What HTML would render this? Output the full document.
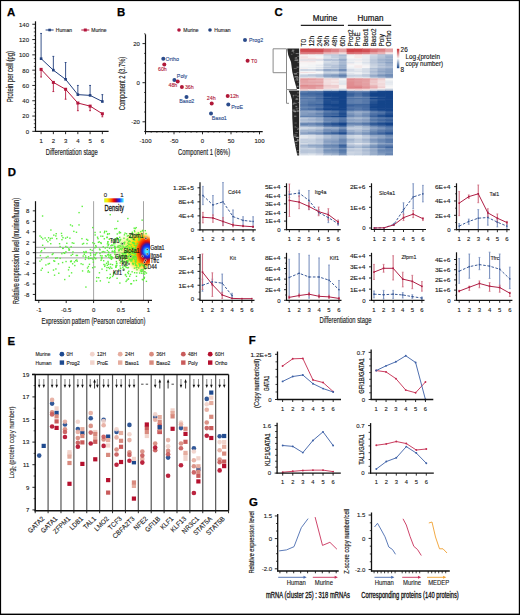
<!DOCTYPE html>
<html><head><meta charset="utf-8"><style>
html,body{margin:0;padding:0;background:#fff;}
svg{display:block;font-family:"Liberation Sans", sans-serif;}
</style></head><body>
<svg width="520" height="615" viewBox="0 0 520 615">
<rect width="520" height="615" fill="#fff"/>
<rect x="0.00" y="0.00" width="520.00" height="1.10" fill="#000"/>
<rect x="0.00" y="0.00" width="1.10" height="615.00" fill="#000"/>
<rect x="518.80" y="0.00" width="1.20" height="615.00" fill="#000"/>
<rect x="0.00" y="613.60" width="520.00" height="1.40" fill="#000"/>
<text transform="translate(7.00,15.50)" font-size="11.4" text-anchor="start" fill="#000" font-weight="bold" stroke="#000" stroke-width="0.25">A</text>
<text transform="translate(117.00,15.50)" font-size="11.4" text-anchor="start" fill="#000" font-weight="bold" stroke="#000" stroke-width="0.25">B</text>
<text transform="translate(274.50,15.50)" font-size="11.4" text-anchor="start" fill="#000" font-weight="bold" stroke="#000" stroke-width="0.25">C</text>
<text transform="translate(7.80,175.70)" font-size="11.4" text-anchor="start" fill="#000" font-weight="bold" stroke="#000" stroke-width="0.25">D</text>
<text transform="translate(7.50,345.00)" font-size="11.4" text-anchor="start" fill="#000" font-weight="bold" stroke="#000" stroke-width="0.25">E</text>
<text transform="translate(248.70,344.40)" font-size="11.4" text-anchor="start" fill="#000" font-weight="bold" stroke="#000" stroke-width="0.25">F</text>
<text transform="translate(249.00,505.50)" font-size="11.4" text-anchor="start" fill="#000" font-weight="bold" stroke="#000" stroke-width="0.25">G</text>
<line x1="35.50" y1="21.30" x2="35.50" y2="131.85" stroke="#111" stroke-width="1.2"/>
<line x1="34.90" y1="131.35" x2="108.60" y2="131.35" stroke="#111" stroke-width="1.2"/>
<line x1="32.30" y1="131.35" x2="35.50" y2="131.35" stroke="#111" stroke-width="0.9"/>
<text transform="translate(29.00,133.70)" font-size="6.0" text-anchor="end" fill="#222" font-weight="normal" stroke="#222" stroke-width="0.12">0</text>
<line x1="33.80" y1="127.52" x2="35.50" y2="127.52" stroke="#111" stroke-width="0.7"/>
<line x1="33.80" y1="123.70" x2="35.50" y2="123.70" stroke="#111" stroke-width="0.7"/>
<line x1="33.80" y1="119.88" x2="35.50" y2="119.88" stroke="#111" stroke-width="0.7"/>
<line x1="32.30" y1="116.05" x2="35.50" y2="116.05" stroke="#111" stroke-width="0.9"/>
<text transform="translate(29.00,118.40)" font-size="6.0" text-anchor="end" fill="#222" font-weight="normal" stroke="#222" stroke-width="0.12">20</text>
<line x1="33.80" y1="112.22" x2="35.50" y2="112.22" stroke="#111" stroke-width="0.7"/>
<line x1="33.80" y1="108.40" x2="35.50" y2="108.40" stroke="#111" stroke-width="0.7"/>
<line x1="33.80" y1="104.57" x2="35.50" y2="104.57" stroke="#111" stroke-width="0.7"/>
<line x1="32.30" y1="100.75" x2="35.50" y2="100.75" stroke="#111" stroke-width="0.9"/>
<text transform="translate(29.00,103.10)" font-size="6.0" text-anchor="end" fill="#222" font-weight="normal" stroke="#222" stroke-width="0.12">40</text>
<line x1="33.80" y1="96.92" x2="35.50" y2="96.92" stroke="#111" stroke-width="0.7"/>
<line x1="33.80" y1="93.10" x2="35.50" y2="93.10" stroke="#111" stroke-width="0.7"/>
<line x1="33.80" y1="89.27" x2="35.50" y2="89.27" stroke="#111" stroke-width="0.7"/>
<line x1="32.30" y1="85.45" x2="35.50" y2="85.45" stroke="#111" stroke-width="0.9"/>
<text transform="translate(29.00,87.80)" font-size="6.0" text-anchor="end" fill="#222" font-weight="normal" stroke="#222" stroke-width="0.12">60</text>
<line x1="33.80" y1="81.62" x2="35.50" y2="81.62" stroke="#111" stroke-width="0.7"/>
<line x1="33.80" y1="77.80" x2="35.50" y2="77.80" stroke="#111" stroke-width="0.7"/>
<line x1="33.80" y1="73.97" x2="35.50" y2="73.97" stroke="#111" stroke-width="0.7"/>
<line x1="32.30" y1="70.15" x2="35.50" y2="70.15" stroke="#111" stroke-width="0.9"/>
<text transform="translate(29.00,72.50)" font-size="6.0" text-anchor="end" fill="#222" font-weight="normal" stroke="#222" stroke-width="0.12">80</text>
<line x1="33.80" y1="66.32" x2="35.50" y2="66.32" stroke="#111" stroke-width="0.7"/>
<line x1="33.80" y1="62.50" x2="35.50" y2="62.50" stroke="#111" stroke-width="0.7"/>
<line x1="33.80" y1="58.67" x2="35.50" y2="58.67" stroke="#111" stroke-width="0.7"/>
<line x1="32.30" y1="54.85" x2="35.50" y2="54.85" stroke="#111" stroke-width="0.9"/>
<text transform="translate(29.00,57.20)" font-size="6.0" text-anchor="end" fill="#222" font-weight="normal" stroke="#222" stroke-width="0.12">100</text>
<line x1="33.80" y1="51.02" x2="35.50" y2="51.02" stroke="#111" stroke-width="0.7"/>
<line x1="33.80" y1="47.20" x2="35.50" y2="47.20" stroke="#111" stroke-width="0.7"/>
<line x1="33.80" y1="43.37" x2="35.50" y2="43.37" stroke="#111" stroke-width="0.7"/>
<line x1="32.30" y1="39.55" x2="35.50" y2="39.55" stroke="#111" stroke-width="0.9"/>
<text transform="translate(29.00,41.90)" font-size="6.0" text-anchor="end" fill="#222" font-weight="normal" stroke="#222" stroke-width="0.12">120</text>
<line x1="33.80" y1="35.72" x2="35.50" y2="35.72" stroke="#111" stroke-width="0.7"/>
<line x1="33.80" y1="31.90" x2="35.50" y2="31.90" stroke="#111" stroke-width="0.7"/>
<line x1="33.80" y1="28.07" x2="35.50" y2="28.07" stroke="#111" stroke-width="0.7"/>
<line x1="32.30" y1="24.25" x2="35.50" y2="24.25" stroke="#111" stroke-width="0.9"/>
<text transform="translate(29.00,26.60)" font-size="6.0" text-anchor="end" fill="#222" font-weight="normal" stroke="#222" stroke-width="0.12">140</text>
<line x1="41.10" y1="131.35" x2="41.10" y2="134.15" stroke="#111" stroke-width="0.9"/>
<text transform="translate(41.10,143.10)" font-size="6.0" text-anchor="middle" fill="#222" font-weight="normal" stroke="#222" stroke-width="0.12">1</text>
<line x1="53.35" y1="131.35" x2="53.35" y2="134.15" stroke="#111" stroke-width="0.9"/>
<text transform="translate(53.35,143.10)" font-size="6.0" text-anchor="middle" fill="#222" font-weight="normal" stroke="#222" stroke-width="0.12">2</text>
<line x1="65.60" y1="131.35" x2="65.60" y2="134.15" stroke="#111" stroke-width="0.9"/>
<text transform="translate(65.60,143.10)" font-size="6.0" text-anchor="middle" fill="#222" font-weight="normal" stroke="#222" stroke-width="0.12">3</text>
<line x1="77.85" y1="131.35" x2="77.85" y2="134.15" stroke="#111" stroke-width="0.9"/>
<text transform="translate(77.85,143.10)" font-size="6.0" text-anchor="middle" fill="#222" font-weight="normal" stroke="#222" stroke-width="0.12">4</text>
<line x1="90.10" y1="131.35" x2="90.10" y2="134.15" stroke="#111" stroke-width="0.9"/>
<text transform="translate(90.10,143.10)" font-size="6.0" text-anchor="middle" fill="#222" font-weight="normal" stroke="#222" stroke-width="0.12">5</text>
<line x1="102.35" y1="131.35" x2="102.35" y2="134.15" stroke="#111" stroke-width="0.9"/>
<text transform="translate(102.35,143.10)" font-size="6.0" text-anchor="middle" fill="#222" font-weight="normal" stroke="#222" stroke-width="0.12">6</text>
<text transform="translate(71.75,154.90)" font-size="8.6" text-anchor="middle" fill="#222" font-weight="normal" textLength="51.9" lengthAdjust="spacingAndGlyphs" stroke="#222" stroke-width="0.16">Differentiation stage</text>
<text transform="translate(12.80,76.70) rotate(-90)" font-size="8.6" text-anchor="middle" fill="#222" font-weight="normal" textLength="51.3" lengthAdjust="spacingAndGlyphs" stroke="#222" stroke-width="0.16">Protein per cell (pg)</text>
<line x1="41.10" y1="58.67" x2="41.10" y2="33.43" stroke="#22407e" stroke-width="0.9"/>
<line x1="40.20" y1="33.43" x2="42.00" y2="33.43" stroke="#22407e" stroke-width="0.9"/>
<line x1="41.10" y1="69.38" x2="41.10" y2="77.03" stroke="#b3163d" stroke-width="0.9"/>
<line x1="40.20" y1="77.03" x2="42.00" y2="77.03" stroke="#b3163d" stroke-width="0.9"/>
<line x1="53.35" y1="70.15" x2="53.35" y2="56.38" stroke="#22407e" stroke-width="0.9"/>
<line x1="52.45" y1="56.38" x2="54.25" y2="56.38" stroke="#22407e" stroke-width="0.9"/>
<line x1="53.35" y1="82.39" x2="53.35" y2="91.57" stroke="#b3163d" stroke-width="0.9"/>
<line x1="52.45" y1="91.57" x2="54.25" y2="91.57" stroke="#b3163d" stroke-width="0.9"/>
<line x1="65.60" y1="79.33" x2="65.60" y2="62.50" stroke="#22407e" stroke-width="0.9"/>
<line x1="64.70" y1="62.50" x2="66.50" y2="62.50" stroke="#22407e" stroke-width="0.9"/>
<line x1="65.60" y1="89.27" x2="65.60" y2="99.22" stroke="#b3163d" stroke-width="0.9"/>
<line x1="64.70" y1="99.22" x2="66.50" y2="99.22" stroke="#b3163d" stroke-width="0.9"/>
<line x1="77.85" y1="94.63" x2="77.85" y2="85.45" stroke="#22407e" stroke-width="0.9"/>
<line x1="76.95" y1="85.45" x2="78.75" y2="85.45" stroke="#22407e" stroke-width="0.9"/>
<line x1="77.85" y1="103.04" x2="77.85" y2="110.69" stroke="#b3163d" stroke-width="0.9"/>
<line x1="76.95" y1="110.69" x2="78.75" y2="110.69" stroke="#b3163d" stroke-width="0.9"/>
<line x1="90.10" y1="95.39" x2="90.10" y2="85.45" stroke="#22407e" stroke-width="0.9"/>
<line x1="89.20" y1="85.45" x2="91.00" y2="85.45" stroke="#22407e" stroke-width="0.9"/>
<line x1="90.10" y1="106.10" x2="90.10" y2="110.69" stroke="#b3163d" stroke-width="0.9"/>
<line x1="89.20" y1="110.69" x2="91.00" y2="110.69" stroke="#b3163d" stroke-width="0.9"/>
<line x1="102.35" y1="101.51" x2="102.35" y2="94.63" stroke="#22407e" stroke-width="0.9"/>
<line x1="101.45" y1="94.63" x2="103.25" y2="94.63" stroke="#22407e" stroke-width="0.9"/>
<line x1="102.35" y1="113.75" x2="102.35" y2="116.81" stroke="#b3163d" stroke-width="0.9"/>
<line x1="101.45" y1="116.81" x2="103.25" y2="116.81" stroke="#b3163d" stroke-width="0.9"/>
<polyline points="41.10,58.67 53.35,70.15 65.60,79.33 77.85,94.63 90.10,95.39 102.35,101.51" fill="none" stroke="#22407e" stroke-width="1.0" stroke-linejoin="round"/>
<polyline points="41.10,69.38 53.35,82.39 65.60,89.27 77.85,103.04 90.10,106.10 102.35,113.75" fill="none" stroke="#b3163d" stroke-width="1.0" stroke-linejoin="round"/>
<rect x="39.80" y="57.38" width="2.60" height="2.60" fill="#22407e"/>
<rect x="39.60" y="67.88" width="3.00" height="3.00" fill="#b3163d"/>
<rect x="52.05" y="68.85" width="2.60" height="2.60" fill="#22407e"/>
<rect x="51.85" y="80.89" width="3.00" height="3.00" fill="#b3163d"/>
<rect x="64.30" y="78.03" width="2.60" height="2.60" fill="#22407e"/>
<rect x="64.10" y="87.77" width="3.00" height="3.00" fill="#b3163d"/>
<rect x="76.55" y="93.33" width="2.60" height="2.60" fill="#22407e"/>
<rect x="76.35" y="101.54" width="3.00" height="3.00" fill="#b3163d"/>
<rect x="88.80" y="94.09" width="2.60" height="2.60" fill="#22407e"/>
<rect x="88.60" y="104.60" width="3.00" height="3.00" fill="#b3163d"/>
<rect x="101.05" y="100.21" width="2.60" height="2.60" fill="#22407e"/>
<rect x="100.85" y="112.25" width="3.00" height="3.00" fill="#b3163d"/>
<line x1="45.60" y1="30.00" x2="53.60" y2="30.00" stroke="#22407e" stroke-width="1"/>
<rect x="48.30" y="28.70" width="2.60" height="2.60" fill="#22407e"/>
<text transform="translate(55.80,32.00) scale(0.95,1)" font-size="5.3" text-anchor="start" fill="#222" font-weight="normal" stroke="#222" stroke-width="0.12">Human</text>
<line x1="81.30" y1="30.00" x2="89.30" y2="30.00" stroke="#b3163d" stroke-width="1"/>
<rect x="83.80" y="28.50" width="3.00" height="3.00" fill="#b3163d"/>
<text transform="translate(91.20,32.00) scale(0.95,1)" font-size="5.3" text-anchor="start" fill="#222" font-weight="normal" stroke="#222" stroke-width="0.12">Murine</text>
<line x1="145.50" y1="34.30" x2="145.50" y2="132.10" stroke="#111" stroke-width="1.2"/>
<line x1="144.90" y1="131.60" x2="262.70" y2="131.60" stroke="#111" stroke-width="1.2"/>
<line x1="144.00" y1="131.57" x2="145.50" y2="131.57" stroke="#111" stroke-width="0.7"/>
<line x1="142.50" y1="121.80" x2="145.50" y2="121.80" stroke="#111" stroke-width="0.9"/>
<text transform="translate(139.90,124.15)" font-size="6.0" text-anchor="end" fill="#222" font-weight="normal" stroke="#222" stroke-width="0.12">-20</text>
<line x1="144.00" y1="112.03" x2="145.50" y2="112.03" stroke="#111" stroke-width="0.7"/>
<line x1="144.00" y1="102.25" x2="145.50" y2="102.25" stroke="#111" stroke-width="0.7"/>
<line x1="144.00" y1="92.48" x2="145.50" y2="92.48" stroke="#111" stroke-width="0.7"/>
<line x1="142.50" y1="82.70" x2="145.50" y2="82.70" stroke="#111" stroke-width="0.9"/>
<text transform="translate(139.90,85.05)" font-size="6.0" text-anchor="end" fill="#222" font-weight="normal" stroke="#222" stroke-width="0.12">0</text>
<line x1="144.00" y1="72.92" x2="145.50" y2="72.92" stroke="#111" stroke-width="0.7"/>
<line x1="144.00" y1="63.15" x2="145.50" y2="63.15" stroke="#111" stroke-width="0.7"/>
<line x1="144.00" y1="53.38" x2="145.50" y2="53.38" stroke="#111" stroke-width="0.7"/>
<line x1="142.50" y1="43.60" x2="145.50" y2="43.60" stroke="#111" stroke-width="0.9"/>
<text transform="translate(139.90,45.95)" font-size="6.0" text-anchor="end" fill="#222" font-weight="normal" stroke="#222" stroke-width="0.12">20</text>
<line x1="144.00" y1="33.83" x2="145.50" y2="33.83" stroke="#111" stroke-width="0.7"/>
<line x1="145.50" y1="131.60" x2="145.50" y2="134.30" stroke="#111" stroke-width="0.9"/>
<text transform="translate(145.50,143.30)" font-size="6.0" text-anchor="middle" fill="#222" font-weight="normal" stroke="#222" stroke-width="0.12">-100</text>
<line x1="151.20" y1="131.60" x2="151.20" y2="132.80" stroke="#111" stroke-width="0.7"/>
<line x1="156.90" y1="131.60" x2="156.90" y2="132.80" stroke="#111" stroke-width="0.7"/>
<line x1="162.60" y1="131.60" x2="162.60" y2="132.80" stroke="#111" stroke-width="0.7"/>
<line x1="168.30" y1="131.60" x2="168.30" y2="132.80" stroke="#111" stroke-width="0.7"/>
<line x1="174.00" y1="131.60" x2="174.00" y2="134.30" stroke="#111" stroke-width="0.9"/>
<text transform="translate(174.00,143.30)" font-size="6.0" text-anchor="middle" fill="#222" font-weight="normal" stroke="#222" stroke-width="0.12">-50</text>
<line x1="179.70" y1="131.60" x2="179.70" y2="132.80" stroke="#111" stroke-width="0.7"/>
<line x1="185.40" y1="131.60" x2="185.40" y2="132.80" stroke="#111" stroke-width="0.7"/>
<line x1="191.10" y1="131.60" x2="191.10" y2="132.80" stroke="#111" stroke-width="0.7"/>
<line x1="196.80" y1="131.60" x2="196.80" y2="132.80" stroke="#111" stroke-width="0.7"/>
<line x1="202.50" y1="131.60" x2="202.50" y2="134.30" stroke="#111" stroke-width="0.9"/>
<text transform="translate(202.50,143.30)" font-size="6.0" text-anchor="middle" fill="#222" font-weight="normal" stroke="#222" stroke-width="0.12">0</text>
<line x1="208.20" y1="131.60" x2="208.20" y2="132.80" stroke="#111" stroke-width="0.7"/>
<line x1="213.90" y1="131.60" x2="213.90" y2="132.80" stroke="#111" stroke-width="0.7"/>
<line x1="219.60" y1="131.60" x2="219.60" y2="132.80" stroke="#111" stroke-width="0.7"/>
<line x1="225.30" y1="131.60" x2="225.30" y2="132.80" stroke="#111" stroke-width="0.7"/>
<line x1="231.00" y1="131.60" x2="231.00" y2="134.30" stroke="#111" stroke-width="0.9"/>
<text transform="translate(231.00,143.30)" font-size="6.0" text-anchor="middle" fill="#222" font-weight="normal" stroke="#222" stroke-width="0.12">50</text>
<line x1="236.70" y1="131.60" x2="236.70" y2="132.80" stroke="#111" stroke-width="0.7"/>
<line x1="242.40" y1="131.60" x2="242.40" y2="132.80" stroke="#111" stroke-width="0.7"/>
<line x1="248.10" y1="131.60" x2="248.10" y2="132.80" stroke="#111" stroke-width="0.7"/>
<line x1="253.80" y1="131.60" x2="253.80" y2="132.80" stroke="#111" stroke-width="0.7"/>
<line x1="259.50" y1="131.60" x2="259.50" y2="134.30" stroke="#111" stroke-width="0.9"/>
<text transform="translate(259.50,143.30)" font-size="6.0" text-anchor="middle" fill="#222" font-weight="normal" stroke="#222" stroke-width="0.12">100</text>
<text transform="translate(204.10,155.20)" font-size="8.6" text-anchor="middle" fill="#222" font-weight="normal" textLength="52" lengthAdjust="spacingAndGlyphs" stroke="#222" stroke-width="0.16">Component 1 (86%)</text>
<text transform="translate(125.30,83.50) rotate(-90)" font-size="8.6" text-anchor="middle" fill="#222" font-weight="normal" textLength="53.5" lengthAdjust="spacingAndGlyphs" stroke="#222" stroke-width="0.16">Component 2 (3.7%)</text>
<circle cx="179.00" cy="30.00" r="1.8" fill="#b3163d"/>
<text transform="translate(183.20,32.00) scale(0.95,1)" font-size="5.3" text-anchor="start" fill="#222" font-weight="normal" stroke="#222" stroke-width="0.12">Murine</text>
<circle cx="210.00" cy="30.00" r="1.8" fill="#22407e"/>
<text transform="translate(214.30,32.00) scale(0.95,1)" font-size="5.3" text-anchor="start" fill="#222" font-weight="normal" stroke="#222" stroke-width="0.12">Human</text>
<circle cx="245.00" cy="39.90" r="2.0" fill="#2b4c8c"/>
<text transform="translate(249.00,42.00)" font-size="5.3" text-anchor="start" fill="#2b4c8c" font-weight="normal" stroke="#2b4c8c" stroke-width="0.12">Prog2</text>
<circle cx="247.60" cy="60.80" r="2.0" fill="#b01838"/>
<text transform="translate(251.00,62.90)" font-size="5.3" text-anchor="start" fill="#b01838" font-weight="normal" stroke="#b01838" stroke-width="0.12">T0</text>
<circle cx="163.30" cy="58.80" r="2.0" fill="#2b4c8c"/>
<text transform="translate(165.60,60.90)" font-size="5.3" text-anchor="start" fill="#2b4c8c" font-weight="normal" stroke="#2b4c8c" stroke-width="0.12">Ortho</text>
<circle cx="164.30" cy="64.40" r="2.0" fill="#b01838"/>
<text transform="translate(162.40,71.10)" font-size="5.3" text-anchor="middle" fill="#b01838" font-weight="normal" stroke="#b01838" stroke-width="0.12">60h</text>
<circle cx="174.40" cy="80.10" r="2.0" fill="#2b4c8c"/>
<text transform="translate(182.00,77.90)" font-size="5.3" text-anchor="middle" fill="#2b4c8c" font-weight="normal" stroke="#2b4c8c" stroke-width="0.12">Poly</text>
<circle cx="177.70" cy="81.40" r="2.0" fill="#b01838"/>
<text transform="translate(172.90,87.10)" font-size="5.3" text-anchor="middle" fill="#b01838" font-weight="normal" stroke="#b01838" stroke-width="0.12">48h</text>
<circle cx="181.90" cy="87.00" r="2.0" fill="#b01838"/>
<text transform="translate(189.30,89.10)" font-size="5.3" text-anchor="middle" fill="#b01838" font-weight="normal" stroke="#b01838" stroke-width="0.12">36h</text>
<circle cx="186.50" cy="97.10" r="2.0" fill="#2b4c8c"/>
<text transform="translate(186.80,103.40)" font-size="5.3" text-anchor="middle" fill="#2b4c8c" font-weight="normal" stroke="#2b4c8c" stroke-width="0.12">Baso2</text>
<circle cx="211.70" cy="103.60" r="2.0" fill="#b01838"/>
<text transform="translate(211.20,99.80)" font-size="5.3" text-anchor="middle" fill="#b01838" font-weight="normal" stroke="#b01838" stroke-width="0.12">24h</text>
<circle cx="227.70" cy="96.10" r="2.0" fill="#b01838"/>
<text transform="translate(234.40,98.10)" font-size="5.3" text-anchor="middle" fill="#b01838" font-weight="normal" stroke="#b01838" stroke-width="0.12">12h</text>
<circle cx="228.30" cy="104.60" r="2.0" fill="#2b4c8c"/>
<text transform="translate(237.10,108.70)" font-size="5.3" text-anchor="middle" fill="#2b4c8c" font-weight="normal" stroke="#2b4c8c" stroke-width="0.12">ProE</text>
<circle cx="211.00" cy="113.40" r="2.0" fill="#2b4c8c"/>
<text transform="translate(219.30,119.50)" font-size="5.3" text-anchor="middle" fill="#2b4c8c" font-weight="normal" stroke="#2b4c8c" stroke-width="0.12">Baso1</text>
<rect x="300.20" y="48.50" width="8.33" height="2.60" fill="#d0464c"/>
<rect x="307.93" y="48.50" width="8.33" height="2.60" fill="#d1494f"/>
<rect x="315.67" y="48.50" width="8.33" height="2.60" fill="#d24f54"/>
<rect x="323.40" y="48.50" width="8.33" height="2.60" fill="#d96d72"/>
<rect x="331.13" y="48.50" width="8.33" height="2.60" fill="#dd7f83"/>
<rect x="338.87" y="48.50" width="8.33" height="2.60" fill="#e49fa2"/>
<rect x="346.60" y="48.50" width="8.33" height="2.60" fill="#cf4046"/>
<rect x="354.33" y="48.50" width="8.33" height="2.60" fill="#ce3f45"/>
<rect x="362.07" y="48.50" width="8.33" height="2.60" fill="#d35358"/>
<rect x="369.80" y="48.50" width="8.33" height="2.60" fill="#d97075"/>
<rect x="377.53" y="48.50" width="8.33" height="2.60" fill="#db797d"/>
<rect x="385.27" y="48.50" width="7.73" height="2.60" fill="#e4a0a3"/>
<rect x="300.20" y="50.50" width="8.33" height="2.40" fill="#d24f54"/>
<rect x="307.93" y="50.50" width="8.33" height="2.40" fill="#d24d53"/>
<rect x="315.67" y="50.50" width="8.33" height="2.40" fill="#d14c52"/>
<rect x="323.40" y="50.50" width="8.33" height="2.40" fill="#db767b"/>
<rect x="331.13" y="50.50" width="8.33" height="2.40" fill="#de8489"/>
<rect x="338.87" y="50.50" width="8.33" height="2.40" fill="#e5a1a4"/>
<rect x="346.60" y="50.50" width="8.33" height="2.40" fill="#cf4249"/>
<rect x="354.33" y="50.50" width="8.33" height="2.40" fill="#d1494f"/>
<rect x="362.07" y="50.50" width="8.33" height="2.40" fill="#d24f54"/>
<rect x="369.80" y="50.50" width="8.33" height="2.40" fill="#d96f74"/>
<rect x="377.53" y="50.50" width="8.33" height="2.40" fill="#df8b8f"/>
<rect x="385.27" y="50.50" width="7.73" height="2.40" fill="#e6a8ab"/>
<rect x="300.20" y="52.30" width="8.33" height="1.90" fill="#dd7e83"/>
<rect x="307.93" y="52.30" width="8.33" height="1.90" fill="#dc7d82"/>
<rect x="315.67" y="52.30" width="8.33" height="1.90" fill="#dd8286"/>
<rect x="323.40" y="52.30" width="8.33" height="1.90" fill="#e9b3b6"/>
<rect x="331.13" y="52.30" width="8.33" height="1.90" fill="#eababc"/>
<rect x="338.87" y="52.30" width="8.33" height="1.90" fill="#f1d7d8"/>
<rect x="346.60" y="52.30" width="8.33" height="1.90" fill="#da7176"/>
<rect x="354.33" y="52.30" width="8.33" height="1.90" fill="#db777c"/>
<rect x="362.07" y="52.30" width="8.33" height="1.90" fill="#de8287"/>
<rect x="369.80" y="52.30" width="8.33" height="1.90" fill="#e5a5a8"/>
<rect x="377.53" y="52.30" width="8.33" height="1.90" fill="#e9b4b6"/>
<rect x="385.27" y="52.30" width="7.73" height="1.90" fill="#f4e5e6"/>
<rect x="300.20" y="53.60" width="8.33" height="1.30" fill="#dc7b80"/>
<rect x="307.93" y="53.60" width="8.33" height="1.30" fill="#dd7f83"/>
<rect x="315.67" y="53.60" width="8.33" height="1.30" fill="#dd8286"/>
<rect x="323.40" y="53.60" width="8.33" height="1.30" fill="#eabbbd"/>
<rect x="331.13" y="53.60" width="8.33" height="1.30" fill="#ecc3c5"/>
<rect x="338.87" y="53.60" width="8.33" height="1.30" fill="#f2dedf"/>
<rect x="346.60" y="53.60" width="8.33" height="1.30" fill="#d97075"/>
<rect x="354.33" y="53.60" width="8.33" height="1.30" fill="#dc7c80"/>
<rect x="362.07" y="53.60" width="8.33" height="1.30" fill="#df888c"/>
<rect x="369.80" y="53.60" width="8.33" height="1.30" fill="#e5a5a8"/>
<rect x="377.53" y="53.60" width="8.33" height="1.30" fill="#e9b3b6"/>
<rect x="385.27" y="53.60" width="7.73" height="1.30" fill="#f4e6e7"/>
<rect x="300.20" y="54.30" width="8.33" height="1.50" fill="#f5e9e9"/>
<rect x="307.93" y="54.30" width="8.33" height="1.50" fill="#f6eff0"/>
<rect x="315.67" y="54.30" width="8.33" height="1.50" fill="#f3f4f6"/>
<rect x="323.40" y="54.30" width="8.33" height="1.50" fill="#c1cdde"/>
<rect x="331.13" y="54.30" width="8.33" height="1.50" fill="#becadc"/>
<rect x="338.87" y="54.30" width="8.33" height="1.50" fill="#afbed5"/>
<rect x="346.60" y="54.30" width="8.33" height="1.50" fill="#f5f6f6"/>
<rect x="354.33" y="54.30" width="8.33" height="1.50" fill="#f5e9ea"/>
<rect x="362.07" y="54.30" width="8.33" height="1.50" fill="#eef0f3"/>
<rect x="369.80" y="54.30" width="8.33" height="1.50" fill="#d2dae6"/>
<rect x="377.53" y="54.30" width="8.33" height="1.50" fill="#adbdd4"/>
<rect x="385.27" y="54.30" width="7.73" height="1.50" fill="#a7b8d1"/>
<rect x="300.20" y="55.20" width="8.33" height="1.60" fill="#f6edee"/>
<rect x="307.93" y="55.20" width="8.33" height="1.60" fill="#f2f3f5"/>
<rect x="315.67" y="55.20" width="8.33" height="1.60" fill="#edeff3"/>
<rect x="323.40" y="55.20" width="8.33" height="1.60" fill="#cdd6e3"/>
<rect x="331.13" y="55.20" width="8.33" height="1.60" fill="#bdc9db"/>
<rect x="338.87" y="55.20" width="8.33" height="1.60" fill="#a5b7d0"/>
<rect x="346.60" y="55.20" width="8.33" height="1.60" fill="#f0f2f4"/>
<rect x="354.33" y="55.20" width="8.33" height="1.60" fill="#f5e9e9"/>
<rect x="362.07" y="55.20" width="8.33" height="1.60" fill="#e7ebf0"/>
<rect x="369.80" y="55.20" width="8.33" height="1.60" fill="#ccd5e3"/>
<rect x="377.53" y="55.20" width="8.33" height="1.60" fill="#b7c5d9"/>
<rect x="385.27" y="55.20" width="7.73" height="1.60" fill="#a2b4cf"/>
<rect x="300.20" y="56.20" width="8.33" height="2.60" fill="#f3e0e1"/>
<rect x="307.93" y="56.20" width="8.33" height="2.60" fill="#f6f0f1"/>
<rect x="315.67" y="56.20" width="8.33" height="2.60" fill="#f5f6f7"/>
<rect x="323.40" y="56.20" width="8.33" height="2.60" fill="#d8dfe9"/>
<rect x="331.13" y="56.20" width="8.33" height="2.60" fill="#c2cede"/>
<rect x="338.87" y="56.20" width="8.33" height="2.60" fill="#b7c5d9"/>
<rect x="346.60" y="56.20" width="8.33" height="2.60" fill="#f7f6f6"/>
<rect x="354.33" y="56.20" width="8.33" height="2.60" fill="#f5e9e9"/>
<rect x="362.07" y="56.20" width="8.33" height="2.60" fill="#e9ecf1"/>
<rect x="369.80" y="56.20" width="8.33" height="2.60" fill="#c6d0e0"/>
<rect x="377.53" y="56.20" width="8.33" height="2.60" fill="#b2c1d6"/>
<rect x="385.27" y="56.20" width="7.73" height="2.60" fill="#9aaecb"/>
<rect x="300.20" y="58.20" width="8.33" height="1.90" fill="#f4e4e5"/>
<rect x="307.93" y="58.20" width="8.33" height="1.90" fill="#f2dfe0"/>
<rect x="315.67" y="58.20" width="8.33" height="1.90" fill="#f5e9ea"/>
<rect x="323.40" y="58.20" width="8.33" height="1.90" fill="#d1d9e5"/>
<rect x="331.13" y="58.20" width="8.33" height="1.90" fill="#d2dae6"/>
<rect x="338.87" y="58.20" width="8.33" height="1.90" fill="#adbdd4"/>
<rect x="346.60" y="58.20" width="8.33" height="1.90" fill="#f0f1f4"/>
<rect x="354.33" y="58.20" width="8.33" height="1.90" fill="#f0f2f4"/>
<rect x="362.07" y="58.20" width="8.33" height="1.90" fill="#e7eaf0"/>
<rect x="369.80" y="58.20" width="8.33" height="1.90" fill="#c3cede"/>
<rect x="377.53" y="58.20" width="8.33" height="1.90" fill="#aabad2"/>
<rect x="385.27" y="58.20" width="7.73" height="1.90" fill="#a3b5cf"/>
<rect x="300.20" y="59.50" width="8.33" height="1.60" fill="#d3dae6"/>
<rect x="307.93" y="59.50" width="8.33" height="1.60" fill="#d7dee8"/>
<rect x="315.67" y="59.50" width="8.33" height="1.60" fill="#c7d1e0"/>
<rect x="323.40" y="59.50" width="8.33" height="1.60" fill="#95a9c8"/>
<rect x="331.13" y="59.50" width="8.33" height="1.60" fill="#97abc9"/>
<rect x="338.87" y="59.50" width="8.33" height="1.60" fill="#8099be"/>
<rect x="346.60" y="59.50" width="8.33" height="1.60" fill="#e1e6ed"/>
<rect x="354.33" y="59.50" width="8.33" height="1.60" fill="#e2e6ed"/>
<rect x="362.07" y="59.50" width="8.33" height="1.60" fill="#dce2ea"/>
<rect x="369.80" y="59.50" width="8.33" height="1.60" fill="#b4c2d7"/>
<rect x="377.53" y="59.50" width="8.33" height="1.60" fill="#96abc9"/>
<rect x="385.27" y="59.50" width="7.73" height="1.60" fill="#879fc1"/>
<rect x="300.20" y="60.50" width="8.33" height="1.90" fill="#f4e5e6"/>
<rect x="307.93" y="60.50" width="8.33" height="1.90" fill="#f4e4e5"/>
<rect x="315.67" y="60.50" width="8.33" height="1.90" fill="#f7f4f4"/>
<rect x="323.40" y="60.50" width="8.33" height="1.90" fill="#d5dce7"/>
<rect x="331.13" y="60.50" width="8.33" height="1.90" fill="#d0d8e4"/>
<rect x="338.87" y="60.50" width="8.33" height="1.90" fill="#b1c0d6"/>
<rect x="346.60" y="60.50" width="8.33" height="1.90" fill="#f0f2f4"/>
<rect x="354.33" y="60.50" width="8.33" height="1.90" fill="#f7f2f2"/>
<rect x="362.07" y="60.50" width="8.33" height="1.90" fill="#eaedf1"/>
<rect x="369.80" y="60.50" width="8.33" height="1.90" fill="#becadc"/>
<rect x="377.53" y="60.50" width="8.33" height="1.90" fill="#aebdd4"/>
<rect x="385.27" y="60.50" width="7.73" height="1.90" fill="#a3b5cf"/>
<rect x="300.20" y="61.80" width="8.33" height="2.20" fill="#f7f2f2"/>
<rect x="307.93" y="61.80" width="8.33" height="2.20" fill="#f6f1f1"/>
<rect x="315.67" y="61.80" width="8.33" height="2.20" fill="#f7f6f6"/>
<rect x="323.40" y="61.80" width="8.33" height="2.20" fill="#d0d9e5"/>
<rect x="331.13" y="61.80" width="8.33" height="2.20" fill="#c5d0df"/>
<rect x="338.87" y="61.80" width="8.33" height="2.20" fill="#a7b8d1"/>
<rect x="346.60" y="61.80" width="8.33" height="2.20" fill="#dfe4ec"/>
<rect x="354.33" y="61.80" width="8.33" height="2.20" fill="#eef0f3"/>
<rect x="362.07" y="61.80" width="8.33" height="2.20" fill="#dae1ea"/>
<rect x="369.80" y="61.80" width="8.33" height="2.20" fill="#b9c6d9"/>
<rect x="377.53" y="61.80" width="8.33" height="2.20" fill="#a0b3ce"/>
<rect x="385.27" y="61.80" width="7.73" height="2.20" fill="#88a0c2"/>
<rect x="300.20" y="63.40" width="8.33" height="1.90" fill="#f7f5f5"/>
<rect x="307.93" y="63.40" width="8.33" height="1.90" fill="#f7f5f5"/>
<rect x="315.67" y="63.40" width="8.33" height="1.90" fill="#f5f5f6"/>
<rect x="323.40" y="63.40" width="8.33" height="1.90" fill="#c3cfdf"/>
<rect x="331.13" y="63.40" width="8.33" height="1.90" fill="#ccd5e3"/>
<rect x="338.87" y="63.40" width="8.33" height="1.90" fill="#adbdd4"/>
<rect x="346.60" y="63.40" width="8.33" height="1.90" fill="#f6f0f0"/>
<rect x="354.33" y="63.40" width="8.33" height="1.90" fill="#f8f8f8"/>
<rect x="362.07" y="63.40" width="8.33" height="1.90" fill="#e9ecf1"/>
<rect x="369.80" y="63.40" width="8.33" height="1.90" fill="#c6d0e0"/>
<rect x="377.53" y="63.40" width="8.33" height="1.90" fill="#bdc9dc"/>
<rect x="385.27" y="63.40" width="7.73" height="1.90" fill="#a2b4cf"/>
<rect x="300.20" y="64.70" width="8.33" height="1.60" fill="#f8f8f8"/>
<rect x="307.93" y="64.70" width="8.33" height="1.60" fill="#f0f2f4"/>
<rect x="315.67" y="64.70" width="8.33" height="1.60" fill="#e1e6ed"/>
<rect x="323.40" y="64.70" width="8.33" height="1.60" fill="#b5c3d7"/>
<rect x="331.13" y="64.70" width="8.33" height="1.60" fill="#b2c1d6"/>
<rect x="338.87" y="64.70" width="8.33" height="1.60" fill="#96abc9"/>
<rect x="346.60" y="64.70" width="8.33" height="1.60" fill="#f6f6f7"/>
<rect x="354.33" y="64.70" width="8.33" height="1.60" fill="#f6efef"/>
<rect x="362.07" y="64.70" width="8.33" height="1.60" fill="#f0f2f4"/>
<rect x="369.80" y="64.70" width="8.33" height="1.60" fill="#c5d0df"/>
<rect x="377.53" y="64.70" width="8.33" height="1.60" fill="#a7b8d1"/>
<rect x="385.27" y="64.70" width="7.73" height="1.60" fill="#9aaecb"/>
<rect x="300.20" y="65.70" width="8.33" height="1.60" fill="#f8f6f6"/>
<rect x="307.93" y="65.70" width="8.33" height="1.60" fill="#f7f7f7"/>
<rect x="315.67" y="65.70" width="8.33" height="1.60" fill="#f6f6f7"/>
<rect x="323.40" y="65.70" width="8.33" height="1.60" fill="#d2dae6"/>
<rect x="331.13" y="65.70" width="8.33" height="1.60" fill="#bbc8db"/>
<rect x="338.87" y="65.70" width="8.33" height="1.60" fill="#a4b6d0"/>
<rect x="346.60" y="65.70" width="8.33" height="1.60" fill="#f5f6f7"/>
<rect x="354.33" y="65.70" width="8.33" height="1.60" fill="#f5ebec"/>
<rect x="362.07" y="65.70" width="8.33" height="1.60" fill="#f7f4f5"/>
<rect x="369.80" y="65.70" width="8.33" height="1.60" fill="#cfd7e4"/>
<rect x="377.53" y="65.70" width="8.33" height="1.60" fill="#bdc9db"/>
<rect x="385.27" y="65.70" width="7.73" height="1.60" fill="#abbbd3"/>
<rect x="300.20" y="66.70" width="8.33" height="1.90" fill="#eff1f4"/>
<rect x="307.93" y="66.70" width="8.33" height="1.90" fill="#edf0f3"/>
<rect x="315.67" y="66.70" width="8.33" height="1.90" fill="#e1e6ed"/>
<rect x="323.40" y="66.70" width="8.33" height="1.90" fill="#b9c6d9"/>
<rect x="331.13" y="66.70" width="8.33" height="1.90" fill="#b2c0d6"/>
<rect x="338.87" y="66.70" width="8.33" height="1.90" fill="#9cafcc"/>
<rect x="346.60" y="66.70" width="8.33" height="1.90" fill="#eff1f4"/>
<rect x="354.33" y="66.70" width="8.33" height="1.90" fill="#f5ecec"/>
<rect x="362.07" y="66.70" width="8.33" height="1.90" fill="#f6f6f7"/>
<rect x="369.80" y="66.70" width="8.33" height="1.90" fill="#ced7e4"/>
<rect x="377.53" y="66.70" width="8.33" height="1.90" fill="#b7c4d9"/>
<rect x="385.27" y="66.70" width="7.73" height="1.90" fill="#abbbd3"/>
<rect x="300.20" y="68.00" width="8.33" height="1.60" fill="#f6efef"/>
<rect x="307.93" y="68.00" width="8.33" height="1.60" fill="#f4f5f6"/>
<rect x="315.67" y="68.00" width="8.33" height="1.60" fill="#eceef2"/>
<rect x="323.40" y="68.00" width="8.33" height="1.60" fill="#c8d2e1"/>
<rect x="331.13" y="68.00" width="8.33" height="1.60" fill="#c2cede"/>
<rect x="338.87" y="68.00" width="8.33" height="1.60" fill="#a1b4ce"/>
<rect x="346.60" y="68.00" width="8.33" height="1.60" fill="#e9ecf1"/>
<rect x="354.33" y="68.00" width="8.33" height="1.60" fill="#edeff3"/>
<rect x="362.07" y="68.00" width="8.33" height="1.60" fill="#d9e0e9"/>
<rect x="369.80" y="68.00" width="8.33" height="1.60" fill="#b0bfd5"/>
<rect x="377.53" y="68.00" width="8.33" height="1.60" fill="#a1b3ce"/>
<rect x="385.27" y="68.00" width="7.73" height="1.60" fill="#94a9c8"/>
<rect x="300.20" y="69.00" width="8.33" height="2.60" fill="#cdd6e3"/>
<rect x="307.93" y="69.00" width="8.33" height="2.60" fill="#d1d9e5"/>
<rect x="315.67" y="69.00" width="8.33" height="2.60" fill="#becadc"/>
<rect x="323.40" y="69.00" width="8.33" height="2.60" fill="#91a6c6"/>
<rect x="331.13" y="69.00" width="8.33" height="2.60" fill="#98acca"/>
<rect x="338.87" y="69.00" width="8.33" height="2.60" fill="#718db7"/>
<rect x="346.60" y="69.00" width="8.33" height="2.60" fill="#d6dde8"/>
<rect x="354.33" y="69.00" width="8.33" height="2.60" fill="#e4e8ee"/>
<rect x="362.07" y="69.00" width="8.33" height="2.60" fill="#d5dde7"/>
<rect x="369.80" y="69.00" width="8.33" height="2.60" fill="#b9c6d9"/>
<rect x="377.53" y="69.00" width="8.33" height="2.60" fill="#9baecb"/>
<rect x="385.27" y="69.00" width="7.73" height="2.60" fill="#8ba2c4"/>
<rect x="300.20" y="71.00" width="8.33" height="1.60" fill="#f1f3f5"/>
<rect x="307.93" y="71.00" width="8.33" height="1.60" fill="#f2f3f5"/>
<rect x="315.67" y="71.00" width="8.33" height="1.60" fill="#edeff3"/>
<rect x="323.40" y="71.00" width="8.33" height="1.60" fill="#b7c5d9"/>
<rect x="331.13" y="71.00" width="8.33" height="1.60" fill="#b9c6d9"/>
<rect x="338.87" y="71.00" width="8.33" height="1.60" fill="#9cafcc"/>
<rect x="346.60" y="71.00" width="8.33" height="1.60" fill="#dbe1ea"/>
<rect x="354.33" y="71.00" width="8.33" height="1.60" fill="#dce2ea"/>
<rect x="362.07" y="71.00" width="8.33" height="1.60" fill="#d2dae6"/>
<rect x="369.80" y="71.00" width="8.33" height="1.60" fill="#abbbd3"/>
<rect x="377.53" y="71.00" width="8.33" height="1.60" fill="#8fa5c5"/>
<rect x="385.27" y="71.00" width="7.73" height="1.60" fill="#88a0c2"/>
<rect x="300.20" y="72.00" width="8.33" height="1.60" fill="#f3e0e1"/>
<rect x="307.93" y="72.00" width="8.33" height="1.60" fill="#f4e7e8"/>
<rect x="315.67" y="72.00" width="8.33" height="1.60" fill="#f8f8f8"/>
<rect x="323.40" y="72.00" width="8.33" height="1.60" fill="#c7d2e1"/>
<rect x="331.13" y="72.00" width="8.33" height="1.60" fill="#ced7e4"/>
<rect x="338.87" y="72.00" width="8.33" height="1.60" fill="#b3c1d7"/>
<rect x="346.60" y="72.00" width="8.33" height="1.60" fill="#ebeef2"/>
<rect x="354.33" y="72.00" width="8.33" height="1.60" fill="#eceff2"/>
<rect x="362.07" y="72.00" width="8.33" height="1.60" fill="#d8dfe9"/>
<rect x="369.80" y="72.00" width="8.33" height="1.60" fill="#b1c0d6"/>
<rect x="377.53" y="72.00" width="8.33" height="1.60" fill="#9bafcb"/>
<rect x="385.27" y="72.00" width="7.73" height="1.60" fill="#88a0c2"/>
<rect x="300.20" y="73.00" width="8.33" height="1.60" fill="#f4f5f6"/>
<rect x="307.93" y="73.00" width="8.33" height="1.60" fill="#f4f5f6"/>
<rect x="315.67" y="73.00" width="8.33" height="1.60" fill="#ebedf2"/>
<rect x="323.40" y="73.00" width="8.33" height="1.60" fill="#b9c7da"/>
<rect x="331.13" y="73.00" width="8.33" height="1.60" fill="#bcc9db"/>
<rect x="338.87" y="73.00" width="8.33" height="1.60" fill="#98adca"/>
<rect x="346.60" y="73.00" width="8.33" height="1.60" fill="#e1e6ed"/>
<rect x="354.33" y="73.00" width="8.33" height="1.60" fill="#eff1f4"/>
<rect x="362.07" y="73.00" width="8.33" height="1.60" fill="#e1e6ed"/>
<rect x="369.80" y="73.00" width="8.33" height="1.60" fill="#bac7da"/>
<rect x="377.53" y="73.00" width="8.33" height="1.60" fill="#a1b3ce"/>
<rect x="385.27" y="73.00" width="7.73" height="1.60" fill="#91a7c6"/>
<rect x="300.20" y="74.00" width="8.33" height="1.90" fill="#d7dee8"/>
<rect x="307.93" y="74.00" width="8.33" height="1.90" fill="#c6d0e0"/>
<rect x="315.67" y="74.00" width="8.33" height="1.90" fill="#c0cbdd"/>
<rect x="323.40" y="74.00" width="8.33" height="1.90" fill="#98acca"/>
<rect x="331.13" y="74.00" width="8.33" height="1.90" fill="#90a6c6"/>
<rect x="338.87" y="74.00" width="8.33" height="1.90" fill="#7792ba"/>
<rect x="346.60" y="74.00" width="8.33" height="1.90" fill="#d8dfe9"/>
<rect x="354.33" y="74.00" width="8.33" height="1.90" fill="#dbe1ea"/>
<rect x="362.07" y="74.00" width="8.33" height="1.90" fill="#c3cede"/>
<rect x="369.80" y="74.00" width="8.33" height="1.90" fill="#a9bad2"/>
<rect x="377.53" y="74.00" width="8.33" height="1.90" fill="#8aa1c3"/>
<rect x="385.27" y="74.00" width="7.73" height="1.90" fill="#738fb8"/>
<rect x="300.20" y="75.30" width="8.33" height="1.60" fill="#bbc8da"/>
<rect x="307.93" y="75.30" width="8.33" height="1.60" fill="#b5c3d7"/>
<rect x="315.67" y="75.30" width="8.33" height="1.60" fill="#acbcd3"/>
<rect x="323.40" y="75.30" width="8.33" height="1.60" fill="#819abf"/>
<rect x="331.13" y="75.30" width="8.33" height="1.60" fill="#738fb8"/>
<rect x="338.87" y="75.30" width="8.33" height="1.60" fill="#5275a8"/>
<rect x="346.60" y="75.30" width="8.33" height="1.60" fill="#becadc"/>
<rect x="354.33" y="75.30" width="8.33" height="1.60" fill="#c2cdde"/>
<rect x="362.07" y="75.30" width="8.33" height="1.60" fill="#bac7da"/>
<rect x="369.80" y="75.30" width="8.33" height="1.60" fill="#8aa1c3"/>
<rect x="377.53" y="75.30" width="8.33" height="1.60" fill="#708db6"/>
<rect x="385.27" y="75.30" width="7.73" height="1.60" fill="#6987b3"/>
<rect x="300.20" y="76.30" width="8.33" height="1.80" fill="#c9d3e1"/>
<rect x="307.93" y="76.30" width="8.33" height="1.80" fill="#d0d9e5"/>
<rect x="315.67" y="76.30" width="8.33" height="1.80" fill="#b9c6da"/>
<rect x="323.40" y="76.30" width="8.33" height="1.80" fill="#91a7c6"/>
<rect x="331.13" y="76.30" width="8.33" height="1.80" fill="#8ea5c5"/>
<rect x="338.87" y="76.30" width="8.33" height="1.80" fill="#728eb7"/>
<rect x="346.60" y="76.30" width="8.33" height="1.80" fill="#d1d9e5"/>
<rect x="354.33" y="76.30" width="8.33" height="1.80" fill="#d5dde7"/>
<rect x="362.07" y="76.30" width="8.33" height="1.80" fill="#c6d1e0"/>
<rect x="369.80" y="76.30" width="8.33" height="1.80" fill="#a0b2cd"/>
<rect x="377.53" y="76.30" width="8.33" height="1.80" fill="#94a9c8"/>
<rect x="385.27" y="76.30" width="7.73" height="1.80" fill="#7893ba"/>
<rect x="300.20" y="77.50" width="8.33" height="1.40" fill="#f5e9e9"/>
<rect x="307.93" y="77.50" width="8.33" height="1.40" fill="#f3e1e2"/>
<rect x="315.67" y="77.50" width="8.33" height="1.40" fill="#f4e8e9"/>
<rect x="323.40" y="77.50" width="8.33" height="1.40" fill="#dce2ea"/>
<rect x="331.13" y="77.50" width="8.33" height="1.40" fill="#c6d0e0"/>
<rect x="338.87" y="77.50" width="8.33" height="1.40" fill="#b1c0d6"/>
<rect x="346.60" y="77.50" width="8.33" height="1.40" fill="#f4e6e7"/>
<rect x="354.33" y="77.50" width="8.33" height="1.40" fill="#f5eaea"/>
<rect x="362.07" y="77.50" width="8.33" height="1.40" fill="#f4f5f6"/>
<rect x="369.80" y="77.50" width="8.33" height="1.40" fill="#d3dbe6"/>
<rect x="377.53" y="77.50" width="8.33" height="1.40" fill="#b9c6d9"/>
<rect x="385.27" y="77.50" width="7.73" height="1.40" fill="#a5b6d0"/>
<rect x="300.20" y="78.30" width="8.33" height="2.60" fill="#e39a9d"/>
<rect x="307.93" y="78.30" width="8.33" height="2.60" fill="#e49ea1"/>
<rect x="315.67" y="78.30" width="8.33" height="2.60" fill="#e6a8ab"/>
<rect x="323.40" y="78.30" width="8.33" height="2.60" fill="#f1d8d9"/>
<rect x="331.13" y="78.30" width="8.33" height="2.60" fill="#f2dcdd"/>
<rect x="338.87" y="78.30" width="8.33" height="2.60" fill="#f2f3f5"/>
<rect x="346.60" y="78.30" width="8.33" height="2.60" fill="#e08e92"/>
<rect x="354.33" y="78.30" width="8.33" height="2.60" fill="#e2969a"/>
<rect x="362.07" y="78.30" width="8.33" height="2.60" fill="#e39c9f"/>
<rect x="369.80" y="78.30" width="8.33" height="2.60" fill="#eab9bb"/>
<rect x="377.53" y="78.30" width="8.33" height="2.60" fill="#efd1d2"/>
<rect x="385.27" y="78.30" width="7.73" height="2.60" fill="#f7f7f7"/>
<rect x="300.20" y="80.30" width="8.33" height="1.90" fill="#e5a3a6"/>
<rect x="307.93" y="80.30" width="8.33" height="1.90" fill="#e8b1b3"/>
<rect x="315.67" y="80.30" width="8.33" height="1.90" fill="#e8b3b5"/>
<rect x="323.40" y="80.30" width="8.33" height="1.90" fill="#f3e1e2"/>
<rect x="331.13" y="80.30" width="8.33" height="1.90" fill="#f5eaea"/>
<rect x="338.87" y="80.30" width="8.33" height="1.90" fill="#e6eaef"/>
<rect x="346.60" y="80.30" width="8.33" height="1.90" fill="#e29598"/>
<rect x="354.33" y="80.30" width="8.33" height="1.90" fill="#e39b9e"/>
<rect x="362.07" y="80.30" width="8.33" height="1.90" fill="#e49ea1"/>
<rect x="369.80" y="80.30" width="8.33" height="1.90" fill="#eecacc"/>
<rect x="377.53" y="80.30" width="8.33" height="1.90" fill="#f2dedf"/>
<rect x="385.27" y="80.30" width="7.73" height="1.90" fill="#eaedf1"/>
<rect x="300.20" y="81.60" width="8.33" height="1.90" fill="#e5a2a5"/>
<rect x="307.93" y="81.60" width="8.33" height="1.90" fill="#e5a4a7"/>
<rect x="315.67" y="81.60" width="8.33" height="1.90" fill="#e5a5a8"/>
<rect x="323.40" y="81.60" width="8.33" height="1.90" fill="#f2ddde"/>
<rect x="331.13" y="81.60" width="8.33" height="1.90" fill="#f2dcdd"/>
<rect x="338.87" y="81.60" width="8.33" height="1.90" fill="#e6e9ef"/>
<rect x="346.60" y="81.60" width="8.33" height="1.90" fill="#e08f92"/>
<rect x="354.33" y="81.60" width="8.33" height="1.90" fill="#e2989c"/>
<rect x="362.07" y="81.60" width="8.33" height="1.90" fill="#e5a5a8"/>
<rect x="369.80" y="81.60" width="8.33" height="1.90" fill="#ecc5c7"/>
<rect x="377.53" y="81.60" width="8.33" height="1.90" fill="#f3e2e3"/>
<rect x="385.27" y="81.60" width="7.73" height="1.90" fill="#e4e8ee"/>
<rect x="300.20" y="82.90" width="8.33" height="2.60" fill="#e6a9ac"/>
<rect x="307.93" y="82.90" width="8.33" height="2.60" fill="#e7abae"/>
<rect x="315.67" y="82.90" width="8.33" height="2.60" fill="#e8b2b5"/>
<rect x="323.40" y="82.90" width="8.33" height="2.60" fill="#f2ddde"/>
<rect x="331.13" y="82.90" width="8.33" height="2.60" fill="#f4e7e8"/>
<rect x="338.87" y="82.90" width="8.33" height="2.60" fill="#e1e6ed"/>
<rect x="346.60" y="82.90" width="8.33" height="2.60" fill="#e08e91"/>
<rect x="354.33" y="82.90" width="8.33" height="2.60" fill="#e39a9d"/>
<rect x="362.07" y="82.90" width="8.33" height="2.60" fill="#e4a0a3"/>
<rect x="369.80" y="82.90" width="8.33" height="2.60" fill="#eecdce"/>
<rect x="377.53" y="82.90" width="8.33" height="2.60" fill="#f1dadb"/>
<rect x="385.27" y="82.90" width="7.73" height="2.60" fill="#e7ebf0"/>
<rect x="300.20" y="84.90" width="8.33" height="2.20" fill="#df8a8d"/>
<rect x="307.93" y="84.90" width="8.33" height="2.20" fill="#e19194"/>
<rect x="315.67" y="84.90" width="8.33" height="2.20" fill="#e19296"/>
<rect x="323.40" y="84.90" width="8.33" height="2.20" fill="#edc9cb"/>
<rect x="331.13" y="84.90" width="8.33" height="2.20" fill="#eecdce"/>
<rect x="338.87" y="84.90" width="8.33" height="2.20" fill="#f6f0f0"/>
<rect x="346.60" y="84.90" width="8.33" height="2.20" fill="#e08c90"/>
<rect x="354.33" y="84.90" width="8.33" height="2.20" fill="#e19296"/>
<rect x="362.07" y="84.90" width="8.33" height="2.20" fill="#e4a0a3"/>
<rect x="369.80" y="84.90" width="8.33" height="2.20" fill="#eab9bb"/>
<rect x="377.53" y="84.90" width="8.33" height="2.20" fill="#f2dcdd"/>
<rect x="385.27" y="84.90" width="7.73" height="2.20" fill="#f1f2f5"/>
<rect x="300.20" y="86.50" width="8.33" height="2.20" fill="#e39a9d"/>
<rect x="307.93" y="86.50" width="8.33" height="2.20" fill="#e2969a"/>
<rect x="315.67" y="86.50" width="8.33" height="2.20" fill="#e6a7aa"/>
<rect x="323.40" y="86.50" width="8.33" height="2.20" fill="#f0d4d5"/>
<rect x="331.13" y="86.50" width="8.33" height="2.20" fill="#efd0d2"/>
<rect x="338.87" y="86.50" width="8.33" height="2.20" fill="#f7f4f4"/>
<rect x="346.60" y="86.50" width="8.33" height="2.20" fill="#de868a"/>
<rect x="354.33" y="86.50" width="8.33" height="2.20" fill="#dd8186"/>
<rect x="362.07" y="86.50" width="8.33" height="2.20" fill="#e29498"/>
<rect x="369.80" y="86.50" width="8.33" height="2.20" fill="#e7acaf"/>
<rect x="377.53" y="86.50" width="8.33" height="2.20" fill="#efd0d2"/>
<rect x="385.27" y="86.50" width="7.73" height="2.20" fill="#f8f6f6"/>
<rect x="300.20" y="88.10" width="8.33" height="1.80" fill="#e5a2a5"/>
<rect x="307.93" y="88.10" width="8.33" height="1.80" fill="#e39a9e"/>
<rect x="315.67" y="88.10" width="8.33" height="1.80" fill="#e6a8ab"/>
<rect x="323.40" y="88.10" width="8.33" height="1.80" fill="#f1d9db"/>
<rect x="331.13" y="88.10" width="8.33" height="1.80" fill="#f2dfe0"/>
<rect x="338.87" y="88.10" width="8.33" height="1.80" fill="#e8ecf1"/>
<rect x="346.60" y="88.10" width="8.33" height="1.80" fill="#e39ca0"/>
<rect x="354.33" y="88.10" width="8.33" height="1.80" fill="#e5a1a5"/>
<rect x="362.07" y="88.10" width="8.33" height="1.80" fill="#e6a9ac"/>
<rect x="369.80" y="88.10" width="8.33" height="1.80" fill="#edc9cb"/>
<rect x="377.53" y="88.10" width="8.33" height="1.80" fill="#f5e9ea"/>
<rect x="385.27" y="88.10" width="7.73" height="1.80" fill="#e3e7ee"/>
<rect x="300.20" y="89.30" width="8.33" height="1.60" fill="#f0d5d6"/>
<rect x="307.93" y="89.30" width="8.33" height="1.60" fill="#f4e8e8"/>
<rect x="315.67" y="89.30" width="8.33" height="1.60" fill="#f6efef"/>
<rect x="323.40" y="89.30" width="8.33" height="1.60" fill="#d5dce7"/>
<rect x="331.13" y="89.30" width="8.33" height="1.60" fill="#d4dce7"/>
<rect x="338.87" y="89.30" width="8.33" height="1.60" fill="#bcc9db"/>
<rect x="346.60" y="89.30" width="8.33" height="1.60" fill="#f5ecec"/>
<rect x="354.33" y="89.30" width="8.33" height="1.60" fill="#f2dfe0"/>
<rect x="362.07" y="89.30" width="8.33" height="1.60" fill="#f5e9e9"/>
<rect x="369.80" y="89.30" width="8.33" height="1.60" fill="#d7dee8"/>
<rect x="377.53" y="89.30" width="8.33" height="1.60" fill="#c7d1e0"/>
<rect x="385.27" y="89.30" width="7.73" height="1.60" fill="#b7c5d9"/>
<rect x="300.20" y="90.30" width="8.33" height="1.10" fill="#f1d7d8"/>
<rect x="307.93" y="90.30" width="8.33" height="1.10" fill="#f4e7e7"/>
<rect x="315.67" y="90.30" width="8.33" height="1.10" fill="#f6efef"/>
<rect x="323.40" y="90.30" width="8.33" height="1.10" fill="#d7dee8"/>
<rect x="331.13" y="90.30" width="8.33" height="1.10" fill="#dce2eb"/>
<rect x="338.87" y="90.30" width="8.33" height="1.10" fill="#bcc9db"/>
<rect x="346.60" y="90.30" width="8.33" height="1.10" fill="#f4e5e6"/>
<rect x="354.33" y="90.30" width="8.33" height="1.10" fill="#f4e4e5"/>
<rect x="362.07" y="90.30" width="8.33" height="1.10" fill="#f5ecec"/>
<rect x="369.80" y="90.30" width="8.33" height="1.10" fill="#dde3eb"/>
<rect x="377.53" y="90.30" width="8.33" height="1.10" fill="#bcc9db"/>
<rect x="385.27" y="90.30" width="7.73" height="1.10" fill="#afbed5"/>
<rect x="300.20" y="90.80" width="8.33" height="2.20" fill="#6483b1"/>
<rect x="307.93" y="90.80" width="8.33" height="2.20" fill="#5d7ead"/>
<rect x="315.67" y="90.80" width="8.33" height="2.20" fill="#5779aa"/>
<rect x="323.40" y="90.80" width="8.33" height="2.20" fill="#2b5695"/>
<rect x="331.13" y="90.80" width="8.33" height="2.20" fill="#2d5896"/>
<rect x="338.87" y="90.80" width="8.33" height="2.20" fill="#16458b"/>
<rect x="346.60" y="90.80" width="8.33" height="2.20" fill="#5d7dad"/>
<rect x="354.33" y="90.80" width="8.33" height="2.20" fill="#6786b2"/>
<rect x="362.07" y="90.80" width="8.33" height="2.20" fill="#6584b1"/>
<rect x="369.80" y="90.80" width="8.33" height="2.20" fill="#335d99"/>
<rect x="377.53" y="90.80" width="8.33" height="2.20" fill="#19488c"/>
<rect x="385.27" y="90.80" width="7.73" height="2.20" fill="#14448a"/>
<rect x="300.20" y="92.40" width="8.33" height="1.60" fill="#4e72a6"/>
<rect x="307.93" y="92.40" width="8.33" height="1.60" fill="#41679f"/>
<rect x="315.67" y="92.40" width="8.33" height="1.60" fill="#456ba2"/>
<rect x="323.40" y="92.40" width="8.33" height="1.60" fill="#17468b"/>
<rect x="331.13" y="92.40" width="8.33" height="1.60" fill="#14448a"/>
<rect x="338.87" y="92.40" width="8.33" height="1.60" fill="#14448a"/>
<rect x="346.60" y="92.40" width="8.33" height="1.60" fill="#446aa1"/>
<rect x="354.33" y="92.40" width="8.33" height="1.60" fill="#4c70a5"/>
<rect x="362.07" y="92.40" width="8.33" height="1.60" fill="#355e9a"/>
<rect x="369.80" y="92.40" width="8.33" height="1.60" fill="#14448a"/>
<rect x="377.53" y="92.40" width="8.33" height="1.60" fill="#14448a"/>
<rect x="385.27" y="92.40" width="7.73" height="1.60" fill="#14448a"/>
<rect x="300.20" y="93.40" width="8.33" height="1.90" fill="#3f669f"/>
<rect x="307.93" y="93.40" width="8.33" height="1.90" fill="#456ba2"/>
<rect x="315.67" y="93.40" width="8.33" height="1.90" fill="#37609b"/>
<rect x="323.40" y="93.40" width="8.33" height="1.90" fill="#14448a"/>
<rect x="331.13" y="93.40" width="8.33" height="1.90" fill="#14448a"/>
<rect x="338.87" y="93.40" width="8.33" height="1.90" fill="#14448a"/>
<rect x="346.60" y="93.40" width="8.33" height="1.90" fill="#375f9b"/>
<rect x="354.33" y="93.40" width="8.33" height="1.90" fill="#496ea4"/>
<rect x="362.07" y="93.40" width="8.33" height="1.90" fill="#37609b"/>
<rect x="369.80" y="93.40" width="8.33" height="1.90" fill="#14448a"/>
<rect x="377.53" y="93.40" width="8.33" height="1.90" fill="#14448a"/>
<rect x="385.27" y="93.40" width="7.73" height="1.90" fill="#14448a"/>
<rect x="300.20" y="94.70" width="8.33" height="2.60" fill="#4f73a7"/>
<rect x="307.93" y="94.70" width="8.33" height="2.60" fill="#4b6fa4"/>
<rect x="315.67" y="94.70" width="8.33" height="2.60" fill="#466ba2"/>
<rect x="323.40" y="94.70" width="8.33" height="2.60" fill="#14448a"/>
<rect x="331.13" y="94.70" width="8.33" height="2.60" fill="#14448a"/>
<rect x="338.87" y="94.70" width="8.33" height="2.60" fill="#14448a"/>
<rect x="346.60" y="94.70" width="8.33" height="2.60" fill="#3b639d"/>
<rect x="354.33" y="94.70" width="8.33" height="2.60" fill="#5073a7"/>
<rect x="362.07" y="94.70" width="8.33" height="2.60" fill="#3a629c"/>
<rect x="369.80" y="94.70" width="8.33" height="2.60" fill="#14448a"/>
<rect x="377.53" y="94.70" width="8.33" height="2.60" fill="#14448a"/>
<rect x="385.27" y="94.70" width="7.73" height="2.60" fill="#14448a"/>
<rect x="300.20" y="96.70" width="8.33" height="1.90" fill="#6685b2"/>
<rect x="307.93" y="96.70" width="8.33" height="1.90" fill="#6a88b3"/>
<rect x="315.67" y="96.70" width="8.33" height="1.90" fill="#5476a9"/>
<rect x="323.40" y="96.70" width="8.33" height="1.90" fill="#2f5a97"/>
<rect x="331.13" y="96.70" width="8.33" height="1.90" fill="#224f91"/>
<rect x="338.87" y="96.70" width="8.33" height="1.90" fill="#14448a"/>
<rect x="346.60" y="96.70" width="8.33" height="1.90" fill="#6483b1"/>
<rect x="354.33" y="96.70" width="8.33" height="1.90" fill="#708cb6"/>
<rect x="362.07" y="96.70" width="8.33" height="1.90" fill="#6282b0"/>
<rect x="369.80" y="96.70" width="8.33" height="1.90" fill="#40679f"/>
<rect x="377.53" y="96.70" width="8.33" height="1.90" fill="#245192"/>
<rect x="385.27" y="96.70" width="7.73" height="1.90" fill="#14448a"/>
<rect x="300.20" y="98.00" width="8.33" height="1.90" fill="#5174a8"/>
<rect x="307.93" y="98.00" width="8.33" height="1.90" fill="#5376a8"/>
<rect x="315.67" y="98.00" width="8.33" height="1.90" fill="#3f669f"/>
<rect x="323.40" y="98.00" width="8.33" height="1.90" fill="#14448a"/>
<rect x="331.13" y="98.00" width="8.33" height="1.90" fill="#15448a"/>
<rect x="338.87" y="98.00" width="8.33" height="1.90" fill="#14448a"/>
<rect x="346.60" y="98.00" width="8.33" height="1.90" fill="#4d71a6"/>
<rect x="354.33" y="98.00" width="8.33" height="1.90" fill="#4e72a6"/>
<rect x="362.07" y="98.00" width="8.33" height="1.90" fill="#4c70a5"/>
<rect x="369.80" y="98.00" width="8.33" height="1.90" fill="#14448a"/>
<rect x="377.53" y="98.00" width="8.33" height="1.90" fill="#14448a"/>
<rect x="385.27" y="98.00" width="7.73" height="1.90" fill="#14448a"/>
<rect x="300.20" y="99.30" width="8.33" height="1.90" fill="#6886b3"/>
<rect x="307.93" y="99.30" width="8.33" height="1.90" fill="#6080af"/>
<rect x="315.67" y="99.30" width="8.33" height="1.90" fill="#5073a7"/>
<rect x="323.40" y="99.30" width="8.33" height="1.90" fill="#235091"/>
<rect x="331.13" y="99.30" width="8.33" height="1.90" fill="#17478c"/>
<rect x="338.87" y="99.30" width="8.33" height="1.90" fill="#14448a"/>
<rect x="346.60" y="99.30" width="8.33" height="1.90" fill="#5b7cac"/>
<rect x="354.33" y="99.30" width="8.33" height="1.90" fill="#6382b0"/>
<rect x="362.07" y="99.30" width="8.33" height="1.90" fill="#597bab"/>
<rect x="369.80" y="99.30" width="8.33" height="1.90" fill="#39619c"/>
<rect x="377.53" y="99.30" width="8.33" height="1.90" fill="#204e90"/>
<rect x="385.27" y="99.30" width="7.73" height="1.90" fill="#14448a"/>
<rect x="300.20" y="100.60" width="8.33" height="1.90" fill="#5e7eae"/>
<rect x="307.93" y="100.60" width="8.33" height="1.90" fill="#597aab"/>
<rect x="315.67" y="100.60" width="8.33" height="1.90" fill="#5275a8"/>
<rect x="323.40" y="100.60" width="8.33" height="1.90" fill="#1f4d90"/>
<rect x="331.13" y="100.60" width="8.33" height="1.90" fill="#285494"/>
<rect x="338.87" y="100.60" width="8.33" height="1.90" fill="#14448a"/>
<rect x="346.60" y="100.60" width="8.33" height="1.90" fill="#5e7eae"/>
<rect x="354.33" y="100.60" width="8.33" height="1.90" fill="#6282b0"/>
<rect x="362.07" y="100.60" width="8.33" height="1.90" fill="#5678aa"/>
<rect x="369.80" y="100.60" width="8.33" height="1.90" fill="#2a5594"/>
<rect x="377.53" y="100.60" width="8.33" height="1.90" fill="#14448a"/>
<rect x="385.27" y="100.60" width="7.73" height="1.90" fill="#14448a"/>
<rect x="300.20" y="101.90" width="8.33" height="2.60" fill="#5f80ae"/>
<rect x="307.93" y="101.90" width="8.33" height="2.60" fill="#5376a8"/>
<rect x="315.67" y="101.90" width="8.33" height="2.60" fill="#5578aa"/>
<rect x="323.40" y="101.90" width="8.33" height="2.60" fill="#1e4c8f"/>
<rect x="331.13" y="101.90" width="8.33" height="2.60" fill="#245192"/>
<rect x="338.87" y="101.90" width="8.33" height="2.60" fill="#14448a"/>
<rect x="346.60" y="101.90" width="8.33" height="2.60" fill="#5c7dad"/>
<rect x="354.33" y="101.90" width="8.33" height="2.60" fill="#6181af"/>
<rect x="362.07" y="101.90" width="8.33" height="2.60" fill="#587aab"/>
<rect x="369.80" y="101.90" width="8.33" height="2.60" fill="#255292"/>
<rect x="377.53" y="101.90" width="8.33" height="2.60" fill="#14448a"/>
<rect x="385.27" y="101.90" width="7.73" height="2.60" fill="#14448a"/>
<rect x="300.20" y="103.90" width="8.33" height="1.60" fill="#5476a9"/>
<rect x="307.93" y="103.90" width="8.33" height="1.60" fill="#446aa1"/>
<rect x="315.67" y="103.90" width="8.33" height="1.60" fill="#365f9b"/>
<rect x="323.40" y="103.90" width="8.33" height="1.60" fill="#14448a"/>
<rect x="331.13" y="103.90" width="8.33" height="1.60" fill="#14448a"/>
<rect x="338.87" y="103.90" width="8.33" height="1.60" fill="#14448a"/>
<rect x="346.60" y="103.90" width="8.33" height="1.60" fill="#4168a0"/>
<rect x="354.33" y="103.90" width="8.33" height="1.60" fill="#40679f"/>
<rect x="362.07" y="103.90" width="8.33" height="1.60" fill="#3d649e"/>
<rect x="369.80" y="103.90" width="8.33" height="1.60" fill="#19488c"/>
<rect x="377.53" y="103.90" width="8.33" height="1.60" fill="#14448a"/>
<rect x="385.27" y="103.90" width="7.73" height="1.60" fill="#14448a"/>
<rect x="300.20" y="104.90" width="8.33" height="2.20" fill="#5678aa"/>
<rect x="307.93" y="104.90" width="8.33" height="2.20" fill="#4a6ea4"/>
<rect x="315.67" y="104.90" width="8.33" height="2.20" fill="#476ca3"/>
<rect x="323.40" y="104.90" width="8.33" height="2.20" fill="#1c4a8e"/>
<rect x="331.13" y="104.90" width="8.33" height="2.20" fill="#14448a"/>
<rect x="338.87" y="104.90" width="8.33" height="2.20" fill="#14448a"/>
<rect x="346.60" y="104.90" width="8.33" height="2.20" fill="#39619c"/>
<rect x="354.33" y="104.90" width="8.33" height="2.20" fill="#456aa1"/>
<rect x="362.07" y="104.90" width="8.33" height="2.20" fill="#4369a1"/>
<rect x="369.80" y="104.90" width="8.33" height="2.20" fill="#1b498d"/>
<rect x="377.53" y="104.90" width="8.33" height="2.20" fill="#14448a"/>
<rect x="385.27" y="104.90" width="7.73" height="2.20" fill="#14448a"/>
<rect x="300.20" y="106.50" width="8.33" height="2.20" fill="#6887b3"/>
<rect x="307.93" y="106.50" width="8.33" height="2.20" fill="#6282b0"/>
<rect x="315.67" y="106.50" width="8.33" height="2.20" fill="#5275a8"/>
<rect x="323.40" y="106.50" width="8.33" height="2.20" fill="#265293"/>
<rect x="331.13" y="106.50" width="8.33" height="2.20" fill="#224f91"/>
<rect x="338.87" y="106.50" width="8.33" height="2.20" fill="#14448a"/>
<rect x="346.60" y="106.50" width="8.33" height="2.20" fill="#5073a7"/>
<rect x="354.33" y="106.50" width="8.33" height="2.20" fill="#5174a8"/>
<rect x="362.07" y="106.50" width="8.33" height="2.20" fill="#466ba2"/>
<rect x="369.80" y="106.50" width="8.33" height="2.20" fill="#15458a"/>
<rect x="377.53" y="106.50" width="8.33" height="2.20" fill="#14448a"/>
<rect x="385.27" y="106.50" width="7.73" height="2.20" fill="#14448a"/>
<rect x="300.20" y="108.10" width="8.33" height="2.60" fill="#5678aa"/>
<rect x="307.93" y="108.10" width="8.33" height="2.60" fill="#4c70a5"/>
<rect x="315.67" y="108.10" width="8.33" height="2.60" fill="#355e9a"/>
<rect x="323.40" y="108.10" width="8.33" height="2.60" fill="#14448a"/>
<rect x="331.13" y="108.10" width="8.33" height="2.60" fill="#14448a"/>
<rect x="338.87" y="108.10" width="8.33" height="2.60" fill="#14448a"/>
<rect x="346.60" y="108.10" width="8.33" height="2.60" fill="#476ca3"/>
<rect x="354.33" y="108.10" width="8.33" height="2.60" fill="#5376a9"/>
<rect x="362.07" y="108.10" width="8.33" height="2.60" fill="#476ca3"/>
<rect x="369.80" y="108.10" width="8.33" height="2.60" fill="#1f4d8f"/>
<rect x="377.53" y="108.10" width="8.33" height="2.60" fill="#14448a"/>
<rect x="385.27" y="108.10" width="7.73" height="2.60" fill="#14448a"/>
<rect x="300.20" y="110.10" width="8.33" height="0.90" fill="#4d71a5"/>
<rect x="307.93" y="110.10" width="8.33" height="0.90" fill="#4e72a6"/>
<rect x="315.67" y="110.10" width="8.33" height="0.90" fill="#3b639d"/>
<rect x="323.40" y="110.10" width="8.33" height="0.90" fill="#18478c"/>
<rect x="331.13" y="110.10" width="8.33" height="0.90" fill="#14448a"/>
<rect x="338.87" y="110.10" width="8.33" height="0.90" fill="#14448a"/>
<rect x="346.60" y="110.10" width="8.33" height="0.90" fill="#496ea3"/>
<rect x="354.33" y="110.10" width="8.33" height="0.90" fill="#4b6fa4"/>
<rect x="362.07" y="110.10" width="8.33" height="0.90" fill="#40679f"/>
<rect x="369.80" y="110.10" width="8.33" height="0.90" fill="#14448a"/>
<rect x="377.53" y="110.10" width="8.33" height="0.90" fill="#14448a"/>
<rect x="385.27" y="110.10" width="7.73" height="0.90" fill="#14448a"/>
<rect x="300.20" y="110.40" width="8.33" height="1.60" fill="#91a6c6"/>
<rect x="307.93" y="110.40" width="8.33" height="1.60" fill="#8ca3c4"/>
<rect x="315.67" y="110.40" width="8.33" height="1.60" fill="#7691b9"/>
<rect x="323.40" y="110.40" width="8.33" height="1.60" fill="#587aab"/>
<rect x="331.13" y="110.40" width="8.33" height="1.60" fill="#486da3"/>
<rect x="338.87" y="110.40" width="8.33" height="1.60" fill="#2b5695"/>
<rect x="346.60" y="110.40" width="8.33" height="1.60" fill="#6383b0"/>
<rect x="354.33" y="110.40" width="8.33" height="1.60" fill="#7994bb"/>
<rect x="362.07" y="110.40" width="8.33" height="1.60" fill="#6c89b4"/>
<rect x="369.80" y="110.40" width="8.33" height="1.60" fill="#41679f"/>
<rect x="377.53" y="110.40" width="8.33" height="1.60" fill="#285494"/>
<rect x="385.27" y="110.40" width="7.73" height="1.60" fill="#16458b"/>
<rect x="300.20" y="111.40" width="8.33" height="1.90" fill="#89a0c2"/>
<rect x="307.93" y="111.40" width="8.33" height="1.90" fill="#92a7c7"/>
<rect x="315.67" y="111.40" width="8.33" height="1.90" fill="#889fc2"/>
<rect x="323.40" y="111.40" width="8.33" height="1.90" fill="#5b7cac"/>
<rect x="331.13" y="111.40" width="8.33" height="1.90" fill="#5577a9"/>
<rect x="338.87" y="111.40" width="8.33" height="1.90" fill="#325c98"/>
<rect x="346.60" y="111.40" width="8.33" height="1.90" fill="#94a9c8"/>
<rect x="354.33" y="111.40" width="8.33" height="1.90" fill="#a1b3ce"/>
<rect x="362.07" y="111.40" width="8.33" height="1.90" fill="#99adca"/>
<rect x="369.80" y="111.40" width="8.33" height="1.90" fill="#6987b3"/>
<rect x="377.53" y="111.40" width="8.33" height="1.90" fill="#587aab"/>
<rect x="385.27" y="111.40" width="7.73" height="1.90" fill="#3a629c"/>
<rect x="300.20" y="112.70" width="8.33" height="2.60" fill="#849dc0"/>
<rect x="307.93" y="112.70" width="8.33" height="2.60" fill="#7c96bc"/>
<rect x="315.67" y="112.70" width="8.33" height="2.60" fill="#6584b1"/>
<rect x="323.40" y="112.70" width="8.33" height="2.60" fill="#446aa1"/>
<rect x="331.13" y="112.70" width="8.33" height="2.60" fill="#3b639d"/>
<rect x="338.87" y="112.70" width="8.33" height="2.60" fill="#1f4c8f"/>
<rect x="346.60" y="112.70" width="8.33" height="2.60" fill="#7d97bd"/>
<rect x="354.33" y="112.70" width="8.33" height="2.60" fill="#90a6c6"/>
<rect x="362.07" y="112.70" width="8.33" height="2.60" fill="#7994bb"/>
<rect x="369.80" y="112.70" width="8.33" height="2.60" fill="#5174a8"/>
<rect x="377.53" y="112.70" width="8.33" height="2.60" fill="#476ca3"/>
<rect x="385.27" y="112.70" width="7.73" height="2.60" fill="#265292"/>
<rect x="300.20" y="114.70" width="8.33" height="1.90" fill="#7a95bb"/>
<rect x="307.93" y="114.70" width="8.33" height="1.90" fill="#7893ba"/>
<rect x="315.67" y="114.70" width="8.33" height="1.90" fill="#738fb8"/>
<rect x="323.40" y="114.70" width="8.33" height="1.90" fill="#456ba2"/>
<rect x="331.13" y="114.70" width="8.33" height="1.90" fill="#456aa1"/>
<rect x="338.87" y="114.70" width="8.33" height="1.90" fill="#275393"/>
<rect x="346.60" y="114.70" width="8.33" height="1.90" fill="#6a88b3"/>
<rect x="354.33" y="114.70" width="8.33" height="1.90" fill="#8099be"/>
<rect x="362.07" y="114.70" width="8.33" height="1.90" fill="#6c89b4"/>
<rect x="369.80" y="114.70" width="8.33" height="1.90" fill="#4369a1"/>
<rect x="377.53" y="114.70" width="8.33" height="1.90" fill="#224f91"/>
<rect x="385.27" y="114.70" width="7.73" height="1.90" fill="#14448a"/>
<rect x="300.20" y="116.00" width="8.33" height="1.90" fill="#6282b0"/>
<rect x="307.93" y="116.00" width="8.33" height="1.90" fill="#6584b1"/>
<rect x="315.67" y="116.00" width="8.33" height="1.90" fill="#5d7ead"/>
<rect x="323.40" y="116.00" width="8.33" height="1.90" fill="#2a5594"/>
<rect x="331.13" y="116.00" width="8.33" height="1.90" fill="#1b498d"/>
<rect x="338.87" y="116.00" width="8.33" height="1.90" fill="#14448a"/>
<rect x="346.60" y="116.00" width="8.33" height="1.90" fill="#6d8ab5"/>
<rect x="354.33" y="116.00" width="8.33" height="1.90" fill="#7f98bd"/>
<rect x="362.07" y="116.00" width="8.33" height="1.90" fill="#6f8cb6"/>
<rect x="369.80" y="116.00" width="8.33" height="1.90" fill="#3a629d"/>
<rect x="377.53" y="116.00" width="8.33" height="1.90" fill="#245192"/>
<rect x="385.27" y="116.00" width="7.73" height="1.90" fill="#14448a"/>
<rect x="300.20" y="117.30" width="8.33" height="2.60" fill="#bbc8db"/>
<rect x="307.93" y="117.30" width="8.33" height="2.60" fill="#afbed5"/>
<rect x="315.67" y="117.30" width="8.33" height="2.60" fill="#9aaecb"/>
<rect x="323.40" y="117.30" width="8.33" height="2.60" fill="#6f8bb6"/>
<rect x="331.13" y="117.30" width="8.33" height="2.60" fill="#6987b3"/>
<rect x="338.87" y="117.30" width="8.33" height="2.60" fill="#597aab"/>
<rect x="346.60" y="117.30" width="8.33" height="2.60" fill="#a0b2cd"/>
<rect x="354.33" y="117.30" width="8.33" height="2.60" fill="#aabbd2"/>
<rect x="362.07" y="117.30" width="8.33" height="2.60" fill="#9bafcb"/>
<rect x="369.80" y="117.30" width="8.33" height="2.60" fill="#6786b2"/>
<rect x="377.53" y="117.30" width="8.33" height="2.60" fill="#5678aa"/>
<rect x="385.27" y="117.30" width="7.73" height="2.60" fill="#4b6fa4"/>
<rect x="300.20" y="119.30" width="8.33" height="1.90" fill="#a6b7d0"/>
<rect x="307.93" y="119.30" width="8.33" height="1.90" fill="#9baecb"/>
<rect x="315.67" y="119.30" width="8.33" height="1.90" fill="#8ea4c5"/>
<rect x="323.40" y="119.30" width="8.33" height="1.90" fill="#5e7fae"/>
<rect x="331.13" y="119.30" width="8.33" height="1.90" fill="#6483b0"/>
<rect x="338.87" y="119.30" width="8.33" height="1.90" fill="#4b70a5"/>
<rect x="346.60" y="119.30" width="8.33" height="1.90" fill="#859dc0"/>
<rect x="354.33" y="119.30" width="8.33" height="1.90" fill="#8ca2c4"/>
<rect x="362.07" y="119.30" width="8.33" height="1.90" fill="#7f98bd"/>
<rect x="369.80" y="119.30" width="8.33" height="1.90" fill="#496ea3"/>
<rect x="377.53" y="119.30" width="8.33" height="1.90" fill="#3a629c"/>
<rect x="385.27" y="119.30" width="7.73" height="1.90" fill="#2d5896"/>
<rect x="300.20" y="120.60" width="8.33" height="2.60" fill="#b4c2d7"/>
<rect x="307.93" y="120.60" width="8.33" height="2.60" fill="#b1c0d6"/>
<rect x="315.67" y="120.60" width="8.33" height="2.60" fill="#a4b6cf"/>
<rect x="323.40" y="120.60" width="8.33" height="2.60" fill="#7490b9"/>
<rect x="331.13" y="120.60" width="8.33" height="2.60" fill="#6584b1"/>
<rect x="338.87" y="120.60" width="8.33" height="2.60" fill="#4d71a5"/>
<rect x="346.60" y="120.60" width="8.33" height="2.60" fill="#95aac8"/>
<rect x="354.33" y="120.60" width="8.33" height="2.60" fill="#99adca"/>
<rect x="362.07" y="120.60" width="8.33" height="2.60" fill="#8da3c4"/>
<rect x="369.80" y="120.60" width="8.33" height="2.60" fill="#6584b1"/>
<rect x="377.53" y="120.60" width="8.33" height="2.60" fill="#5174a7"/>
<rect x="385.27" y="120.60" width="7.73" height="2.60" fill="#4168a0"/>
<rect x="300.20" y="122.60" width="8.33" height="1.60" fill="#738fb8"/>
<rect x="307.93" y="122.60" width="8.33" height="1.60" fill="#6b88b4"/>
<rect x="315.67" y="122.60" width="8.33" height="1.60" fill="#5c7dad"/>
<rect x="323.40" y="122.60" width="8.33" height="1.60" fill="#39619c"/>
<rect x="331.13" y="122.60" width="8.33" height="1.60" fill="#285494"/>
<rect x="338.87" y="122.60" width="8.33" height="1.60" fill="#18478c"/>
<rect x="346.60" y="122.60" width="8.33" height="1.60" fill="#597aab"/>
<rect x="354.33" y="122.60" width="8.33" height="1.60" fill="#6282b0"/>
<rect x="362.07" y="122.60" width="8.33" height="1.60" fill="#4f72a6"/>
<rect x="369.80" y="122.60" width="8.33" height="1.60" fill="#2f5997"/>
<rect x="377.53" y="122.60" width="8.33" height="1.60" fill="#1b4a8e"/>
<rect x="385.27" y="122.60" width="7.73" height="1.60" fill="#14448a"/>
<rect x="300.20" y="123.60" width="8.33" height="2.60" fill="#6383b0"/>
<rect x="307.93" y="123.60" width="8.33" height="2.60" fill="#6e8bb6"/>
<rect x="315.67" y="123.60" width="8.33" height="2.60" fill="#5b7cac"/>
<rect x="323.40" y="123.60" width="8.33" height="2.60" fill="#345d99"/>
<rect x="331.13" y="123.60" width="8.33" height="2.60" fill="#255192"/>
<rect x="338.87" y="123.60" width="8.33" height="2.60" fill="#14448a"/>
<rect x="346.60" y="123.60" width="8.33" height="2.60" fill="#708db6"/>
<rect x="354.33" y="123.60" width="8.33" height="2.60" fill="#6b88b4"/>
<rect x="362.07" y="123.60" width="8.33" height="2.60" fill="#5b7cac"/>
<rect x="369.80" y="123.60" width="8.33" height="2.60" fill="#325c99"/>
<rect x="377.53" y="123.60" width="8.33" height="2.60" fill="#255192"/>
<rect x="385.27" y="123.60" width="7.73" height="2.60" fill="#14448a"/>
<rect x="300.20" y="125.60" width="8.33" height="1.90" fill="#a9b9d2"/>
<rect x="307.93" y="125.60" width="8.33" height="1.90" fill="#9cb0cc"/>
<rect x="315.67" y="125.60" width="8.33" height="1.90" fill="#95aac8"/>
<rect x="323.40" y="125.60" width="8.33" height="1.90" fill="#6785b2"/>
<rect x="331.13" y="125.60" width="8.33" height="1.90" fill="#5a7bac"/>
<rect x="338.87" y="125.60" width="8.33" height="1.90" fill="#496ea4"/>
<rect x="346.60" y="125.60" width="8.33" height="1.90" fill="#a4b6d0"/>
<rect x="354.33" y="125.60" width="8.33" height="1.90" fill="#bbc8da"/>
<rect x="362.07" y="125.60" width="8.33" height="1.90" fill="#a3b5cf"/>
<rect x="369.80" y="125.60" width="8.33" height="1.90" fill="#7692ba"/>
<rect x="377.53" y="125.60" width="8.33" height="1.90" fill="#5e7eae"/>
<rect x="385.27" y="125.60" width="7.73" height="1.90" fill="#4d71a6"/>
<rect x="300.20" y="126.90" width="8.33" height="1.00" fill="#a9bad2"/>
<rect x="307.93" y="126.90" width="8.33" height="1.00" fill="#a5b6d0"/>
<rect x="315.67" y="126.90" width="8.33" height="1.00" fill="#95aac8"/>
<rect x="323.40" y="126.90" width="8.33" height="1.00" fill="#6b89b4"/>
<rect x="331.13" y="126.90" width="8.33" height="1.00" fill="#6483b0"/>
<rect x="338.87" y="126.90" width="8.33" height="1.00" fill="#466ca2"/>
<rect x="346.60" y="126.90" width="8.33" height="1.00" fill="#8ca3c4"/>
<rect x="354.33" y="126.90" width="8.33" height="1.00" fill="#8da3c4"/>
<rect x="362.07" y="126.90" width="8.33" height="1.00" fill="#829bbf"/>
<rect x="369.80" y="126.90" width="8.33" height="1.00" fill="#5678aa"/>
<rect x="377.53" y="126.90" width="8.33" height="1.00" fill="#3d649e"/>
<rect x="385.27" y="126.90" width="7.73" height="1.00" fill="#315b98"/>
<rect x="300.20" y="127.30" width="8.33" height="1.90" fill="#dde3eb"/>
<rect x="307.93" y="127.30" width="8.33" height="1.90" fill="#d8dfe9"/>
<rect x="315.67" y="127.30" width="8.33" height="1.90" fill="#c9d3e1"/>
<rect x="323.40" y="127.30" width="8.33" height="1.90" fill="#abbbd3"/>
<rect x="331.13" y="127.30" width="8.33" height="1.90" fill="#a5b7d0"/>
<rect x="338.87" y="127.30" width="8.33" height="1.90" fill="#879fc1"/>
<rect x="346.60" y="127.30" width="8.33" height="1.90" fill="#ccd5e3"/>
<rect x="354.33" y="127.30" width="8.33" height="1.90" fill="#ced7e4"/>
<rect x="362.07" y="127.30" width="8.33" height="1.90" fill="#b5c3d8"/>
<rect x="369.80" y="127.30" width="8.33" height="1.90" fill="#9aaecb"/>
<rect x="377.53" y="127.30" width="8.33" height="1.90" fill="#859dc1"/>
<rect x="385.27" y="127.30" width="7.73" height="1.90" fill="#6685b2"/>
<rect x="300.20" y="128.60" width="8.33" height="2.20" fill="#bcc9db"/>
<rect x="307.93" y="128.60" width="8.33" height="2.20" fill="#b4c2d7"/>
<rect x="315.67" y="128.60" width="8.33" height="2.20" fill="#aabad2"/>
<rect x="323.40" y="128.60" width="8.33" height="2.20" fill="#7994bb"/>
<rect x="331.13" y="128.60" width="8.33" height="2.20" fill="#819abf"/>
<rect x="338.87" y="128.60" width="8.33" height="2.20" fill="#5c7dad"/>
<rect x="346.60" y="128.60" width="8.33" height="2.20" fill="#b7c4d8"/>
<rect x="354.33" y="128.60" width="8.33" height="2.20" fill="#b8c5d9"/>
<rect x="362.07" y="128.60" width="8.33" height="2.20" fill="#adbdd4"/>
<rect x="369.80" y="128.60" width="8.33" height="2.20" fill="#7d97bd"/>
<rect x="377.53" y="128.60" width="8.33" height="2.20" fill="#6c89b4"/>
<rect x="385.27" y="128.60" width="7.73" height="2.20" fill="#597aab"/>
<rect x="300.20" y="130.20" width="8.33" height="1.60" fill="#9aaecb"/>
<rect x="307.93" y="130.20" width="8.33" height="1.60" fill="#a3b5cf"/>
<rect x="315.67" y="130.20" width="8.33" height="1.60" fill="#8ca3c4"/>
<rect x="323.40" y="130.20" width="8.33" height="1.60" fill="#6b88b4"/>
<rect x="331.13" y="130.20" width="8.33" height="1.60" fill="#6685b2"/>
<rect x="338.87" y="130.20" width="8.33" height="1.60" fill="#4268a0"/>
<rect x="346.60" y="130.20" width="8.33" height="1.60" fill="#91a7c6"/>
<rect x="354.33" y="130.20" width="8.33" height="1.60" fill="#a9b9d2"/>
<rect x="362.07" y="130.20" width="8.33" height="1.60" fill="#879fc2"/>
<rect x="369.80" y="130.20" width="8.33" height="1.60" fill="#6d8ab5"/>
<rect x="377.53" y="130.20" width="8.33" height="1.60" fill="#4f73a6"/>
<rect x="385.27" y="130.20" width="7.73" height="1.60" fill="#446aa1"/>
<rect x="300.20" y="131.20" width="8.33" height="1.60" fill="#a3b5cf"/>
<rect x="307.93" y="131.20" width="8.33" height="1.60" fill="#98adca"/>
<rect x="315.67" y="131.20" width="8.33" height="1.60" fill="#97acc9"/>
<rect x="323.40" y="131.20" width="8.33" height="1.60" fill="#6f8cb6"/>
<rect x="331.13" y="131.20" width="8.33" height="1.60" fill="#6181af"/>
<rect x="338.87" y="131.20" width="8.33" height="1.60" fill="#476ca2"/>
<rect x="346.60" y="131.20" width="8.33" height="1.60" fill="#9aaecb"/>
<rect x="354.33" y="131.20" width="8.33" height="1.60" fill="#a6b7d0"/>
<rect x="362.07" y="131.20" width="8.33" height="1.60" fill="#97acc9"/>
<rect x="369.80" y="131.20" width="8.33" height="1.60" fill="#6080af"/>
<rect x="377.53" y="131.20" width="8.33" height="1.60" fill="#5476a9"/>
<rect x="385.27" y="131.20" width="7.73" height="1.60" fill="#4369a1"/>
<rect x="300.20" y="132.20" width="8.33" height="2.40" fill="#8aa1c3"/>
<rect x="307.93" y="132.20" width="8.33" height="2.40" fill="#7d97bd"/>
<rect x="315.67" y="132.20" width="8.33" height="2.40" fill="#7590b9"/>
<rect x="323.40" y="132.20" width="8.33" height="2.40" fill="#4a6fa4"/>
<rect x="331.13" y="132.20" width="8.33" height="2.40" fill="#38609b"/>
<rect x="338.87" y="132.20" width="8.33" height="2.40" fill="#224f91"/>
<rect x="346.60" y="132.20" width="8.33" height="2.40" fill="#7e97bd"/>
<rect x="354.33" y="132.20" width="8.33" height="2.40" fill="#90a6c6"/>
<rect x="362.07" y="132.20" width="8.33" height="2.40" fill="#7893ba"/>
<rect x="369.80" y="132.20" width="8.33" height="2.40" fill="#5678aa"/>
<rect x="377.53" y="132.20" width="8.33" height="2.40" fill="#3d649e"/>
<rect x="385.27" y="132.20" width="7.73" height="2.40" fill="#265293"/>
<rect x="300.20" y="134.00" width="8.33" height="1.60" fill="#a4b6d0"/>
<rect x="307.93" y="134.00" width="8.33" height="1.60" fill="#aabad2"/>
<rect x="315.67" y="134.00" width="8.33" height="1.60" fill="#91a6c6"/>
<rect x="323.40" y="134.00" width="8.33" height="1.60" fill="#728eb7"/>
<rect x="331.13" y="134.00" width="8.33" height="1.60" fill="#6a88b3"/>
<rect x="338.87" y="134.00" width="8.33" height="1.60" fill="#5174a8"/>
<rect x="346.60" y="134.00" width="8.33" height="1.60" fill="#92a7c7"/>
<rect x="354.33" y="134.00" width="8.33" height="1.60" fill="#9db0cc"/>
<rect x="362.07" y="134.00" width="8.33" height="1.60" fill="#859dc1"/>
<rect x="369.80" y="134.00" width="8.33" height="1.60" fill="#6282b0"/>
<rect x="377.53" y="134.00" width="8.33" height="1.60" fill="#5577a9"/>
<rect x="385.27" y="134.00" width="7.73" height="1.60" fill="#4269a0"/>
<rect x="300.20" y="135.00" width="8.33" height="2.20" fill="#e2e7ee"/>
<rect x="307.93" y="135.00" width="8.33" height="2.20" fill="#d9e0e9"/>
<rect x="315.67" y="135.00" width="8.33" height="2.20" fill="#ced7e4"/>
<rect x="323.40" y="135.00" width="8.33" height="2.20" fill="#aebed4"/>
<rect x="331.13" y="135.00" width="8.33" height="2.20" fill="#a0b2cd"/>
<rect x="338.87" y="135.00" width="8.33" height="2.20" fill="#8fa5c5"/>
<rect x="346.60" y="135.00" width="8.33" height="2.20" fill="#cbd5e2"/>
<rect x="354.33" y="135.00" width="8.33" height="2.20" fill="#d7dee8"/>
<rect x="362.07" y="135.00" width="8.33" height="2.20" fill="#bac7da"/>
<rect x="369.80" y="135.00" width="8.33" height="2.20" fill="#94a9c8"/>
<rect x="377.53" y="135.00" width="8.33" height="2.20" fill="#8ca3c4"/>
<rect x="385.27" y="135.00" width="7.73" height="2.20" fill="#6e8bb5"/>
<rect x="300.20" y="136.60" width="8.33" height="2.60" fill="#e4e8ee"/>
<rect x="307.93" y="136.60" width="8.33" height="2.60" fill="#dce2ea"/>
<rect x="315.67" y="136.60" width="8.33" height="2.60" fill="#ccd5e3"/>
<rect x="323.40" y="136.60" width="8.33" height="2.60" fill="#b1c0d6"/>
<rect x="331.13" y="136.60" width="8.33" height="2.60" fill="#9fb2cd"/>
<rect x="338.87" y="136.60" width="8.33" height="2.60" fill="#8ca3c4"/>
<rect x="346.60" y="136.60" width="8.33" height="2.60" fill="#cbd5e2"/>
<rect x="354.33" y="136.60" width="8.33" height="2.60" fill="#d3dbe6"/>
<rect x="362.07" y="136.60" width="8.33" height="2.60" fill="#c2cede"/>
<rect x="369.80" y="136.60" width="8.33" height="2.60" fill="#a5b6d0"/>
<rect x="377.53" y="136.60" width="8.33" height="2.60" fill="#8fa5c5"/>
<rect x="385.27" y="136.60" width="7.73" height="2.60" fill="#7d97bc"/>
<rect x="300.20" y="138.60" width="8.33" height="2.60" fill="#c3cedf"/>
<rect x="307.93" y="138.60" width="8.33" height="2.60" fill="#c7d2e1"/>
<rect x="315.67" y="138.60" width="8.33" height="2.60" fill="#b4c2d7"/>
<rect x="323.40" y="138.60" width="8.33" height="2.60" fill="#94a9c8"/>
<rect x="331.13" y="138.60" width="8.33" height="2.60" fill="#8fa5c5"/>
<rect x="338.87" y="138.60" width="8.33" height="2.60" fill="#6c89b4"/>
<rect x="346.60" y="138.60" width="8.33" height="2.60" fill="#a1b3ce"/>
<rect x="354.33" y="138.60" width="8.33" height="2.60" fill="#b9c6d9"/>
<rect x="362.07" y="138.60" width="8.33" height="2.60" fill="#a2b4cf"/>
<rect x="369.80" y="138.60" width="8.33" height="2.60" fill="#7d97bd"/>
<rect x="377.53" y="138.60" width="8.33" height="2.60" fill="#6b89b4"/>
<rect x="385.27" y="138.60" width="7.73" height="2.60" fill="#5779aa"/>
<rect x="300.20" y="140.60" width="8.33" height="1.60" fill="#cbd5e2"/>
<rect x="307.93" y="140.60" width="8.33" height="1.60" fill="#c0ccdd"/>
<rect x="315.67" y="140.60" width="8.33" height="1.60" fill="#b9c6da"/>
<rect x="323.40" y="140.60" width="8.33" height="1.60" fill="#859dc0"/>
<rect x="331.13" y="140.60" width="8.33" height="1.60" fill="#819abf"/>
<rect x="338.87" y="140.60" width="8.33" height="1.60" fill="#6886b2"/>
<rect x="346.60" y="140.60" width="8.33" height="1.60" fill="#aebed4"/>
<rect x="354.33" y="140.60" width="8.33" height="1.60" fill="#c0ccdd"/>
<rect x="362.07" y="140.60" width="8.33" height="1.60" fill="#acbcd3"/>
<rect x="369.80" y="140.60" width="8.33" height="1.60" fill="#7f99be"/>
<rect x="377.53" y="140.60" width="8.33" height="1.60" fill="#6786b2"/>
<rect x="385.27" y="140.60" width="7.73" height="1.60" fill="#5d7dad"/>
<rect x="300.20" y="141.60" width="8.33" height="2.20" fill="#c0ccdd"/>
<rect x="307.93" y="141.60" width="8.33" height="2.20" fill="#c7d1e0"/>
<rect x="315.67" y="141.60" width="8.33" height="2.20" fill="#b8c6d9"/>
<rect x="323.40" y="141.60" width="8.33" height="2.20" fill="#8ba2c3"/>
<rect x="331.13" y="141.60" width="8.33" height="2.20" fill="#819abf"/>
<rect x="338.87" y="141.60" width="8.33" height="2.20" fill="#6f8cb6"/>
<rect x="346.60" y="141.60" width="8.33" height="2.20" fill="#b2c1d6"/>
<rect x="354.33" y="141.60" width="8.33" height="2.20" fill="#bdcadc"/>
<rect x="362.07" y="141.60" width="8.33" height="2.20" fill="#b2c1d6"/>
<rect x="369.80" y="141.60" width="8.33" height="2.20" fill="#8ca3c4"/>
<rect x="377.53" y="141.60" width="8.33" height="2.20" fill="#7691b9"/>
<rect x="385.27" y="141.60" width="7.73" height="2.20" fill="#5c7dad"/>
<rect x="300.20" y="143.20" width="8.33" height="1.90" fill="#d6dde7"/>
<rect x="307.93" y="143.20" width="8.33" height="1.90" fill="#c7d1e0"/>
<rect x="315.67" y="143.20" width="8.33" height="1.90" fill="#bfcbdd"/>
<rect x="323.40" y="143.20" width="8.33" height="1.90" fill="#97abc9"/>
<rect x="331.13" y="143.20" width="8.33" height="1.90" fill="#8da4c4"/>
<rect x="338.87" y="143.20" width="8.33" height="1.90" fill="#7490b8"/>
<rect x="346.60" y="143.20" width="8.33" height="1.90" fill="#d3dbe6"/>
<rect x="354.33" y="143.20" width="8.33" height="1.90" fill="#e7eaf0"/>
<rect x="362.07" y="143.20" width="8.33" height="1.90" fill="#d8dee8"/>
<rect x="369.80" y="143.20" width="8.33" height="1.90" fill="#b4c2d7"/>
<rect x="377.53" y="143.20" width="8.33" height="1.90" fill="#90a6c6"/>
<rect x="385.27" y="143.20" width="7.73" height="1.90" fill="#8aa1c3"/>
<rect x="300.20" y="144.50" width="8.33" height="2.60" fill="#a3b5cf"/>
<rect x="307.93" y="144.50" width="8.33" height="2.60" fill="#90a6c6"/>
<rect x="315.67" y="144.50" width="8.33" height="2.60" fill="#8ca3c4"/>
<rect x="323.40" y="144.50" width="8.33" height="2.60" fill="#6a88b3"/>
<rect x="331.13" y="144.50" width="8.33" height="2.60" fill="#6483b0"/>
<rect x="338.87" y="144.50" width="8.33" height="2.60" fill="#39619c"/>
<rect x="346.60" y="144.50" width="8.33" height="2.60" fill="#afbed5"/>
<rect x="354.33" y="144.50" width="8.33" height="2.60" fill="#b9c6da"/>
<rect x="362.07" y="144.50" width="8.33" height="2.60" fill="#a7b8d1"/>
<rect x="369.80" y="144.50" width="8.33" height="2.60" fill="#7f99be"/>
<rect x="377.53" y="144.50" width="8.33" height="2.60" fill="#6282b0"/>
<rect x="385.27" y="144.50" width="7.73" height="2.60" fill="#5d7dad"/>
<rect x="300.20" y="146.50" width="8.33" height="2.20" fill="#b5c3d8"/>
<rect x="307.93" y="146.50" width="8.33" height="2.20" fill="#a8b9d1"/>
<rect x="315.67" y="146.50" width="8.33" height="2.20" fill="#99adca"/>
<rect x="323.40" y="146.50" width="8.33" height="2.20" fill="#7692b9"/>
<rect x="331.13" y="146.50" width="8.33" height="2.20" fill="#728eb7"/>
<rect x="338.87" y="146.50" width="8.33" height="2.20" fill="#4b70a5"/>
<rect x="346.60" y="146.50" width="8.33" height="2.20" fill="#97abc9"/>
<rect x="354.33" y="146.50" width="8.33" height="2.20" fill="#a8b9d2"/>
<rect x="362.07" y="146.50" width="8.33" height="2.20" fill="#8ea5c5"/>
<rect x="369.80" y="146.50" width="8.33" height="2.20" fill="#738fb8"/>
<rect x="377.53" y="146.50" width="8.33" height="2.20" fill="#5879ab"/>
<rect x="385.27" y="146.50" width="7.73" height="2.20" fill="#3e659e"/>
<rect x="300.20" y="148.10" width="8.33" height="1.90" fill="#c6d1e0"/>
<rect x="307.93" y="148.10" width="8.33" height="1.90" fill="#ccd5e3"/>
<rect x="315.67" y="148.10" width="8.33" height="1.90" fill="#b6c4d8"/>
<rect x="323.40" y="148.10" width="8.33" height="1.90" fill="#95aac8"/>
<rect x="331.13" y="148.10" width="8.33" height="1.90" fill="#869ec1"/>
<rect x="338.87" y="148.10" width="8.33" height="1.90" fill="#7591b9"/>
<rect x="346.60" y="148.10" width="8.33" height="1.90" fill="#c7d2e1"/>
<rect x="354.33" y="148.10" width="8.33" height="1.90" fill="#cdd6e3"/>
<rect x="362.07" y="148.10" width="8.33" height="1.90" fill="#bdc9db"/>
<rect x="369.80" y="148.10" width="8.33" height="1.90" fill="#a0b2cd"/>
<rect x="377.53" y="148.10" width="8.33" height="1.90" fill="#839cc0"/>
<rect x="385.27" y="148.10" width="7.73" height="1.90" fill="#6987b3"/>
<rect x="300.20" y="149.40" width="8.33" height="2.60" fill="#b8c6d9"/>
<rect x="307.93" y="149.40" width="8.33" height="2.60" fill="#bac7da"/>
<rect x="315.67" y="149.40" width="8.33" height="2.60" fill="#afbed5"/>
<rect x="323.40" y="149.40" width="8.33" height="2.60" fill="#7692b9"/>
<rect x="331.13" y="149.40" width="8.33" height="2.60" fill="#708db6"/>
<rect x="338.87" y="149.40" width="8.33" height="2.60" fill="#5477a9"/>
<rect x="346.60" y="149.40" width="8.33" height="2.60" fill="#bbc8db"/>
<rect x="354.33" y="149.40" width="8.33" height="2.60" fill="#c1ccdd"/>
<rect x="362.07" y="149.40" width="8.33" height="2.60" fill="#aabad2"/>
<rect x="369.80" y="149.40" width="8.33" height="2.60" fill="#92a8c7"/>
<rect x="377.53" y="149.40" width="8.33" height="2.60" fill="#6b89b4"/>
<rect x="385.27" y="149.40" width="7.73" height="2.60" fill="#6886b3"/>
<rect x="300.20" y="151.40" width="8.33" height="2.60" fill="#b9c6d9"/>
<rect x="307.93" y="151.40" width="8.33" height="2.60" fill="#bcc9db"/>
<rect x="315.67" y="151.40" width="8.33" height="2.60" fill="#b3c1d6"/>
<rect x="323.40" y="151.40" width="8.33" height="2.60" fill="#859dc0"/>
<rect x="331.13" y="151.40" width="8.33" height="2.60" fill="#819abe"/>
<rect x="338.87" y="151.40" width="8.33" height="2.60" fill="#5f80ae"/>
<rect x="346.60" y="151.40" width="8.33" height="2.60" fill="#cdd6e3"/>
<rect x="354.33" y="151.40" width="8.33" height="2.60" fill="#c8d2e1"/>
<rect x="362.07" y="151.40" width="8.33" height="2.60" fill="#b8c5d9"/>
<rect x="369.80" y="151.40" width="8.33" height="2.60" fill="#9bafcb"/>
<rect x="377.53" y="151.40" width="8.33" height="2.60" fill="#7792ba"/>
<rect x="385.27" y="151.40" width="7.73" height="2.60" fill="#738fb8"/>
<rect x="300.20" y="153.40" width="8.33" height="2.00" fill="#d7dee8"/>
<rect x="307.93" y="153.40" width="8.33" height="2.00" fill="#dde3eb"/>
<rect x="315.67" y="153.40" width="8.33" height="2.00" fill="#d0d8e5"/>
<rect x="323.40" y="153.40" width="8.33" height="2.00" fill="#abbbd3"/>
<rect x="331.13" y="153.40" width="8.33" height="2.00" fill="#9eb1cc"/>
<rect x="338.87" y="153.40" width="8.33" height="2.00" fill="#7a94bb"/>
<rect x="346.60" y="153.40" width="8.33" height="2.00" fill="#c9d3e2"/>
<rect x="354.33" y="153.40" width="8.33" height="2.00" fill="#c3cfdf"/>
<rect x="362.07" y="153.40" width="8.33" height="2.00" fill="#b4c2d7"/>
<rect x="369.80" y="153.40" width="8.33" height="2.00" fill="#9aaecb"/>
<rect x="377.53" y="153.40" width="8.33" height="2.00" fill="#859ec1"/>
<rect x="385.27" y="153.40" width="7.73" height="2.00" fill="#6886b2"/>
<text transform="translate(325.00,20.80)" font-size="8.2" text-anchor="middle" fill="#111" font-weight="normal" textLength="24.6" lengthAdjust="spacingAndGlyphs" stroke="#111" stroke-width="0.2">Murine</text>
<text transform="translate(370.50,20.80)" font-size="8.2" text-anchor="middle" fill="#111" font-weight="normal" textLength="26.0" lengthAdjust="spacingAndGlyphs" stroke="#111" stroke-width="0.2">Human</text>
<line x1="300.80" y1="25.40" x2="344.00" y2="25.40" stroke="#222" stroke-width="1.4"/>
<line x1="347.90" y1="25.40" x2="391.20" y2="25.40" stroke="#222" stroke-width="1.4"/>
<text transform="translate(306.27,46.50) rotate(-90)" font-size="6.4" text-anchor="start" fill="#111" font-weight="normal" stroke="#111" stroke-width="0.12">T0</text>
<text transform="translate(314.00,46.50) rotate(-90)" font-size="6.4" text-anchor="start" fill="#111" font-weight="normal" stroke="#111" stroke-width="0.12">12h</text>
<text transform="translate(321.73,46.50) rotate(-90)" font-size="6.4" text-anchor="start" fill="#111" font-weight="normal" stroke="#111" stroke-width="0.12">24h</text>
<text transform="translate(329.47,46.50) rotate(-90)" font-size="6.4" text-anchor="start" fill="#111" font-weight="normal" stroke="#111" stroke-width="0.12">36h</text>
<text transform="translate(337.20,46.50) rotate(-90)" font-size="6.4" text-anchor="start" fill="#111" font-weight="normal" stroke="#111" stroke-width="0.12">48h</text>
<text transform="translate(344.93,46.50) rotate(-90)" font-size="6.4" text-anchor="start" fill="#111" font-weight="normal" stroke="#111" stroke-width="0.12">60h</text>
<text transform="translate(352.67,46.50) rotate(-90)" font-size="6.4" text-anchor="start" fill="#111" font-weight="normal" stroke="#111" stroke-width="0.12">Prog2</text>
<text transform="translate(360.40,46.50) rotate(-90)" font-size="6.4" text-anchor="start" fill="#111" font-weight="normal" stroke="#111" stroke-width="0.12">ProE</text>
<text transform="translate(368.13,46.50) rotate(-90)" font-size="6.4" text-anchor="start" fill="#111" font-weight="normal" stroke="#111" stroke-width="0.12">Baso1</text>
<text transform="translate(375.87,46.50) rotate(-90)" font-size="6.4" text-anchor="start" fill="#111" font-weight="normal" stroke="#111" stroke-width="0.12">Baso2</text>
<text transform="translate(383.60,46.50) rotate(-90)" font-size="6.4" text-anchor="start" fill="#111" font-weight="normal" stroke="#111" stroke-width="0.12">Poly</text>
<text transform="translate(391.33,46.50) rotate(-90)" font-size="6.4" text-anchor="start" fill="#111" font-weight="normal" stroke="#111" stroke-width="0.12">Ortho</text>
<defs><linearGradient id="hmbar" x1="0" y1="0" x2="0" y2="1"><stop offset="0" stop-color="#c8262c"/><stop offset="0.5" stop-color="#f5f5f5"/><stop offset="1" stop-color="#1d4b8c"/></linearGradient></defs>
<rect x="396.90" y="48.80" width="2.40" height="19.40" fill="url(#hmbar)"/>
<text transform="translate(400.60,51.80)" font-size="6.4" text-anchor="start" fill="#111" font-weight="normal" stroke="#111" stroke-width="0.12">26</text>
<text transform="translate(400.60,72.20)" font-size="6.4" text-anchor="start" fill="#111" font-weight="normal" stroke="#111" stroke-width="0.12">8</text>
<text transform="translate(405.40,59.00)" font-size="6.4" text-anchor="start" fill="#111" font-weight="normal" stroke="#111" stroke-width="0.12">Log</text>
<text transform="translate(416.80,60.20)" font-size="4.0" text-anchor="start" fill="#111" font-weight="normal" stroke="#111" stroke-width="0.12">2</text>
<text transform="translate(418.30,59.00)" font-size="6.4" text-anchor="start" fill="#111" font-weight="normal" stroke="#111" stroke-width="0.12">(protein</text>
<text transform="translate(405.40,66.30)" font-size="6.4" text-anchor="start" fill="#111" font-weight="normal" textLength="37.6" lengthAdjust="spacingAndGlyphs" stroke="#111" stroke-width="0.12">copy number)</text>
<line x1="273.10" y1="48.80" x2="273.10" y2="72.70" stroke="#8a8a8a" stroke-width="1.0"/>
<line x1="273.10" y1="48.80" x2="286.50" y2="48.80" stroke="#8a8a8a" stroke-width="1.0"/>
<line x1="273.10" y1="72.70" x2="286.50" y2="72.70" stroke="#8a8a8a" stroke-width="1.0"/>
<line x1="286.50" y1="48.80" x2="286.50" y2="89.50" stroke="#8a8a8a" stroke-width="1.0"/>
<line x1="286.50" y1="89.50" x2="297.00" y2="89.50" stroke="#8a8a8a" stroke-width="1.0"/>
<line x1="286.50" y1="89.50" x2="286.50" y2="103.30" stroke="#8a8a8a" stroke-width="1.0"/>
<line x1="286.50" y1="103.30" x2="289.00" y2="103.30" stroke="#8a8a8a" stroke-width="1.0"/>
<polygon points="287.2,48.4 299.2,48.4 299.2,89.0 296.8,89.0 294.5,81 292.3,72 291,62 288.2,55" fill="#262626"/>
<polygon points="288.6,90.6 299.2,90.6 299.2,155.6 297.3,155.6 295.3,146 293.2,135 292.3,118 292.0,100 290.5,94.5" fill="#262626"/>
<line x1="295.68" y1="74.22" x2="297.48" y2="74.22" stroke="#a0a0a0" stroke-width="0.45"/>
<line x1="295.41" y1="99.25" x2="297.84" y2="99.25" stroke="#e0e0e0" stroke-width="0.45"/>
<line x1="294.66" y1="76.49" x2="298.15" y2="76.49" stroke="#e0e0e0" stroke-width="0.45"/>
<line x1="295.37" y1="106.34" x2="297.24" y2="106.34" stroke="#ffffff" stroke-width="0.45"/>
<line x1="293.72" y1="73.58" x2="297.02" y2="73.58" stroke="#e0e0e0" stroke-width="0.45"/>
<line x1="296.26" y1="127.57" x2="297.23" y2="127.57" stroke="#a0a0a0" stroke-width="0.45"/>
<line x1="295.71" y1="53.54" x2="298.70" y2="53.54" stroke="#e0e0e0" stroke-width="0.45"/>
<line x1="296.19" y1="99.11" x2="298.70" y2="99.11" stroke="#a0a0a0" stroke-width="0.45"/>
<line x1="295.26" y1="132.54" x2="298.03" y2="132.54" stroke="#a0a0a0" stroke-width="0.45"/>
<line x1="297.38" y1="96.13" x2="298.70" y2="96.13" stroke="#ffffff" stroke-width="0.45"/>
<line x1="292.93" y1="52.80" x2="294.43" y2="52.80" stroke="#a0a0a0" stroke-width="0.45"/>
<line x1="295.26" y1="95.23" x2="296.87" y2="95.23" stroke="#a0a0a0" stroke-width="0.45"/>
<line x1="296.16" y1="137.35" x2="298.40" y2="137.35" stroke="#e0e0e0" stroke-width="0.45"/>
<line x1="297.29" y1="110.93" x2="298.70" y2="110.93" stroke="#ffffff" stroke-width="0.45"/>
<line x1="297.77" y1="139.78" x2="298.70" y2="139.78" stroke="#ffffff" stroke-width="0.45"/>
<line x1="294.48" y1="123.05" x2="296.74" y2="123.05" stroke="#a0a0a0" stroke-width="0.45"/>
<line x1="296.27" y1="109.33" x2="297.64" y2="109.33" stroke="#a0a0a0" stroke-width="0.45"/>
<line x1="294.38" y1="77.31" x2="296.49" y2="77.31" stroke="#a0a0a0" stroke-width="0.45"/>
<line x1="297.30" y1="153.92" x2="298.70" y2="153.92" stroke="#e0e0e0" stroke-width="0.45"/>
<line x1="295.29" y1="144.09" x2="297.24" y2="144.09" stroke="#e0e0e0" stroke-width="0.45"/>
<line x1="294.88" y1="141.51" x2="297.34" y2="141.51" stroke="#ffffff" stroke-width="0.45"/>
<line x1="295.41" y1="111.16" x2="298.70" y2="111.16" stroke="#e0e0e0" stroke-width="0.45"/>
<line x1="297.79" y1="102.57" x2="298.70" y2="102.57" stroke="#ffffff" stroke-width="0.45"/>
<line x1="294.50" y1="60.46" x2="297.86" y2="60.46" stroke="#e0e0e0" stroke-width="0.45"/>
<line x1="295.39" y1="79.91" x2="298.06" y2="79.91" stroke="#e0e0e0" stroke-width="0.45"/>
<line x1="297.69" y1="82.27" x2="298.70" y2="82.27" stroke="#e0e0e0" stroke-width="0.45"/>
<line x1="295.89" y1="141.21" x2="298.70" y2="141.21" stroke="#a0a0a0" stroke-width="0.45"/>
<line x1="295.76" y1="108.28" x2="298.70" y2="108.28" stroke="#a0a0a0" stroke-width="0.45"/>
<line x1="296.41" y1="77.76" x2="298.70" y2="77.76" stroke="#e0e0e0" stroke-width="0.45"/>
<line x1="292.78" y1="95.37" x2="294.40" y2="95.37" stroke="#e0e0e0" stroke-width="0.45"/>
<line x1="291.94" y1="50.21" x2="294.30" y2="50.21" stroke="#ffffff" stroke-width="0.45"/>
<line x1="293.20" y1="111.46" x2="295.71" y2="111.46" stroke="#e0e0e0" stroke-width="0.45"/>
<line x1="295.90" y1="98.42" x2="297.65" y2="98.42" stroke="#a0a0a0" stroke-width="0.45"/>
<line x1="295.96" y1="78.57" x2="298.36" y2="78.57" stroke="#a0a0a0" stroke-width="0.45"/>
<line x1="291.58" y1="51.25" x2="294.07" y2="51.25" stroke="#e0e0e0" stroke-width="0.45"/>
<line x1="294.19" y1="111.82" x2="295.98" y2="111.82" stroke="#e0e0e0" stroke-width="0.45"/>
<line x1="297.08" y1="129.36" x2="298.60" y2="129.36" stroke="#e0e0e0" stroke-width="0.45"/>
<line x1="296.44" y1="60.12" x2="298.70" y2="60.12" stroke="#a0a0a0" stroke-width="0.45"/>
<line x1="294.54" y1="126.93" x2="295.94" y2="126.93" stroke="#e0e0e0" stroke-width="0.45"/>
<line x1="294.03" y1="74.30" x2="296.01" y2="74.30" stroke="#a0a0a0" stroke-width="0.45"/>
<line x1="294.77" y1="59.28" x2="298.13" y2="59.28" stroke="#a0a0a0" stroke-width="0.45"/>
<line x1="295.64" y1="137.36" x2="298.70" y2="137.36" stroke="#ffffff" stroke-width="0.45"/>
<line x1="295.66" y1="57.47" x2="297.05" y2="57.47" stroke="#a0a0a0" stroke-width="0.45"/>
<line x1="292.86" y1="96.82" x2="293.99" y2="96.82" stroke="#a0a0a0" stroke-width="0.45"/>
<line x1="296.94" y1="150.50" x2="298.70" y2="150.50" stroke="#a0a0a0" stroke-width="0.45"/>
<line x1="293.72" y1="68.46" x2="296.70" y2="68.46" stroke="#a0a0a0" stroke-width="0.45"/>
<line x1="294.73" y1="58.07" x2="297.12" y2="58.07" stroke="#e0e0e0" stroke-width="0.45"/>
<line x1="297.13" y1="79.95" x2="298.66" y2="79.95" stroke="#e0e0e0" stroke-width="0.45"/>
<line x1="294.09" y1="116.22" x2="296.42" y2="116.22" stroke="#ffffff" stroke-width="0.45"/>
<line x1="296.05" y1="146.58" x2="296.86" y2="146.58" stroke="#a0a0a0" stroke-width="0.45"/>
<line x1="297.45" y1="153.61" x2="298.70" y2="153.61" stroke="#a0a0a0" stroke-width="0.45"/>
<line x1="296.51" y1="72.54" x2="298.70" y2="72.54" stroke="#a0a0a0" stroke-width="0.45"/>
<line x1="297.63" y1="128.29" x2="298.70" y2="128.29" stroke="#ffffff" stroke-width="0.45"/>
<line x1="297.33" y1="140.32" x2="298.70" y2="140.32" stroke="#ffffff" stroke-width="0.45"/>
<line x1="293.69" y1="134.88" x2="296.93" y2="134.88" stroke="#a0a0a0" stroke-width="0.45"/>
<line x1="293.44" y1="103.30" x2="296.62" y2="103.30" stroke="#e0e0e0" stroke-width="0.45"/>
<line x1="292.54" y1="110.16" x2="295.35" y2="110.16" stroke="#ffffff" stroke-width="0.45"/>
<line x1="293.64" y1="102.34" x2="294.50" y2="102.34" stroke="#a0a0a0" stroke-width="0.45"/>
<line x1="297.32" y1="92.86" x2="298.70" y2="92.86" stroke="#e0e0e0" stroke-width="0.45"/>
<line x1="297.62" y1="62.29" x2="298.70" y2="62.29" stroke="#ffffff" stroke-width="0.45"/>
<line x1="296.61" y1="86.30" x2="298.70" y2="86.30" stroke="#ffffff" stroke-width="0.45"/>
<line x1="296.59" y1="67.16" x2="298.70" y2="67.16" stroke="#ffffff" stroke-width="0.45"/>
<line x1="293.78" y1="136.29" x2="296.27" y2="136.29" stroke="#e0e0e0" stroke-width="0.45"/>
<line x1="290.95" y1="54.29" x2="292.47" y2="54.29" stroke="#a0a0a0" stroke-width="0.45"/>
<line x1="292.64" y1="104.09" x2="294.32" y2="104.09" stroke="#ffffff" stroke-width="0.45"/>
<line x1="297.04" y1="139.84" x2="297.97" y2="139.84" stroke="#ffffff" stroke-width="0.45"/>
<line x1="297.58" y1="56.25" x2="298.70" y2="56.25" stroke="#ffffff" stroke-width="0.45"/>
<line x1="35.50" y1="247.43" x2="143.50" y2="247.43" stroke="#b4b4b4" stroke-width="1.3"/>
<line x1="35.50" y1="252.65" x2="143.50" y2="252.65" stroke="#b4b4b4" stroke-width="1.3"/>
<line x1="35.50" y1="257.88" x2="143.50" y2="257.88" stroke="#b4b4b4" stroke-width="1.3"/>
<line x1="93.60" y1="201.20" x2="93.60" y2="300.35" stroke="#9a9a9a" stroke-width="0.9"/>
<line x1="143.50" y1="201.20" x2="143.50" y2="300.35" stroke="#9a9a9a" stroke-width="0.9"/>
<defs>
<linearGradient id="dbar" x1="0" y1="0" x2="1" y2="0"><stop offset="0" stop-color="#c8ff30"/><stop offset="0.15" stop-color="#ffee00"/><stop offset="0.35" stop-color="#ff7000"/><stop offset="0.5" stop-color="#ee0000"/><stop offset="0.62" stop-color="#800060"/><stop offset="0.78" stop-color="#1030ff"/><stop offset="1" stop-color="#50ffff"/></linearGradient>
<clipPath id="dclip"><rect x="30" y="200" width="119.9" height="100"/></clipPath>
<filter id="bl3" x="-60%" y="-60%" width="220%" height="220%"><feGaussianBlur stdDeviation="2.6"/></filter>
<filter id="bl2" x="-60%" y="-60%" width="220%" height="220%"><feGaussianBlur stdDeviation="1.6"/></filter>
<filter id="bl1" x="-60%" y="-60%" width="220%" height="220%"><feGaussianBlur stdDeviation="1.0"/></filter>
</defs>
<g clip-path="url(#dclip)">
<ellipse cx="127" cy="250" rx="10" ry="13" fill="#e0f050" opacity="0.55" filter="url(#bl3)"/>
<ellipse cx="139.5" cy="251" rx="12" ry="18" fill="#ffe000" filter="url(#bl3)"/>
<ellipse cx="145" cy="251" rx="9.5" ry="14.5" fill="#ff8000" filter="url(#bl2)"/>
<ellipse cx="146.5" cy="251" rx="8" ry="12" fill="#ee0a00" filter="url(#bl2)"/>
<ellipse cx="147.2" cy="251" rx="6.4" ry="8.2" fill="#3010a0" filter="url(#bl1)"/>
<ellipse cx="147.4" cy="251" rx="5.3" ry="6.7" fill="#0838ff" filter="url(#bl1)"/>
<ellipse cx="146.8" cy="251.3" rx="2.8" ry="3.4" fill="#40f0ff" filter="url(#bl1)"/>
</g>
<rect x="143.91" y="273.32" width="1.40" height="1.40" fill="#5cf03e"/>
<rect x="142.56" y="279.06" width="1.40" height="1.40" fill="#5cf03e"/>
<rect x="73.13" y="230.69" width="1.40" height="1.40" fill="#5cf03e"/>
<rect x="133.07" y="241.71" width="1.40" height="1.40" fill="#5cf03e"/>
<rect x="127.01" y="267.06" width="1.40" height="1.40" fill="#5cf03e"/>
<rect x="54.99" y="257.51" width="1.40" height="1.40" fill="#5cf03e"/>
<rect x="107.57" y="262.22" width="1.40" height="1.40" fill="#5cf03e"/>
<rect x="97.30" y="237.97" width="1.40" height="1.40" fill="#5cf03e"/>
<rect x="39.33" y="235.31" width="1.40" height="1.40" fill="#5cf03e"/>
<rect x="131.21" y="259.09" width="1.40" height="1.40" fill="#5cf03e"/>
<rect x="107.94" y="256.36" width="1.40" height="1.40" fill="#5cf03e"/>
<rect x="107.78" y="266.84" width="1.40" height="1.40" fill="#5cf03e"/>
<rect x="82.47" y="255.38" width="1.40" height="1.40" fill="#5cf03e"/>
<rect x="49.82" y="237.80" width="1.40" height="1.40" fill="#5cf03e"/>
<rect x="61.16" y="252.98" width="1.40" height="1.40" fill="#5cf03e"/>
<rect x="127.04" y="262.34" width="1.40" height="1.40" fill="#5cf03e"/>
<rect x="137.68" y="232.15" width="1.40" height="1.40" fill="#5cf03e"/>
<rect x="140.06" y="230.93" width="1.40" height="1.40" fill="#5cf03e"/>
<rect x="52.38" y="252.95" width="1.40" height="1.40" fill="#5cf03e"/>
<rect x="131.77" y="232.90" width="1.40" height="1.40" fill="#5cf03e"/>
<rect x="123.74" y="255.88" width="1.40" height="1.40" fill="#5cf03e"/>
<rect x="101.40" y="255.16" width="1.40" height="1.40" fill="#5cf03e"/>
<rect x="93.74" y="242.87" width="1.40" height="1.40" fill="#5cf03e"/>
<rect x="108.13" y="281.66" width="1.40" height="1.40" fill="#5cf03e"/>
<rect x="64.03" y="278.85" width="1.40" height="1.40" fill="#5cf03e"/>
<rect x="108.59" y="238.54" width="1.40" height="1.40" fill="#5cf03e"/>
<rect x="131.19" y="255.01" width="1.40" height="1.40" fill="#5cf03e"/>
<rect x="50.05" y="243.00" width="1.40" height="1.40" fill="#5cf03e"/>
<rect x="130.72" y="252.10" width="1.40" height="1.40" fill="#5cf03e"/>
<rect x="111.11" y="267.59" width="1.40" height="1.40" fill="#5cf03e"/>
<rect x="140.72" y="270.63" width="1.40" height="1.40" fill="#5cf03e"/>
<rect x="118.93" y="255.54" width="1.40" height="1.40" fill="#5cf03e"/>
<rect x="115.12" y="266.40" width="1.40" height="1.40" fill="#5cf03e"/>
<rect x="70.87" y="272.12" width="1.40" height="1.40" fill="#5cf03e"/>
<rect x="100.76" y="256.74" width="1.40" height="1.40" fill="#5cf03e"/>
<rect x="118.57" y="232.28" width="1.40" height="1.40" fill="#5cf03e"/>
<rect x="88.81" y="271.33" width="1.40" height="1.40" fill="#5cf03e"/>
<rect x="66.67" y="236.53" width="1.40" height="1.40" fill="#5cf03e"/>
<rect x="110.56" y="256.17" width="1.40" height="1.40" fill="#5cf03e"/>
<rect x="135.76" y="275.62" width="1.40" height="1.40" fill="#5cf03e"/>
<rect x="136.14" y="272.17" width="1.40" height="1.40" fill="#5cf03e"/>
<rect x="123.49" y="269.35" width="1.40" height="1.40" fill="#5cf03e"/>
<rect x="141.34" y="270.22" width="1.40" height="1.40" fill="#5cf03e"/>
<rect x="110.44" y="257.79" width="1.40" height="1.40" fill="#5cf03e"/>
<rect x="113.32" y="250.85" width="1.40" height="1.40" fill="#5cf03e"/>
<rect x="132.47" y="263.76" width="1.40" height="1.40" fill="#5cf03e"/>
<rect x="118.08" y="269.12" width="1.40" height="1.40" fill="#5cf03e"/>
<rect x="119.75" y="267.42" width="1.40" height="1.40" fill="#5cf03e"/>
<rect x="116.57" y="233.25" width="1.40" height="1.40" fill="#5cf03e"/>
<rect x="119.17" y="282.36" width="1.40" height="1.40" fill="#5cf03e"/>
<rect x="114.25" y="253.63" width="1.40" height="1.40" fill="#5cf03e"/>
<rect x="100.17" y="235.46" width="1.40" height="1.40" fill="#5cf03e"/>
<rect x="134.84" y="255.63" width="1.40" height="1.40" fill="#5cf03e"/>
<rect x="96.07" y="276.87" width="1.40" height="1.40" fill="#5cf03e"/>
<rect x="132.42" y="262.78" width="1.40" height="1.40" fill="#5cf03e"/>
<rect x="140.54" y="268.85" width="1.40" height="1.40" fill="#5cf03e"/>
<rect x="131.03" y="250.72" width="1.40" height="1.40" fill="#5cf03e"/>
<rect x="135.47" y="258.79" width="1.40" height="1.40" fill="#5cf03e"/>
<rect x="62.33" y="247.67" width="1.40" height="1.40" fill="#5cf03e"/>
<rect x="73.11" y="242.61" width="1.40" height="1.40" fill="#5cf03e"/>
<rect x="119.51" y="262.32" width="1.40" height="1.40" fill="#5cf03e"/>
<rect x="99.79" y="254.93" width="1.40" height="1.40" fill="#5cf03e"/>
<rect x="127.80" y="278.41" width="1.40" height="1.40" fill="#5cf03e"/>
<rect x="114.06" y="271.17" width="1.40" height="1.40" fill="#5cf03e"/>
<rect x="122.89" y="256.49" width="1.40" height="1.40" fill="#5cf03e"/>
<rect x="135.68" y="279.72" width="1.40" height="1.40" fill="#5cf03e"/>
<rect x="120.54" y="260.62" width="1.40" height="1.40" fill="#5cf03e"/>
<rect x="130.90" y="246.21" width="1.40" height="1.40" fill="#5cf03e"/>
<rect x="136.74" y="242.90" width="1.40" height="1.40" fill="#5cf03e"/>
<rect x="130.21" y="250.47" width="1.40" height="1.40" fill="#5cf03e"/>
<rect x="124.73" y="274.25" width="1.40" height="1.40" fill="#5cf03e"/>
<rect x="100.37" y="259.63" width="1.40" height="1.40" fill="#5cf03e"/>
<rect x="134.78" y="264.40" width="1.40" height="1.40" fill="#5cf03e"/>
<rect x="85.47" y="251.69" width="1.40" height="1.40" fill="#5cf03e"/>
<rect x="111.27" y="239.58" width="1.40" height="1.40" fill="#5cf03e"/>
<rect x="123.10" y="260.51" width="1.40" height="1.40" fill="#5cf03e"/>
<rect x="111.85" y="263.99" width="1.40" height="1.40" fill="#5cf03e"/>
<rect x="94.62" y="258.01" width="1.40" height="1.40" fill="#5cf03e"/>
<rect x="115.48" y="256.23" width="1.40" height="1.40" fill="#5cf03e"/>
<rect x="115.40" y="264.71" width="1.40" height="1.40" fill="#5cf03e"/>
<rect x="113.01" y="243.02" width="1.40" height="1.40" fill="#5cf03e"/>
<rect x="141.78" y="230.18" width="1.40" height="1.40" fill="#5cf03e"/>
<rect x="118.78" y="231.18" width="1.40" height="1.40" fill="#5cf03e"/>
<rect x="142.16" y="268.72" width="1.40" height="1.40" fill="#5cf03e"/>
<rect x="127.44" y="278.26" width="1.40" height="1.40" fill="#5cf03e"/>
<rect x="139.75" y="270.22" width="1.40" height="1.40" fill="#5cf03e"/>
<rect x="60.80" y="232.70" width="1.40" height="1.40" fill="#5cf03e"/>
<rect x="100.54" y="242.73" width="1.40" height="1.40" fill="#5cf03e"/>
<rect x="126.62" y="247.91" width="1.40" height="1.40" fill="#5cf03e"/>
<rect x="133.97" y="255.50" width="1.40" height="1.40" fill="#5cf03e"/>
<rect x="116.92" y="256.23" width="1.40" height="1.40" fill="#5cf03e"/>
<rect x="126.43" y="238.84" width="1.40" height="1.40" fill="#5cf03e"/>
<rect x="129.04" y="248.33" width="1.40" height="1.40" fill="#5cf03e"/>
<rect x="136.26" y="269.08" width="1.40" height="1.40" fill="#5cf03e"/>
<rect x="133.77" y="229.94" width="1.40" height="1.40" fill="#5cf03e"/>
<rect x="86.26" y="242.84" width="1.40" height="1.40" fill="#5cf03e"/>
<rect x="133.29" y="255.32" width="1.40" height="1.40" fill="#5cf03e"/>
<rect x="132.96" y="248.28" width="1.40" height="1.40" fill="#5cf03e"/>
<rect x="134.21" y="250.40" width="1.40" height="1.40" fill="#5cf03e"/>
<rect x="143.73" y="276.59" width="1.40" height="1.40" fill="#5cf03e"/>
<rect x="70.66" y="260.33" width="1.40" height="1.40" fill="#5cf03e"/>
<rect x="113.60" y="241.17" width="1.40" height="1.40" fill="#5cf03e"/>
<rect x="90.02" y="257.67" width="1.40" height="1.40" fill="#5cf03e"/>
<rect x="85.21" y="286.36" width="1.40" height="1.40" fill="#5cf03e"/>
<rect x="132.17" y="252.48" width="1.40" height="1.40" fill="#5cf03e"/>
<rect x="102.51" y="246.09" width="1.40" height="1.40" fill="#5cf03e"/>
<rect x="132.01" y="252.58" width="1.40" height="1.40" fill="#5cf03e"/>
<rect x="129.85" y="254.80" width="1.40" height="1.40" fill="#5cf03e"/>
<rect x="92.63" y="261.48" width="1.40" height="1.40" fill="#5cf03e"/>
<rect x="92.04" y="226.89" width="1.40" height="1.40" fill="#5cf03e"/>
<rect x="50.19" y="229.32" width="1.40" height="1.40" fill="#5cf03e"/>
<rect x="134.53" y="227.90" width="1.40" height="1.40" fill="#5cf03e"/>
<rect x="99.29" y="249.12" width="1.40" height="1.40" fill="#5cf03e"/>
<rect x="133.29" y="257.31" width="1.40" height="1.40" fill="#5cf03e"/>
<rect x="131.06" y="260.35" width="1.40" height="1.40" fill="#5cf03e"/>
<rect x="130.37" y="237.11" width="1.40" height="1.40" fill="#5cf03e"/>
<rect x="108.83" y="247.65" width="1.40" height="1.40" fill="#5cf03e"/>
<rect x="119.92" y="267.96" width="1.40" height="1.40" fill="#5cf03e"/>
<rect x="41.61" y="267.65" width="1.40" height="1.40" fill="#5cf03e"/>
<rect x="42.07" y="238.17" width="1.40" height="1.40" fill="#5cf03e"/>
<rect x="127.02" y="238.40" width="1.40" height="1.40" fill="#5cf03e"/>
<rect x="127.35" y="246.31" width="1.40" height="1.40" fill="#5cf03e"/>
<rect x="66.50" y="246.62" width="1.40" height="1.40" fill="#5cf03e"/>
<rect x="135.29" y="256.67" width="1.40" height="1.40" fill="#5cf03e"/>
<rect x="106.58" y="277.07" width="1.40" height="1.40" fill="#5cf03e"/>
<rect x="100.84" y="258.20" width="1.40" height="1.40" fill="#5cf03e"/>
<rect x="119.95" y="238.77" width="1.40" height="1.40" fill="#5cf03e"/>
<rect x="119.95" y="260.83" width="1.40" height="1.40" fill="#5cf03e"/>
<rect x="53.85" y="274.49" width="1.40" height="1.40" fill="#5cf03e"/>
<rect x="55.99" y="237.96" width="1.40" height="1.40" fill="#5cf03e"/>
<rect x="133.76" y="258.78" width="1.40" height="1.40" fill="#5cf03e"/>
<rect x="129.20" y="255.98" width="1.40" height="1.40" fill="#5cf03e"/>
<rect x="104.55" y="247.33" width="1.40" height="1.40" fill="#5cf03e"/>
<rect x="129.64" y="235.83" width="1.40" height="1.40" fill="#5cf03e"/>
<rect x="132.48" y="250.62" width="1.40" height="1.40" fill="#5cf03e"/>
<rect x="95.99" y="252.22" width="1.40" height="1.40" fill="#5cf03e"/>
<rect x="114.48" y="247.73" width="1.40" height="1.40" fill="#5cf03e"/>
<rect x="122.09" y="253.27" width="1.40" height="1.40" fill="#5cf03e"/>
<rect x="44.39" y="237.29" width="1.40" height="1.40" fill="#5cf03e"/>
<rect x="128.17" y="243.48" width="1.40" height="1.40" fill="#5cf03e"/>
<rect x="68.15" y="248.07" width="1.40" height="1.40" fill="#5cf03e"/>
<rect x="57.81" y="263.15" width="1.40" height="1.40" fill="#5cf03e"/>
<rect x="41.94" y="244.59" width="1.40" height="1.40" fill="#5cf03e"/>
<rect x="132.87" y="239.01" width="1.40" height="1.40" fill="#5cf03e"/>
<rect x="120.74" y="242.53" width="1.40" height="1.40" fill="#5cf03e"/>
<rect x="104.05" y="265.67" width="1.40" height="1.40" fill="#5cf03e"/>
<rect x="40.46" y="269.49" width="1.40" height="1.40" fill="#5cf03e"/>
<rect x="138.84" y="263.97" width="1.40" height="1.40" fill="#5cf03e"/>
<rect x="120.54" y="243.15" width="1.40" height="1.40" fill="#5cf03e"/>
<rect x="134.61" y="248.00" width="1.40" height="1.40" fill="#5cf03e"/>
<rect x="61.92" y="261.85" width="1.40" height="1.40" fill="#5cf03e"/>
<rect x="95.49" y="246.21" width="1.40" height="1.40" fill="#5cf03e"/>
<rect x="45.17" y="264.26" width="1.40" height="1.40" fill="#5cf03e"/>
<rect x="122.31" y="245.52" width="1.40" height="1.40" fill="#5cf03e"/>
<rect x="129.56" y="249.56" width="1.40" height="1.40" fill="#5cf03e"/>
<rect x="129.15" y="233.47" width="1.40" height="1.40" fill="#5cf03e"/>
<rect x="115.88" y="262.59" width="1.40" height="1.40" fill="#5cf03e"/>
<rect x="120.98" y="257.83" width="1.40" height="1.40" fill="#5cf03e"/>
<rect x="109.70" y="276.73" width="1.40" height="1.40" fill="#5cf03e"/>
<rect x="51.54" y="253.81" width="1.40" height="1.40" fill="#5cf03e"/>
<rect x="106.97" y="233.14" width="1.40" height="1.40" fill="#5cf03e"/>
<rect x="128.96" y="248.13" width="1.40" height="1.40" fill="#5cf03e"/>
<rect x="65.23" y="251.08" width="1.40" height="1.40" fill="#5cf03e"/>
<rect x="111.96" y="257.14" width="1.40" height="1.40" fill="#5cf03e"/>
<rect x="123.82" y="247.02" width="1.40" height="1.40" fill="#5cf03e"/>
<rect x="111.58" y="250.71" width="1.40" height="1.40" fill="#5cf03e"/>
<rect x="126.68" y="235.33" width="1.40" height="1.40" fill="#5cf03e"/>
<rect x="102.96" y="260.01" width="1.40" height="1.40" fill="#5cf03e"/>
<rect x="62.31" y="236.95" width="1.40" height="1.40" fill="#5cf03e"/>
<rect x="131.44" y="271.10" width="1.40" height="1.40" fill="#5cf03e"/>
<rect x="130.16" y="283.06" width="1.40" height="1.40" fill="#5cf03e"/>
<rect x="132.18" y="234.41" width="1.40" height="1.40" fill="#5cf03e"/>
<rect x="117.09" y="220.52" width="1.40" height="1.40" fill="#5cf03e"/>
<rect x="81.25" y="237.97" width="1.40" height="1.40" fill="#5cf03e"/>
<rect x="126.98" y="260.07" width="1.40" height="1.40" fill="#5cf03e"/>
<rect x="59.39" y="245.86" width="1.40" height="1.40" fill="#5cf03e"/>
<rect x="114.09" y="251.89" width="1.40" height="1.40" fill="#5cf03e"/>
<rect x="126.77" y="251.57" width="1.40" height="1.40" fill="#5cf03e"/>
<rect x="71.56" y="242.16" width="1.40" height="1.40" fill="#5cf03e"/>
<rect x="116.78" y="237.83" width="1.40" height="1.40" fill="#5cf03e"/>
<rect x="107.47" y="244.83" width="1.40" height="1.40" fill="#5cf03e"/>
<rect x="91.50" y="249.71" width="1.40" height="1.40" fill="#5cf03e"/>
<rect x="131.62" y="231.57" width="1.40" height="1.40" fill="#5cf03e"/>
<rect x="124.86" y="273.82" width="1.40" height="1.40" fill="#5cf03e"/>
<rect x="138.37" y="263.05" width="1.40" height="1.40" fill="#5cf03e"/>
<rect x="76.49" y="260.52" width="1.40" height="1.40" fill="#5cf03e"/>
<rect x="126.25" y="279.47" width="1.40" height="1.40" fill="#5cf03e"/>
<rect x="102.05" y="235.56" width="1.40" height="1.40" fill="#5cf03e"/>
<rect x="127.73" y="272.90" width="1.40" height="1.40" fill="#5cf03e"/>
<rect x="135.56" y="267.04" width="1.40" height="1.40" fill="#5cf03e"/>
<rect x="124.33" y="252.98" width="1.40" height="1.40" fill="#5cf03e"/>
<rect x="65.13" y="245.79" width="1.40" height="1.40" fill="#5cf03e"/>
<rect x="143.82" y="270.94" width="1.40" height="1.40" fill="#5cf03e"/>
<rect x="127.30" y="256.09" width="1.40" height="1.40" fill="#5cf03e"/>
<rect x="106.75" y="243.16" width="1.40" height="1.40" fill="#5cf03e"/>
<rect x="92.27" y="258.80" width="1.40" height="1.40" fill="#5cf03e"/>
<rect x="123.64" y="268.69" width="1.40" height="1.40" fill="#5cf03e"/>
<rect x="138.20" y="237.94" width="1.40" height="1.40" fill="#5cf03e"/>
<rect x="141.44" y="219.44" width="1.40" height="1.40" fill="#5cf03e"/>
<rect x="129.63" y="236.22" width="1.40" height="1.40" fill="#5cf03e"/>
<rect x="115.68" y="260.81" width="1.40" height="1.40" fill="#5cf03e"/>
<rect x="115.19" y="240.34" width="1.40" height="1.40" fill="#5cf03e"/>
<rect x="140.82" y="263.31" width="1.40" height="1.40" fill="#5cf03e"/>
<rect x="105.95" y="269.75" width="1.40" height="1.40" fill="#5cf03e"/>
<rect x="85.32" y="250.79" width="1.40" height="1.40" fill="#5cf03e"/>
<rect x="80.44" y="263.07" width="1.40" height="1.40" fill="#5cf03e"/>
<rect x="115.65" y="265.35" width="1.40" height="1.40" fill="#5cf03e"/>
<rect x="117.54" y="245.29" width="1.40" height="1.40" fill="#5cf03e"/>
<rect x="129.76" y="253.56" width="1.40" height="1.40" fill="#5cf03e"/>
<rect x="47.62" y="271.64" width="1.40" height="1.40" fill="#5cf03e"/>
<rect x="53.06" y="260.12" width="1.40" height="1.40" fill="#5cf03e"/>
<rect x="121.92" y="266.58" width="1.40" height="1.40" fill="#5cf03e"/>
<rect x="118.27" y="246.74" width="1.40" height="1.40" fill="#5cf03e"/>
<rect x="124.12" y="254.75" width="1.40" height="1.40" fill="#5cf03e"/>
<rect x="109.53" y="273.68" width="1.40" height="1.40" fill="#5cf03e"/>
<rect x="129.79" y="273.71" width="1.40" height="1.40" fill="#5cf03e"/>
<rect x="132.42" y="247.29" width="1.40" height="1.40" fill="#5cf03e"/>
<rect x="45.96" y="239.42" width="1.40" height="1.40" fill="#5cf03e"/>
<rect x="94.45" y="234.26" width="1.40" height="1.40" fill="#5cf03e"/>
<rect x="127.10" y="271.78" width="1.40" height="1.40" fill="#5cf03e"/>
<rect x="87.73" y="265.79" width="1.40" height="1.40" fill="#5cf03e"/>
<rect x="134.34" y="253.17" width="1.40" height="1.40" fill="#5cf03e"/>
<rect x="43.89" y="247.84" width="1.40" height="1.40" fill="#5cf03e"/>
<rect x="121.80" y="260.33" width="1.40" height="1.40" fill="#5cf03e"/>
<rect x="68.59" y="275.36" width="1.40" height="1.40" fill="#5cf03e"/>
<rect x="118.21" y="239.01" width="1.40" height="1.40" fill="#5cf03e"/>
<rect x="84.70" y="258.67" width="1.40" height="1.40" fill="#5cf03e"/>
<rect x="94.57" y="254.31" width="1.40" height="1.40" fill="#5cf03e"/>
<rect x="74.11" y="264.87" width="1.40" height="1.40" fill="#5cf03e"/>
<rect x="141.64" y="278.77" width="1.40" height="1.40" fill="#5cf03e"/>
<rect x="138.53" y="238.28" width="1.40" height="1.40" fill="#5cf03e"/>
<rect x="137.97" y="267.22" width="1.40" height="1.40" fill="#5cf03e"/>
<rect x="119.80" y="232.02" width="1.40" height="1.40" fill="#5cf03e"/>
<rect x="120.21" y="248.04" width="1.40" height="1.40" fill="#5cf03e"/>
<rect x="121.65" y="244.18" width="1.40" height="1.40" fill="#5cf03e"/>
<rect x="121.21" y="255.00" width="1.40" height="1.40" fill="#5cf03e"/>
<rect x="125.66" y="245.80" width="1.40" height="1.40" fill="#5cf03e"/>
<rect x="101.53" y="251.29" width="1.40" height="1.40" fill="#5cf03e"/>
<rect x="126.44" y="251.01" width="1.40" height="1.40" fill="#5cf03e"/>
<rect x="122.82" y="242.22" width="1.40" height="1.40" fill="#5cf03e"/>
<rect x="55.13" y="235.22" width="1.40" height="1.40" fill="#5cf03e"/>
<rect x="135.46" y="257.46" width="1.40" height="1.40" fill="#5cf03e"/>
<rect x="67.82" y="269.17" width="1.40" height="1.40" fill="#5cf03e"/>
<rect x="113.96" y="245.52" width="1.40" height="1.40" fill="#5cf03e"/>
<rect x="123.44" y="265.46" width="1.40" height="1.40" fill="#5cf03e"/>
<rect x="40.93" y="249.97" width="1.40" height="1.40" fill="#5cf03e"/>
<rect x="119.37" y="239.72" width="1.40" height="1.40" fill="#5cf03e"/>
<rect x="94.36" y="231.76" width="1.40" height="1.40" fill="#5cf03e"/>
<rect x="109.55" y="213.99" width="1.40" height="1.40" fill="#5cf03e"/>
<rect x="69.91" y="260.72" width="1.40" height="1.40" fill="#5cf03e"/>
<rect x="125.10" y="250.09" width="1.40" height="1.40" fill="#5cf03e"/>
<rect x="134.89" y="246.83" width="1.40" height="1.40" fill="#5cf03e"/>
<rect x="123.29" y="246.68" width="1.40" height="1.40" fill="#5cf03e"/>
<rect x="133.25" y="257.20" width="1.40" height="1.40" fill="#5cf03e"/>
<rect x="99.57" y="231.40" width="1.40" height="1.40" fill="#5cf03e"/>
<rect x="56.44" y="257.12" width="1.40" height="1.40" fill="#5cf03e"/>
<rect x="70.46" y="254.70" width="1.40" height="1.40" fill="#5cf03e"/>
<rect x="102.53" y="250.86" width="1.40" height="1.40" fill="#5cf03e"/>
<rect x="131.42" y="233.48" width="1.40" height="1.40" fill="#5cf03e"/>
<rect x="47.28" y="255.77" width="1.40" height="1.40" fill="#5cf03e"/>
<rect x="128.49" y="243.80" width="1.40" height="1.40" fill="#5cf03e"/>
<rect x="86.78" y="267.29" width="1.40" height="1.40" fill="#5cf03e"/>
<rect x="127.66" y="255.88" width="1.40" height="1.40" fill="#5cf03e"/>
<rect x="119.14" y="245.00" width="1.40" height="1.40" fill="#5cf03e"/>
<rect x="121.12" y="249.12" width="1.40" height="1.40" fill="#5cf03e"/>
<rect x="124.41" y="250.60" width="1.40" height="1.40" fill="#5cf03e"/>
<rect x="112.66" y="274.55" width="1.40" height="1.40" fill="#5cf03e"/>
<rect x="105.50" y="255.52" width="1.40" height="1.40" fill="#5cf03e"/>
<rect x="71.96" y="263.07" width="1.40" height="1.40" fill="#5cf03e"/>
<rect x="115.84" y="227.83" width="1.40" height="1.40" fill="#5cf03e"/>
<rect x="71.90" y="253.61" width="1.40" height="1.40" fill="#5cf03e"/>
<rect x="114.18" y="242.93" width="1.40" height="1.40" fill="#5cf03e"/>
<rect x="133.75" y="267.47" width="1.40" height="1.40" fill="#5cf03e"/>
<rect x="72.28" y="251.22" width="1.40" height="1.40" fill="#5cf03e"/>
<rect x="45.60" y="256.73" width="1.40" height="1.40" fill="#5cf03e"/>
<rect x="134.06" y="252.76" width="1.40" height="1.40" fill="#5cf03e"/>
<rect x="125.27" y="252.47" width="1.40" height="1.40" fill="#5cf03e"/>
<rect x="125.85" y="260.34" width="1.40" height="1.40" fill="#5cf03e"/>
<rect x="127.80" y="251.70" width="1.40" height="1.40" fill="#5cf03e"/>
<rect x="125.77" y="275.71" width="1.40" height="1.40" fill="#5cf03e"/>
<rect x="49.20" y="239.37" width="1.40" height="1.40" fill="#5cf03e"/>
<rect x="93.11" y="253.97" width="1.40" height="1.40" fill="#5cf03e"/>
<rect x="99.26" y="252.77" width="1.40" height="1.40" fill="#5cf03e"/>
<rect x="115.23" y="239.03" width="1.40" height="1.40" fill="#5cf03e"/>
<rect x="132.14" y="257.45" width="1.40" height="1.40" fill="#5cf03e"/>
<rect x="113.39" y="272.36" width="1.40" height="1.40" fill="#5cf03e"/>
<rect x="112.10" y="244.67" width="1.40" height="1.40" fill="#5cf03e"/>
<rect x="114.29" y="238.11" width="1.40" height="1.40" fill="#5cf03e"/>
<rect x="89.92" y="254.51" width="1.40" height="1.40" fill="#5cf03e"/>
<rect x="129.49" y="254.62" width="1.40" height="1.40" fill="#5cf03e"/>
<rect x="64.90" y="237.45" width="1.40" height="1.40" fill="#5cf03e"/>
<rect x="133.13" y="256.31" width="1.40" height="1.40" fill="#5cf03e"/>
<rect x="75.00" y="259.83" width="1.40" height="1.40" fill="#5cf03e"/>
<rect x="113.88" y="246.84" width="1.40" height="1.40" fill="#5cf03e"/>
<rect x="133.61" y="244.45" width="1.40" height="1.40" fill="#5cf03e"/>
<rect x="91.31" y="257.75" width="1.40" height="1.40" fill="#5cf03e"/>
<rect x="131.98" y="262.63" width="1.40" height="1.40" fill="#5cf03e"/>
<rect x="135.06" y="260.54" width="1.40" height="1.40" fill="#5cf03e"/>
<rect x="58.09" y="272.54" width="1.40" height="1.40" fill="#5cf03e"/>
<rect x="103.24" y="263.77" width="1.40" height="1.40" fill="#5cf03e"/>
<rect x="119.00" y="236.62" width="1.40" height="1.40" fill="#5cf03e"/>
<rect x="116.20" y="238.39" width="1.40" height="1.40" fill="#5cf03e"/>
<rect x="123.91" y="255.29" width="1.40" height="1.40" fill="#5cf03e"/>
<rect x="142.16" y="264.71" width="1.40" height="1.40" fill="#5cf03e"/>
<rect x="121.44" y="252.78" width="1.40" height="1.40" fill="#5cf03e"/>
<rect x="119.44" y="248.34" width="1.40" height="1.40" fill="#5cf03e"/>
<rect x="140.89" y="272.48" width="1.40" height="1.40" fill="#5cf03e"/>
<rect x="61.17" y="235.08" width="1.40" height="1.40" fill="#5cf03e"/>
<rect x="107.96" y="243.54" width="1.40" height="1.40" fill="#5cf03e"/>
<rect x="92.13" y="242.06" width="1.40" height="1.40" fill="#5cf03e"/>
<rect x="129.72" y="236.67" width="1.40" height="1.40" fill="#5cf03e"/>
<rect x="126.59" y="239.25" width="1.40" height="1.40" fill="#5cf03e"/>
<rect x="95.22" y="257.80" width="1.40" height="1.40" fill="#5cf03e"/>
<rect x="78.36" y="211.92" width="1.40" height="1.40" fill="#5cf03e"/>
<rect x="107.33" y="260.80" width="1.40" height="1.40" fill="#5cf03e"/>
<rect x="138.30" y="239.43" width="1.40" height="1.40" fill="#5cf03e"/>
<rect x="76.71" y="254.75" width="1.40" height="1.40" fill="#5cf03e"/>
<rect x="118.87" y="240.43" width="1.40" height="1.40" fill="#5cf03e"/>
<rect x="124.35" y="232.45" width="1.40" height="1.40" fill="#5cf03e"/>
<rect x="118.51" y="249.19" width="1.40" height="1.40" fill="#5cf03e"/>
<rect x="118.64" y="258.29" width="1.40" height="1.40" fill="#5cf03e"/>
<rect x="144.41" y="268.30" width="1.40" height="1.40" fill="#5cf03e"/>
<rect x="53.97" y="260.53" width="1.40" height="1.40" fill="#5cf03e"/>
<rect x="111.90" y="275.78" width="1.40" height="1.40" fill="#5cf03e"/>
<rect x="51.42" y="237.54" width="1.40" height="1.40" fill="#5cf03e"/>
<rect x="131.04" y="247.47" width="1.40" height="1.40" fill="#5cf03e"/>
<rect x="134.06" y="239.45" width="1.40" height="1.40" fill="#5cf03e"/>
<rect x="125.04" y="254.39" width="1.40" height="1.40" fill="#5cf03e"/>
<rect x="139.55" y="237.26" width="1.40" height="1.40" fill="#5cf03e"/>
<rect x="115.26" y="266.34" width="1.40" height="1.40" fill="#5cf03e"/>
<rect x="125.87" y="233.03" width="1.40" height="1.40" fill="#5cf03e"/>
<rect x="104.24" y="264.31" width="1.40" height="1.40" fill="#5cf03e"/>
<rect x="69.81" y="224.21" width="1.40" height="1.40" fill="#5cf03e"/>
<rect x="132.70" y="252.88" width="1.40" height="1.40" fill="#5cf03e"/>
<rect x="144.46" y="271.33" width="1.40" height="1.40" fill="#5cf03e"/>
<rect x="107.97" y="263.69" width="1.40" height="1.40" fill="#5cf03e"/>
<rect x="98.73" y="272.09" width="1.40" height="1.40" fill="#5cf03e"/>
<rect x="122.39" y="262.38" width="1.40" height="1.40" fill="#5cf03e"/>
<rect x="110.27" y="255.92" width="1.40" height="1.40" fill="#5cf03e"/>
<rect x="111.07" y="244.38" width="1.40" height="1.40" fill="#5cf03e"/>
<rect x="96.83" y="236.53" width="1.40" height="1.40" fill="#5cf03e"/>
<rect x="133.18" y="251.14" width="1.40" height="1.40" fill="#5cf03e"/>
<rect x="110.21" y="245.00" width="1.40" height="1.40" fill="#5cf03e"/>
<rect x="130.82" y="258.85" width="1.40" height="1.40" fill="#5cf03e"/>
<rect x="125.26" y="250.69" width="1.40" height="1.40" fill="#5cf03e"/>
<rect x="87.05" y="239.52" width="1.40" height="1.40" fill="#5cf03e"/>
<rect x="145.04" y="266.16" width="1.40" height="1.40" fill="#5cf03e"/>
<rect x="131.44" y="233.57" width="1.40" height="1.40" fill="#5cf03e"/>
<rect x="109.98" y="263.51" width="1.40" height="1.40" fill="#5cf03e"/>
<rect x="40.25" y="251.20" width="1.40" height="1.40" fill="#5cf03e"/>
<rect x="133.92" y="272.01" width="1.40" height="1.40" fill="#5cf03e"/>
<rect x="128.44" y="254.62" width="1.40" height="1.40" fill="#5cf03e"/>
<rect x="109.78" y="266.33" width="1.40" height="1.40" fill="#5cf03e"/>
<rect x="118.91" y="253.75" width="1.40" height="1.40" fill="#5cf03e"/>
<rect x="63.97" y="252.64" width="1.40" height="1.40" fill="#5cf03e"/>
<rect x="66.12" y="242.59" width="1.40" height="1.40" fill="#5cf03e"/>
<rect x="70.44" y="246.07" width="1.40" height="1.40" fill="#5cf03e"/>
<rect x="142.86" y="263.77" width="1.40" height="1.40" fill="#5cf03e"/>
<rect x="108.68" y="233.06" width="1.40" height="1.40" fill="#5cf03e"/>
<rect x="68.54" y="266.70" width="1.40" height="1.40" fill="#5cf03e"/>
<rect x="141.85" y="270.32" width="1.40" height="1.40" fill="#5cf03e"/>
<rect x="128.08" y="270.55" width="1.40" height="1.40" fill="#5cf03e"/>
<rect x="105.83" y="262.56" width="1.40" height="1.40" fill="#5cf03e"/>
<rect x="125.63" y="266.80" width="1.40" height="1.40" fill="#5cf03e"/>
<rect x="139.87" y="264.62" width="1.40" height="1.40" fill="#5cf03e"/>
<rect x="63.06" y="252.00" width="1.40" height="1.40" fill="#5cf03e"/>
<rect x="106.52" y="246.67" width="1.40" height="1.40" fill="#5cf03e"/>
<rect x="115.98" y="255.51" width="1.40" height="1.40" fill="#5cf03e"/>
<rect x="135.18" y="245.13" width="1.40" height="1.40" fill="#5cf03e"/>
<rect x="144.56" y="229.97" width="1.40" height="1.40" fill="#5cf03e"/>
<rect x="133.25" y="247.59" width="1.40" height="1.40" fill="#5cf03e"/>
<rect x="39.69" y="254.87" width="1.40" height="1.40" fill="#5cf03e"/>
<rect x="83.06" y="251.17" width="1.40" height="1.40" fill="#5cf03e"/>
<rect x="116.38" y="277.62" width="1.40" height="1.40" fill="#5cf03e"/>
<rect x="128.56" y="259.11" width="1.40" height="1.40" fill="#5cf03e"/>
<rect x="142.63" y="272.75" width="1.40" height="1.40" fill="#5cf03e"/>
<rect x="128.41" y="258.08" width="1.40" height="1.40" fill="#5cf03e"/>
<rect x="78.33" y="224.21" width="1.40" height="1.40" fill="#5cf03e"/>
<rect x="87.68" y="257.74" width="1.40" height="1.40" fill="#5cf03e"/>
<rect x="133.61" y="250.09" width="1.40" height="1.40" fill="#5cf03e"/>
<rect x="124.06" y="241.57" width="1.40" height="1.40" fill="#5cf03e"/>
<rect x="85.90" y="238.67" width="1.40" height="1.40" fill="#5cf03e"/>
<rect x="118.39" y="249.47" width="1.40" height="1.40" fill="#5cf03e"/>
<rect x="59.47" y="257.67" width="1.40" height="1.40" fill="#5cf03e"/>
<rect x="61.25" y="238.98" width="1.40" height="1.40" fill="#5cf03e"/>
<rect x="136.19" y="234.36" width="1.40" height="1.40" fill="#5cf03e"/>
<rect x="103.63" y="238.09" width="1.40" height="1.40" fill="#5cf03e"/>
<rect x="135.04" y="264.10" width="1.40" height="1.40" fill="#5cf03e"/>
<rect x="128.65" y="248.86" width="1.40" height="1.40" fill="#5cf03e"/>
<rect x="141.93" y="229.71" width="1.40" height="1.40" fill="#5cf03e"/>
<rect x="128.47" y="240.22" width="1.40" height="1.40" fill="#5cf03e"/>
<rect x="120.23" y="257.54" width="1.40" height="1.40" fill="#5cf03e"/>
<rect x="126.22" y="260.06" width="1.40" height="1.40" fill="#5cf03e"/>
<rect x="127.19" y="242.44" width="1.40" height="1.40" fill="#5cf03e"/>
<rect x="132.56" y="255.97" width="1.40" height="1.40" fill="#5cf03e"/>
<rect x="94.25" y="247.10" width="1.40" height="1.40" fill="#5cf03e"/>
<rect x="84.86" y="255.24" width="1.40" height="1.40" fill="#5cf03e"/>
<rect x="133.87" y="242.77" width="1.40" height="1.40" fill="#5cf03e"/>
<rect x="94.89" y="253.44" width="1.40" height="1.40" fill="#5cf03e"/>
<rect x="109.01" y="267.84" width="1.40" height="1.40" fill="#5cf03e"/>
<rect x="73.78" y="261.24" width="1.40" height="1.40" fill="#5cf03e"/>
<rect x="103.72" y="232.06" width="1.40" height="1.40" fill="#5cf03e"/>
<rect x="133.08" y="280.06" width="1.40" height="1.40" fill="#5cf03e"/>
<rect x="106.32" y="236.87" width="1.40" height="1.40" fill="#5cf03e"/>
<rect x="116.49" y="237.40" width="1.40" height="1.40" fill="#5cf03e"/>
<rect x="125.85" y="249.40" width="1.40" height="1.40" fill="#5cf03e"/>
<rect x="69.20" y="237.49" width="1.40" height="1.40" fill="#5cf03e"/>
<rect x="135.26" y="261.38" width="1.40" height="1.40" fill="#5cf03e"/>
<rect x="127.09" y="261.42" width="1.40" height="1.40" fill="#5cf03e"/>
<rect x="98.84" y="248.32" width="1.40" height="1.40" fill="#5cf03e"/>
<rect x="89.78" y="252.53" width="1.40" height="1.40" fill="#5cf03e"/>
<rect x="114.21" y="228.06" width="1.40" height="1.40" fill="#5cf03e"/>
<rect x="75.60" y="254.75" width="1.40" height="1.40" fill="#5cf03e"/>
<rect x="55.54" y="233.00" width="1.40" height="1.40" fill="#5cf03e"/>
<rect x="133.19" y="250.71" width="1.40" height="1.40" fill="#5cf03e"/>
<rect x="110.94" y="256.43" width="1.40" height="1.40" fill="#5cf03e"/>
<rect x="47.20" y="241.00" width="1.40" height="1.40" fill="#5cf03e"/>
<rect x="142.69" y="278.93" width="1.40" height="1.40" fill="#5cf03e"/>
<rect x="58.87" y="243.02" width="1.40" height="1.40" fill="#5cf03e"/>
<rect x="104.72" y="255.03" width="1.40" height="1.40" fill="#5cf03e"/>
<rect x="88.76" y="263.60" width="1.40" height="1.40" fill="#5cf03e"/>
<rect x="123.36" y="242.87" width="1.40" height="1.40" fill="#5cf03e"/>
<rect x="138.94" y="272.34" width="1.40" height="1.40" fill="#5cf03e"/>
<rect x="97.69" y="241.64" width="1.40" height="1.40" fill="#5cf03e"/>
<rect x="109.21" y="257.21" width="1.40" height="1.40" fill="#5cf03e"/>
<rect x="122.72" y="267.64" width="1.40" height="1.40" fill="#5cf03e"/>
<rect x="107.70" y="253.87" width="1.40" height="1.40" fill="#5cf03e"/>
<rect x="81.80" y="243.39" width="1.40" height="1.40" fill="#5cf03e"/>
<rect x="124.04" y="251.60" width="1.40" height="1.40" fill="#5cf03e"/>
<rect x="135.55" y="234.89" width="1.40" height="1.40" fill="#5cf03e"/>
<rect x="137.89" y="232.87" width="1.40" height="1.40" fill="#5cf03e"/>
<rect x="106.34" y="236.55" width="1.40" height="1.40" fill="#5cf03e"/>
<rect x="122.40" y="253.48" width="1.40" height="1.40" fill="#5cf03e"/>
<rect x="116.12" y="264.63" width="1.40" height="1.40" fill="#5cf03e"/>
<rect x="52.80" y="269.37" width="1.40" height="1.40" fill="#5cf03e"/>
<rect x="135.04" y="253.46" width="1.40" height="1.40" fill="#5cf03e"/>
<rect x="129.30" y="240.74" width="1.40" height="1.40" fill="#5cf03e"/>
<rect x="134.52" y="260.60" width="1.40" height="1.40" fill="#5cf03e"/>
<rect x="116.06" y="262.74" width="1.40" height="1.40" fill="#5cf03e"/>
<rect x="130.24" y="254.87" width="1.40" height="1.40" fill="#5cf03e"/>
<rect x="106.90" y="233.69" width="1.40" height="1.40" fill="#5cf03e"/>
<rect x="68.36" y="249.54" width="1.40" height="1.40" fill="#5cf03e"/>
<rect x="124.83" y="246.60" width="1.40" height="1.40" fill="#5cf03e"/>
<rect x="135.49" y="226.92" width="1.40" height="1.40" fill="#5cf03e"/>
<rect x="123.29" y="237.57" width="1.40" height="1.40" fill="#5cf03e"/>
<rect x="114.00" y="249.82" width="1.40" height="1.40" fill="#5cf03e"/>
<rect x="111.45" y="256.43" width="1.40" height="1.40" fill="#5cf03e"/>
<rect x="76.01" y="259.31" width="1.40" height="1.40" fill="#5cf03e"/>
<rect x="126.24" y="263.17" width="1.40" height="1.40" fill="#5cf03e"/>
<rect x="119.44" y="265.14" width="1.40" height="1.40" fill="#5cf03e"/>
<rect x="93.80" y="256.69" width="1.40" height="1.40" fill="#5cf03e"/>
<rect x="106.61" y="264.56" width="1.40" height="1.40" fill="#5cf03e"/>
<rect x="94.17" y="266.29" width="1.40" height="1.40" fill="#5cf03e"/>
<rect x="114.33" y="251.22" width="1.40" height="1.40" fill="#5cf03e"/>
<rect x="143.50" y="265.39" width="1.40" height="1.40" fill="#5cf03e"/>
<rect x="114.48" y="246.50" width="1.40" height="1.40" fill="#5cf03e"/>
<rect x="127.72" y="234.94" width="1.40" height="1.40" fill="#5cf03e"/>
<rect x="107.01" y="241.41" width="1.40" height="1.40" fill="#5cf03e"/>
<rect x="101.33" y="257.19" width="1.40" height="1.40" fill="#5cf03e"/>
<rect x="127.96" y="240.90" width="1.40" height="1.40" fill="#5cf03e"/>
<rect x="125.37" y="280.71" width="1.40" height="1.40" fill="#5cf03e"/>
<rect x="91.94" y="266.99" width="1.40" height="1.40" fill="#5cf03e"/>
<rect x="123.72" y="234.13" width="1.40" height="1.40" fill="#5cf03e"/>
<rect x="127.76" y="266.82" width="1.40" height="1.40" fill="#5cf03e"/>
<rect x="130.76" y="283.04" width="1.40" height="1.40" fill="#5cf03e"/>
<rect x="107.86" y="251.23" width="1.40" height="1.40" fill="#5cf03e"/>
<rect x="82.92" y="242.72" width="1.40" height="1.40" fill="#5cf03e"/>
<rect x="106.89" y="254.21" width="1.40" height="1.40" fill="#5cf03e"/>
<rect x="124.50" y="250.98" width="1.40" height="1.40" fill="#5cf03e"/>
<rect x="107.35" y="241.07" width="1.40" height="1.40" fill="#5cf03e"/>
<rect x="128.19" y="252.60" width="1.40" height="1.40" fill="#5cf03e"/>
<rect x="47.91" y="237.07" width="1.40" height="1.40" fill="#5cf03e"/>
<rect x="62.12" y="247.64" width="1.40" height="1.40" fill="#5cf03e"/>
<rect x="83.99" y="251.94" width="1.40" height="1.40" fill="#5cf03e"/>
<rect x="124.41" y="257.91" width="1.40" height="1.40" fill="#5cf03e"/>
<rect x="131.76" y="241.75" width="1.40" height="1.40" fill="#5cf03e"/>
<rect x="128.96" y="275.51" width="1.40" height="1.40" fill="#5cf03e"/>
<rect x="132.11" y="248.56" width="1.40" height="1.40" fill="#5cf03e"/>
<rect x="145.38" y="232.92" width="1.40" height="1.40" fill="#5cf03e"/>
<rect x="143.57" y="277.67" width="1.40" height="1.40" fill="#5cf03e"/>
<rect x="134.01" y="230.97" width="1.40" height="1.40" fill="#5cf03e"/>
<rect x="83.57" y="253.63" width="1.40" height="1.40" fill="#5cf03e"/>
<rect x="136.04" y="265.05" width="1.40" height="1.40" fill="#5cf03e"/>
<rect x="126.94" y="244.92" width="1.40" height="1.40" fill="#5cf03e"/>
<rect x="134.53" y="262.54" width="1.40" height="1.40" fill="#5cf03e"/>
<rect x="124.22" y="258.80" width="1.40" height="1.40" fill="#5cf03e"/>
<rect x="118.14" y="250.18" width="1.40" height="1.40" fill="#5cf03e"/>
<rect x="68.73" y="248.89" width="1.40" height="1.40" fill="#5cf03e"/>
<rect x="88.36" y="257.91" width="1.40" height="1.40" fill="#5cf03e"/>
<rect x="129.96" y="260.18" width="1.40" height="1.40" fill="#5cf03e"/>
<rect x="104.09" y="251.32" width="1.40" height="1.40" fill="#5cf03e"/>
<rect x="135.66" y="233.60" width="1.40" height="1.40" fill="#5cf03e"/>
<rect x="103.98" y="230.61" width="1.40" height="1.40" fill="#5cf03e"/>
<rect x="70.23" y="260.95" width="1.40" height="1.40" fill="#5cf03e"/>
<rect x="131.34" y="256.51" width="1.40" height="1.40" fill="#5cf03e"/>
<rect x="116.90" y="246.26" width="1.40" height="1.40" fill="#5cf03e"/>
<rect x="71.67" y="225.25" width="1.40" height="1.40" fill="#5cf03e"/>
<rect x="111.83" y="250.58" width="1.40" height="1.40" fill="#5cf03e"/>
<rect x="132.54" y="242.79" width="1.40" height="1.40" fill="#5cf03e"/>
<rect x="123.74" y="261.82" width="1.40" height="1.40" fill="#5cf03e"/>
<rect x="75.77" y="231.59" width="1.40" height="1.40" fill="#5cf03e"/>
<rect x="123.39" y="252.63" width="1.40" height="1.40" fill="#5cf03e"/>
<rect x="136.17" y="266.63" width="1.40" height="1.40" fill="#5cf03e"/>
<rect x="98.60" y="241.17" width="1.40" height="1.40" fill="#5cf03e"/>
<rect x="129.80" y="258.56" width="1.40" height="1.40" fill="#5cf03e"/>
<rect x="131.47" y="236.64" width="1.40" height="1.40" fill="#5cf03e"/>
<rect x="134.79" y="249.20" width="1.40" height="1.40" fill="#5cf03e"/>
<rect x="110.00" y="254.16" width="1.40" height="1.40" fill="#5cf03e"/>
<rect x="55.19" y="268.26" width="1.40" height="1.40" fill="#5cf03e"/>
<rect x="41.87" y="215.30" width="1.40" height="1.40" fill="#5cf03e"/>
<rect x="127.18" y="260.23" width="1.40" height="1.40" fill="#5cf03e"/>
<rect x="135.22" y="259.29" width="1.40" height="1.40" fill="#5cf03e"/>
<rect x="109.40" y="254.97" width="1.40" height="1.40" fill="#5cf03e"/>
<rect x="125.01" y="265.85" width="1.40" height="1.40" fill="#5cf03e"/>
<rect x="145.72" y="280.65" width="1.40" height="1.40" fill="#5cf03e"/>
<rect x="135.67" y="244.76" width="1.40" height="1.40" fill="#5cf03e"/>
<rect x="87.66" y="269.91" width="1.40" height="1.40" fill="#5cf03e"/>
<rect x="121.59" y="247.61" width="1.40" height="1.40" fill="#5cf03e"/>
<rect x="40.73" y="236.69" width="1.40" height="1.40" fill="#5cf03e"/>
<rect x="40.84" y="258.92" width="1.40" height="1.40" fill="#5cf03e"/>
<rect x="124.51" y="263.73" width="1.40" height="1.40" fill="#5cf03e"/>
<rect x="95.05" y="245.02" width="1.40" height="1.40" fill="#5cf03e"/>
<rect x="81.52" y="205.71" width="1.40" height="1.40" fill="#5cf03e"/>
<rect x="133.48" y="227.45" width="1.40" height="1.40" fill="#5cf03e"/>
<rect x="137.86" y="235.73" width="1.40" height="1.40" fill="#5cf03e"/>
<rect x="108.18" y="254.35" width="1.40" height="1.40" fill="#5cf03e"/>
<rect x="110.79" y="258.61" width="1.40" height="1.40" fill="#5cf03e"/>
<rect x="135.09" y="249.30" width="1.40" height="1.40" fill="#5cf03e"/>
<rect x="87.21" y="271.25" width="1.40" height="1.40" fill="#5cf03e"/>
<rect x="99.65" y="280.16" width="1.40" height="1.40" fill="#5cf03e"/>
<rect x="120.16" y="245.54" width="1.40" height="1.40" fill="#5cf03e"/>
<rect x="144.14" y="267.64" width="1.40" height="1.40" fill="#5cf03e"/>
<rect x="108.83" y="277.64" width="1.40" height="1.40" fill="#5cf03e"/>
<rect x="139.10" y="265.32" width="1.40" height="1.40" fill="#5cf03e"/>
<rect x="48.73" y="262.79" width="1.40" height="1.40" fill="#5cf03e"/>
<rect x="145.75" y="272.37" width="1.40" height="1.40" fill="#5cf03e"/>
<rect x="116.28" y="237.01" width="1.40" height="1.40" fill="#5cf03e"/>
<rect x="87.89" y="256.09" width="1.40" height="1.40" fill="#5cf03e"/>
<rect x="82.22" y="263.77" width="1.40" height="1.40" fill="#5cf03e"/>
<rect x="81.87" y="270.23" width="1.40" height="1.40" fill="#5cf03e"/>
<rect x="143.00" y="264.71" width="1.40" height="1.40" fill="#5cf03e"/>
<rect x="101.31" y="268.42" width="1.40" height="1.40" fill="#5cf03e"/>
<rect x="108.17" y="251.92" width="1.40" height="1.40" fill="#5cf03e"/>
<rect x="128.99" y="246.77" width="1.40" height="1.40" fill="#5cf03e"/>
<rect x="65.36" y="260.84" width="1.40" height="1.40" fill="#5cf03e"/>
<rect x="110.91" y="247.62" width="1.40" height="1.40" fill="#5cf03e"/>
<rect x="124.95" y="251.82" width="1.40" height="1.40" fill="#5cf03e"/>
<rect x="106.66" y="249.82" width="1.40" height="1.40" fill="#5cf03e"/>
<rect x="142.44" y="236.41" width="1.40" height="1.40" fill="#5cf03e"/>
<rect x="98.03" y="276.99" width="1.40" height="1.40" fill="#5cf03e"/>
<rect x="124.78" y="256.19" width="1.40" height="1.40" fill="#5cf03e"/>
<rect x="95.89" y="280.49" width="1.40" height="1.40" fill="#5cf03e"/>
<rect x="100.08" y="241.95" width="1.40" height="1.40" fill="#5cf03e"/>
<rect x="53.09" y="234.44" width="1.40" height="1.40" fill="#5cf03e"/>
<rect x="130.16" y="244.15" width="1.40" height="1.40" fill="#5cf03e"/>
<rect x="119.65" y="255.14" width="1.40" height="1.40" fill="#5cf03e"/>
<rect x="89.68" y="248.87" width="1.40" height="1.40" fill="#5cf03e"/>
<rect x="110.88" y="257.70" width="1.40" height="1.40" fill="#5cf03e"/>
<rect x="85.13" y="256.76" width="1.40" height="1.40" fill="#5cf03e"/>
<rect x="39.29" y="260.45" width="1.40" height="1.40" fill="#5cf03e"/>
<rect x="131.90" y="238.17" width="1.40" height="1.40" fill="#5cf03e"/>
<rect x="131.33" y="258.44" width="1.40" height="1.40" fill="#5cf03e"/>
<rect x="114.64" y="248.11" width="1.40" height="1.40" fill="#5cf03e"/>
<rect x="112.90" y="272.54" width="1.40" height="1.40" fill="#5cf03e"/>
<rect x="47.50" y="263.32" width="1.40" height="1.40" fill="#5cf03e"/>
<rect x="106.21" y="266.91" width="1.40" height="1.40" fill="#5cf03e"/>
<rect x="138.96" y="265.07" width="1.40" height="1.40" fill="#5cf03e"/>
<rect x="105.79" y="230.72" width="1.40" height="1.40" fill="#5cf03e"/>
<rect x="127.17" y="217.84" width="1.40" height="1.40" fill="#5cf03e"/>
<rect x="123.73" y="243.06" width="1.40" height="1.40" fill="#5cf03e"/>
<line x1="35.50" y1="201.20" x2="35.50" y2="300.85" stroke="#111" stroke-width="1.2"/>
<line x1="34.90" y1="300.35" x2="152.00" y2="300.35" stroke="#111" stroke-width="1.2"/>
<line x1="32.80" y1="294.45" x2="35.50" y2="294.45" stroke="#111" stroke-width="0.9"/>
<text transform="translate(29.40,296.80)" font-size="6.0" text-anchor="end" fill="#222" font-weight="normal" stroke="#222" stroke-width="0.12">-8</text>
<line x1="32.80" y1="284.00" x2="35.50" y2="284.00" stroke="#111" stroke-width="0.9"/>
<text transform="translate(29.40,286.35)" font-size="6.0" text-anchor="end" fill="#222" font-weight="normal" stroke="#222" stroke-width="0.12">-6</text>
<line x1="32.80" y1="273.55" x2="35.50" y2="273.55" stroke="#111" stroke-width="0.9"/>
<text transform="translate(29.40,275.90)" font-size="6.0" text-anchor="end" fill="#222" font-weight="normal" stroke="#222" stroke-width="0.12">-4</text>
<line x1="32.80" y1="263.10" x2="35.50" y2="263.10" stroke="#111" stroke-width="0.9"/>
<text transform="translate(29.40,265.45)" font-size="6.0" text-anchor="end" fill="#222" font-weight="normal" stroke="#222" stroke-width="0.12">-2</text>
<line x1="32.80" y1="252.65" x2="35.50" y2="252.65" stroke="#111" stroke-width="0.9"/>
<text transform="translate(29.40,255.00)" font-size="6.0" text-anchor="end" fill="#222" font-weight="normal" stroke="#222" stroke-width="0.12">0</text>
<line x1="32.80" y1="242.20" x2="35.50" y2="242.20" stroke="#111" stroke-width="0.9"/>
<text transform="translate(29.40,244.55)" font-size="6.0" text-anchor="end" fill="#222" font-weight="normal" stroke="#222" stroke-width="0.12">2</text>
<line x1="32.80" y1="231.75" x2="35.50" y2="231.75" stroke="#111" stroke-width="0.9"/>
<text transform="translate(29.40,234.10)" font-size="6.0" text-anchor="end" fill="#222" font-weight="normal" stroke="#222" stroke-width="0.12">4</text>
<line x1="32.80" y1="221.30" x2="35.50" y2="221.30" stroke="#111" stroke-width="0.9"/>
<text transform="translate(29.40,223.65)" font-size="6.0" text-anchor="end" fill="#222" font-weight="normal" stroke="#222" stroke-width="0.12">6</text>
<line x1="32.80" y1="210.85" x2="35.50" y2="210.85" stroke="#111" stroke-width="0.9"/>
<text transform="translate(29.40,213.20)" font-size="6.0" text-anchor="end" fill="#222" font-weight="normal" stroke="#222" stroke-width="0.12">8</text>
<line x1="38.80" y1="300.35" x2="38.80" y2="303.05" stroke="#111" stroke-width="0.9"/>
<text transform="translate(38.80,312.30)" font-size="6.0" text-anchor="middle" fill="#222" font-weight="normal" stroke="#222" stroke-width="0.12">-1</text>
<line x1="66.20" y1="300.35" x2="66.20" y2="303.05" stroke="#111" stroke-width="0.9"/>
<text transform="translate(66.20,312.30)" font-size="6.0" text-anchor="middle" fill="#222" font-weight="normal" stroke="#222" stroke-width="0.12">-0.5</text>
<line x1="93.60" y1="300.35" x2="93.60" y2="303.05" stroke="#111" stroke-width="0.9"/>
<text transform="translate(93.60,312.30)" font-size="6.0" text-anchor="middle" fill="#222" font-weight="normal" stroke="#222" stroke-width="0.12">0</text>
<line x1="121.00" y1="300.35" x2="121.00" y2="303.05" stroke="#111" stroke-width="0.9"/>
<text transform="translate(121.00,312.30)" font-size="6.0" text-anchor="middle" fill="#222" font-weight="normal" stroke="#222" stroke-width="0.12">0.5</text>
<line x1="148.40" y1="300.35" x2="148.40" y2="303.05" stroke="#111" stroke-width="0.9"/>
<text transform="translate(148.40,312.30)" font-size="6.0" text-anchor="middle" fill="#222" font-weight="normal" stroke="#222" stroke-width="0.12">1</text>
<text transform="translate(93.50,323.70)" font-size="8.6" text-anchor="middle" fill="#222" font-weight="normal" textLength="103.9" lengthAdjust="spacingAndGlyphs" stroke="#222" stroke-width="0.16">Expression pattern (Pearson correlation)</text>
<text transform="translate(18.90,251.00) rotate(-90)" font-size="8.6" text-anchor="middle" fill="#222" font-weight="normal" textLength="106.3" lengthAdjust="spacingAndGlyphs" stroke="#222" stroke-width="0.16">Relative expression level (murine/human)</text>
<rect x="104.20" y="198.30" width="19.50" height="4.10" fill="url(#dbar)"/>
<text transform="translate(105.50,197.00)" font-size="6.0" text-anchor="middle" fill="#222" font-weight="normal" stroke="#222" stroke-width="0.12">0</text>
<text transform="translate(121.90,197.00)" font-size="6.0" text-anchor="middle" fill="#222" font-weight="normal" stroke="#222" stroke-width="0.12">1</text>
<text transform="translate(114.20,210.80)" font-size="8.8" text-anchor="middle" fill="#111" font-weight="normal" textLength="19.5" lengthAdjust="spacingAndGlyphs" stroke="#111" stroke-width="0.3">Density</text>
<circle cx="145.90" cy="238.30" r="1.0" fill="#111" stroke="#fff" stroke-width="0.5"/>
<text transform="translate(143.50,237.80) scale(0.82,1)" font-size="6.4" text-anchor="end" fill="#111" font-weight="normal" stroke="#111" stroke-width="0.15">Zfpm1</text>
<circle cx="122.30" cy="243.70" r="1.0" fill="#111" stroke="#fff" stroke-width="0.5"/>
<text transform="translate(119.40,243.40) scale(0.82,1)" font-size="6.4" text-anchor="end" fill="#111" font-weight="normal" stroke="#111" stroke-width="0.15">Tal1</text>
<circle cx="147.20" cy="249.50" r="1.0" fill="#111" stroke="#fff" stroke-width="0.5"/>
<text transform="translate(150.20,249.60) scale(0.82,1)" font-size="6.4" text-anchor="start" fill="#111" font-weight="normal" stroke="#111" stroke-width="0.15">Gata1</text>
<circle cx="142.50" cy="256.20" r="1.0" fill="#111" stroke="#fff" stroke-width="0.5"/>
<text transform="translate(139.50,253.00) scale(0.82,1)" font-size="6.4" text-anchor="end" fill="#111" font-weight="normal" stroke="#111" stroke-width="0.15">Slc4a1</text>
<circle cx="147.20" cy="254.00" r="1.0" fill="#111" stroke="#fff" stroke-width="0.5"/>
<text transform="translate(150.20,257.70) scale(0.82,1)" font-size="6.4" text-anchor="start" fill="#111" font-weight="normal" stroke="#111" stroke-width="0.15">Itga4</text>
<circle cx="130.70" cy="256.60" r="1.0" fill="#111" stroke="#fff" stroke-width="0.5"/>
<text transform="translate(127.50,258.60) scale(0.82,1)" font-size="6.4" text-anchor="end" fill="#111" font-weight="normal" stroke="#111" stroke-width="0.15">Gypa</text>
<circle cx="145.50" cy="260.30" r="1.0" fill="#111" stroke="#fff" stroke-width="0.5"/>
<text transform="translate(150.20,263.00) scale(0.82,1)" font-size="6.4" text-anchor="start" fill="#111" font-weight="normal" stroke="#111" stroke-width="0.15">Tfrc</text>
<circle cx="144.50" cy="262.30" r="1.0" fill="#111" stroke="#fff" stroke-width="0.5"/>
<text transform="translate(143.60,269.00) scale(0.82,1)" font-size="6.4" text-anchor="start" fill="#111" font-weight="normal" stroke="#111" stroke-width="0.15">CD44</text>
<circle cx="129.00" cy="263.90" r="1.0" fill="#111" stroke="#fff" stroke-width="0.5"/>
<text transform="translate(127.50,266.30) scale(0.82,1)" font-size="6.4" text-anchor="end" fill="#111" font-weight="normal" stroke="#111" stroke-width="0.15">Kit</text>
<circle cx="123.30" cy="270.10" r="1.0" fill="#111" stroke="#fff" stroke-width="0.5"/>
<text transform="translate(122.00,275.30) scale(0.82,1)" font-size="6.4" text-anchor="end" fill="#111" font-weight="normal" stroke="#111" stroke-width="0.15">Klf1</text>
<line x1="202.90" y1="186.40" x2="202.90" y2="204.64" stroke="#8096c2" stroke-width="1.15"/>
<line x1="202.00" y1="186.40" x2="203.80" y2="186.40" stroke="#8096c2" stroke-width="0.8"/>
<line x1="202.00" y1="204.64" x2="203.80" y2="204.64" stroke="#8096c2" stroke-width="0.8"/>
<line x1="212.94" y1="195.52" x2="212.94" y2="215.87" stroke="#8096c2" stroke-width="1.15"/>
<line x1="212.04" y1="195.52" x2="213.84" y2="195.52" stroke="#8096c2" stroke-width="0.8"/>
<line x1="212.04" y1="215.87" x2="213.84" y2="215.87" stroke="#8096c2" stroke-width="0.8"/>
<line x1="222.98" y1="182.54" x2="222.98" y2="225.34" stroke="#8096c2" stroke-width="1.15"/>
<line x1="222.08" y1="182.54" x2="223.88" y2="182.54" stroke="#8096c2" stroke-width="0.8"/>
<line x1="222.08" y1="225.34" x2="223.88" y2="225.34" stroke="#8096c2" stroke-width="0.8"/>
<line x1="233.02" y1="209.90" x2="233.02" y2="222.88" stroke="#8096c2" stroke-width="1.15"/>
<line x1="232.12" y1="209.90" x2="233.92" y2="209.90" stroke="#8096c2" stroke-width="0.8"/>
<line x1="232.12" y1="222.88" x2="233.92" y2="222.88" stroke="#8096c2" stroke-width="0.8"/>
<line x1="243.06" y1="216.71" x2="243.06" y2="225.34" stroke="#8096c2" stroke-width="1.15"/>
<line x1="242.16" y1="216.71" x2="243.96" y2="216.71" stroke="#8096c2" stroke-width="0.8"/>
<line x1="242.16" y1="225.34" x2="243.96" y2="225.34" stroke="#8096c2" stroke-width="0.8"/>
<line x1="253.10" y1="216.71" x2="253.10" y2="227.20" stroke="#8096c2" stroke-width="1.15"/>
<line x1="252.20" y1="216.71" x2="254.00" y2="216.71" stroke="#8096c2" stroke-width="0.8"/>
<line x1="252.20" y1="227.20" x2="254.00" y2="227.20" stroke="#8096c2" stroke-width="0.8"/>
<line x1="202.90" y1="212.36" x2="202.90" y2="222.88" stroke="#d27487" stroke-width="1.15"/>
<line x1="202.00" y1="212.36" x2="203.80" y2="212.36" stroke="#d27487" stroke-width="0.8"/>
<line x1="202.00" y1="222.88" x2="203.80" y2="222.88" stroke="#d27487" stroke-width="0.8"/>
<line x1="212.94" y1="214.82" x2="212.94" y2="222.29" stroke="#d27487" stroke-width="1.15"/>
<line x1="212.04" y1="214.82" x2="213.84" y2="214.82" stroke="#d27487" stroke-width="0.8"/>
<line x1="212.04" y1="222.29" x2="213.84" y2="222.29" stroke="#d27487" stroke-width="0.8"/>
<line x1="222.98" y1="217.62" x2="222.98" y2="225.69" stroke="#d27487" stroke-width="1.15"/>
<line x1="222.08" y1="217.62" x2="223.88" y2="217.62" stroke="#d27487" stroke-width="0.8"/>
<line x1="222.08" y1="225.69" x2="223.88" y2="225.69" stroke="#d27487" stroke-width="0.8"/>
<line x1="233.02" y1="223.69" x2="233.02" y2="226.81" stroke="#d27487" stroke-width="1.15"/>
<line x1="232.12" y1="223.69" x2="233.92" y2="223.69" stroke="#d27487" stroke-width="0.8"/>
<line x1="232.12" y1="226.81" x2="233.92" y2="226.81" stroke="#d27487" stroke-width="0.8"/>
<line x1="243.06" y1="225.34" x2="243.06" y2="226.74" stroke="#d27487" stroke-width="1.15"/>
<line x1="242.16" y1="225.34" x2="243.96" y2="225.34" stroke="#d27487" stroke-width="0.8"/>
<line x1="242.16" y1="226.74" x2="243.96" y2="226.74" stroke="#d27487" stroke-width="0.8"/>
<line x1="253.10" y1="226.04" x2="253.10" y2="227.44" stroke="#d27487" stroke-width="1.15"/>
<line x1="252.20" y1="226.04" x2="254.00" y2="226.04" stroke="#d27487" stroke-width="0.8"/>
<line x1="252.20" y1="227.44" x2="254.00" y2="227.44" stroke="#d27487" stroke-width="0.8"/>
<polyline points="202.90,195.52 212.94,204.99 222.98,201.84 233.02,216.57 243.06,220.43 253.10,221.48" fill="none" stroke="#3a5a98" stroke-width="1.0" stroke-linejoin="round" stroke-dasharray="2.6,1.6"/>
<polyline points="202.90,217.27 212.94,217.97 222.98,221.48 233.02,224.99 243.06,226.04 253.10,226.74" fill="none" stroke="#b01f45" stroke-width="1.0" stroke-linejoin="round"/>
<rect x="202.20" y="194.82" width="1.40" height="1.40" fill="#3a5a98"/>
<rect x="212.24" y="204.29" width="1.40" height="1.40" fill="#3a5a98"/>
<rect x="222.28" y="201.14" width="1.40" height="1.40" fill="#3a5a98"/>
<rect x="232.32" y="215.87" width="1.40" height="1.40" fill="#3a5a98"/>
<rect x="242.36" y="219.73" width="1.40" height="1.40" fill="#3a5a98"/>
<rect x="252.40" y="220.78" width="1.40" height="1.40" fill="#3a5a98"/>
<rect x="202.10" y="216.47" width="1.60" height="1.60" fill="#b01f45"/>
<rect x="212.14" y="217.17" width="1.60" height="1.60" fill="#b01f45"/>
<rect x="222.18" y="220.68" width="1.60" height="1.60" fill="#b01f45"/>
<rect x="232.22" y="224.19" width="1.60" height="1.60" fill="#b01f45"/>
<rect x="242.26" y="225.24" width="1.60" height="1.60" fill="#b01f45"/>
<rect x="252.30" y="225.94" width="1.60" height="1.60" fill="#b01f45"/>
<line x1="200.00" y1="182.30" x2="200.00" y2="230.40" stroke="#111" stroke-width="1.2"/>
<line x1="199.40" y1="229.90" x2="255.80" y2="229.90" stroke="#111" stroke-width="1.2"/>
<line x1="197.50" y1="229.90" x2="200.00" y2="229.90" stroke="#111" stroke-width="0.9"/>
<text transform="translate(194.00,232.25)" font-size="6.0" text-anchor="end" fill="#222" font-weight="normal" stroke="#222" stroke-width="0.12">0</text>
<line x1="197.50" y1="215.87" x2="200.00" y2="215.87" stroke="#111" stroke-width="0.9"/>
<text transform="translate(194.00,218.22) scale(1.1,1)" font-size="6.0" text-anchor="end" fill="#222" font-weight="normal" stroke="#222" stroke-width="0.12">4E+4</text>
<line x1="197.50" y1="201.84" x2="200.00" y2="201.84" stroke="#111" stroke-width="0.9"/>
<text transform="translate(194.00,204.19) scale(1.1,1)" font-size="6.0" text-anchor="end" fill="#222" font-weight="normal" stroke="#222" stroke-width="0.12">8E+4</text>
<line x1="197.50" y1="187.80" x2="200.00" y2="187.80" stroke="#111" stroke-width="0.9"/>
<text transform="translate(194.00,190.15) scale(1.1,1)" font-size="6.0" text-anchor="end" fill="#222" font-weight="normal" stroke="#222" stroke-width="0.12">1.2E+5</text>
<line x1="198.50" y1="222.88" x2="200.00" y2="222.88" stroke="#111" stroke-width="0.7"/>
<line x1="198.50" y1="208.85" x2="200.00" y2="208.85" stroke="#111" stroke-width="0.7"/>
<line x1="198.50" y1="194.82" x2="200.00" y2="194.82" stroke="#111" stroke-width="0.7"/>
<line x1="202.90" y1="229.90" x2="202.90" y2="232.40" stroke="#111" stroke-width="0.9"/>
<text transform="translate(202.90,241.30)" font-size="5.9" text-anchor="middle" fill="#222" font-weight="normal" stroke="#222" stroke-width="0.12">1</text>
<line x1="212.94" y1="229.90" x2="212.94" y2="232.40" stroke="#111" stroke-width="0.9"/>
<text transform="translate(212.94,241.30)" font-size="5.9" text-anchor="middle" fill="#222" font-weight="normal" stroke="#222" stroke-width="0.12">2</text>
<line x1="222.98" y1="229.90" x2="222.98" y2="232.40" stroke="#111" stroke-width="0.9"/>
<text transform="translate(222.98,241.30)" font-size="5.9" text-anchor="middle" fill="#222" font-weight="normal" stroke="#222" stroke-width="0.12">3</text>
<line x1="233.02" y1="229.90" x2="233.02" y2="232.40" stroke="#111" stroke-width="0.9"/>
<text transform="translate(233.02,241.30)" font-size="5.9" text-anchor="middle" fill="#222" font-weight="normal" stroke="#222" stroke-width="0.12">4</text>
<line x1="243.06" y1="229.90" x2="243.06" y2="232.40" stroke="#111" stroke-width="0.9"/>
<text transform="translate(243.06,241.30)" font-size="5.9" text-anchor="middle" fill="#222" font-weight="normal" stroke="#222" stroke-width="0.12">5</text>
<line x1="253.10" y1="229.90" x2="253.10" y2="232.40" stroke="#111" stroke-width="0.9"/>
<text transform="translate(253.10,241.30)" font-size="5.9" text-anchor="middle" fill="#222" font-weight="normal" stroke="#222" stroke-width="0.12">6</text>
<text transform="translate(228.00,194.20) scale(0.88,1)" font-size="6.0" text-anchor="start" fill="#222" font-weight="normal" stroke="#222" stroke-width="0.12">Cd44</text>
<line x1="289.40" y1="191.43" x2="289.40" y2="197.46" stroke="#8096c2" stroke-width="1.15"/>
<line x1="288.50" y1="191.43" x2="290.30" y2="191.43" stroke="#8096c2" stroke-width="0.8"/>
<line x1="288.50" y1="197.46" x2="290.30" y2="197.46" stroke="#8096c2" stroke-width="0.8"/>
<line x1="299.14" y1="190.22" x2="299.14" y2="196.60" stroke="#8096c2" stroke-width="1.15"/>
<line x1="298.24" y1="190.22" x2="300.04" y2="190.22" stroke="#8096c2" stroke-width="0.8"/>
<line x1="298.24" y1="196.60" x2="300.04" y2="196.60" stroke="#8096c2" stroke-width="0.8"/>
<line x1="308.88" y1="190.57" x2="308.88" y2="209.62" stroke="#8096c2" stroke-width="1.15"/>
<line x1="307.98" y1="190.57" x2="309.78" y2="190.57" stroke="#8096c2" stroke-width="0.8"/>
<line x1="307.98" y1="209.62" x2="309.78" y2="209.62" stroke="#8096c2" stroke-width="0.8"/>
<line x1="318.62" y1="209.62" x2="318.62" y2="214.79" stroke="#8096c2" stroke-width="1.15"/>
<line x1="317.72" y1="209.62" x2="319.52" y2="209.62" stroke="#8096c2" stroke-width="0.8"/>
<line x1="317.72" y1="214.79" x2="319.52" y2="214.79" stroke="#8096c2" stroke-width="0.8"/>
<line x1="328.36" y1="212.20" x2="328.36" y2="222.63" stroke="#8096c2" stroke-width="1.15"/>
<line x1="327.46" y1="212.20" x2="329.26" y2="212.20" stroke="#8096c2" stroke-width="0.8"/>
<line x1="327.46" y1="222.63" x2="329.26" y2="222.63" stroke="#8096c2" stroke-width="0.8"/>
<line x1="338.10" y1="220.91" x2="338.10" y2="225.22" stroke="#8096c2" stroke-width="1.15"/>
<line x1="337.20" y1="220.91" x2="339.00" y2="220.91" stroke="#8096c2" stroke-width="0.8"/>
<line x1="337.20" y1="225.22" x2="339.00" y2="225.22" stroke="#8096c2" stroke-width="0.8"/>
<line x1="289.40" y1="184.01" x2="289.40" y2="216.51" stroke="#d27487" stroke-width="1.15"/>
<line x1="288.50" y1="184.01" x2="290.30" y2="184.01" stroke="#d27487" stroke-width="0.8"/>
<line x1="288.50" y1="216.51" x2="290.30" y2="216.51" stroke="#d27487" stroke-width="0.8"/>
<line x1="299.14" y1="195.82" x2="299.14" y2="208.67" stroke="#d27487" stroke-width="1.15"/>
<line x1="298.24" y1="195.82" x2="300.04" y2="195.82" stroke="#d27487" stroke-width="0.8"/>
<line x1="298.24" y1="208.67" x2="300.04" y2="208.67" stroke="#d27487" stroke-width="0.8"/>
<line x1="308.88" y1="202.72" x2="308.88" y2="209.62" stroke="#d27487" stroke-width="1.15"/>
<line x1="307.98" y1="202.72" x2="309.78" y2="202.72" stroke="#d27487" stroke-width="0.8"/>
<line x1="307.98" y1="209.62" x2="309.78" y2="209.62" stroke="#d27487" stroke-width="0.8"/>
<line x1="318.62" y1="207.03" x2="318.62" y2="215.74" stroke="#d27487" stroke-width="1.15"/>
<line x1="317.72" y1="207.03" x2="319.52" y2="207.03" stroke="#d27487" stroke-width="0.8"/>
<line x1="317.72" y1="215.74" x2="319.52" y2="215.74" stroke="#d27487" stroke-width="0.8"/>
<line x1="328.36" y1="208.67" x2="328.36" y2="219.96" stroke="#d27487" stroke-width="1.15"/>
<line x1="327.46" y1="208.67" x2="329.26" y2="208.67" stroke="#d27487" stroke-width="0.8"/>
<line x1="327.46" y1="219.96" x2="329.26" y2="219.96" stroke="#d27487" stroke-width="0.8"/>
<line x1="338.10" y1="219.96" x2="338.10" y2="224.27" stroke="#d27487" stroke-width="1.15"/>
<line x1="337.20" y1="219.96" x2="339.00" y2="219.96" stroke="#d27487" stroke-width="0.8"/>
<line x1="337.20" y1="224.27" x2="339.00" y2="224.27" stroke="#d27487" stroke-width="0.8"/>
<polyline points="289.40,194.36 299.14,193.06 308.88,200.39 318.62,212.46 328.36,217.63 338.10,223.67" fill="none" stroke="#3a5a98" stroke-width="1.0" stroke-linejoin="round" stroke-dasharray="2.6,1.6"/>
<polyline points="289.40,200.39 299.14,202.12 308.88,206.43 318.62,211.60 328.36,214.61 338.10,221.94" fill="none" stroke="#b01f45" stroke-width="1.0" stroke-linejoin="round"/>
<rect x="288.70" y="193.66" width="1.40" height="1.40" fill="#3a5a98"/>
<rect x="298.44" y="192.37" width="1.40" height="1.40" fill="#3a5a98"/>
<rect x="308.18" y="199.69" width="1.40" height="1.40" fill="#3a5a98"/>
<rect x="317.92" y="211.76" width="1.40" height="1.40" fill="#3a5a98"/>
<rect x="327.66" y="216.93" width="1.40" height="1.40" fill="#3a5a98"/>
<rect x="337.40" y="222.97" width="1.40" height="1.40" fill="#3a5a98"/>
<rect x="288.60" y="199.59" width="1.60" height="1.60" fill="#b01f45"/>
<rect x="298.34" y="201.32" width="1.60" height="1.60" fill="#b01f45"/>
<rect x="308.08" y="205.63" width="1.60" height="1.60" fill="#b01f45"/>
<rect x="317.82" y="210.80" width="1.60" height="1.60" fill="#b01f45"/>
<rect x="327.56" y="213.81" width="1.60" height="1.60" fill="#b01f45"/>
<rect x="337.30" y="221.14" width="1.60" height="1.60" fill="#b01f45"/>
<line x1="286.50" y1="183.30" x2="286.50" y2="230.20" stroke="#111" stroke-width="1.2"/>
<line x1="285.90" y1="229.70" x2="340.70" y2="229.70" stroke="#111" stroke-width="1.2"/>
<line x1="284.00" y1="229.70" x2="286.50" y2="229.70" stroke="#111" stroke-width="0.9"/>
<text transform="translate(280.50,232.05)" font-size="6.0" text-anchor="end" fill="#222" font-weight="normal" stroke="#222" stroke-width="0.12">0</text>
<line x1="284.00" y1="221.08" x2="286.50" y2="221.08" stroke="#111" stroke-width="0.9"/>
<text transform="translate(280.50,223.43) scale(1.1,1)" font-size="6.0" text-anchor="end" fill="#222" font-weight="normal" stroke="#222" stroke-width="0.12">1E+4</text>
<line x1="284.00" y1="212.46" x2="286.50" y2="212.46" stroke="#111" stroke-width="0.9"/>
<text transform="translate(280.50,214.81) scale(1.1,1)" font-size="6.0" text-anchor="end" fill="#222" font-weight="normal" stroke="#222" stroke-width="0.12">2E+4</text>
<line x1="284.00" y1="203.84" x2="286.50" y2="203.84" stroke="#111" stroke-width="0.9"/>
<text transform="translate(280.50,206.19) scale(1.1,1)" font-size="6.0" text-anchor="end" fill="#222" font-weight="normal" stroke="#222" stroke-width="0.12">3E+4</text>
<line x1="284.00" y1="195.22" x2="286.50" y2="195.22" stroke="#111" stroke-width="0.9"/>
<text transform="translate(280.50,197.57) scale(1.1,1)" font-size="6.0" text-anchor="end" fill="#222" font-weight="normal" stroke="#222" stroke-width="0.12">4E+4</text>
<line x1="284.00" y1="186.60" x2="286.50" y2="186.60" stroke="#111" stroke-width="0.9"/>
<text transform="translate(280.50,188.95) scale(1.1,1)" font-size="6.0" text-anchor="end" fill="#222" font-weight="normal" stroke="#222" stroke-width="0.12">5E+4</text>
<line x1="289.40" y1="229.70" x2="289.40" y2="232.20" stroke="#111" stroke-width="0.9"/>
<text transform="translate(289.40,241.10)" font-size="5.9" text-anchor="middle" fill="#222" font-weight="normal" stroke="#222" stroke-width="0.12">1</text>
<line x1="299.14" y1="229.70" x2="299.14" y2="232.20" stroke="#111" stroke-width="0.9"/>
<text transform="translate(299.14,241.10)" font-size="5.9" text-anchor="middle" fill="#222" font-weight="normal" stroke="#222" stroke-width="0.12">2</text>
<line x1="308.88" y1="229.70" x2="308.88" y2="232.20" stroke="#111" stroke-width="0.9"/>
<text transform="translate(308.88,241.10)" font-size="5.9" text-anchor="middle" fill="#222" font-weight="normal" stroke="#222" stroke-width="0.12">3</text>
<line x1="318.62" y1="229.70" x2="318.62" y2="232.20" stroke="#111" stroke-width="0.9"/>
<text transform="translate(318.62,241.10)" font-size="5.9" text-anchor="middle" fill="#222" font-weight="normal" stroke="#222" stroke-width="0.12">4</text>
<line x1="328.36" y1="229.70" x2="328.36" y2="232.20" stroke="#111" stroke-width="0.9"/>
<text transform="translate(328.36,241.10)" font-size="5.9" text-anchor="middle" fill="#222" font-weight="normal" stroke="#222" stroke-width="0.12">5</text>
<line x1="338.10" y1="229.70" x2="338.10" y2="232.20" stroke="#111" stroke-width="0.9"/>
<text transform="translate(338.10,241.10)" font-size="5.9" text-anchor="middle" fill="#222" font-weight="normal" stroke="#222" stroke-width="0.12">6</text>
<text transform="translate(314.70,194.20) scale(0.88,1)" font-size="6.0" text-anchor="start" fill="#222" font-weight="normal" stroke="#222" stroke-width="0.12">Itg4a</text>
<line x1="393.80" y1="223.45" x2="393.80" y2="225.52" stroke="#8096c2" stroke-width="1.15"/>
<line x1="392.90" y1="223.45" x2="394.70" y2="223.45" stroke="#8096c2" stroke-width="0.8"/>
<line x1="392.90" y1="225.52" x2="394.70" y2="225.52" stroke="#8096c2" stroke-width="0.8"/>
<line x1="403.50" y1="202.75" x2="403.50" y2="218.48" stroke="#8096c2" stroke-width="1.15"/>
<line x1="402.60" y1="202.75" x2="404.40" y2="202.75" stroke="#8096c2" stroke-width="0.8"/>
<line x1="402.60" y1="218.48" x2="404.40" y2="218.48" stroke="#8096c2" stroke-width="0.8"/>
<line x1="413.20" y1="183.70" x2="413.20" y2="208.75" stroke="#8096c2" stroke-width="1.15"/>
<line x1="412.30" y1="183.70" x2="414.10" y2="183.70" stroke="#8096c2" stroke-width="0.8"/>
<line x1="412.30" y1="208.75" x2="414.10" y2="208.75" stroke="#8096c2" stroke-width="0.8"/>
<line x1="422.90" y1="185.36" x2="422.90" y2="201.92" stroke="#8096c2" stroke-width="1.15"/>
<line x1="422.00" y1="185.36" x2="423.80" y2="185.36" stroke="#8096c2" stroke-width="0.8"/>
<line x1="422.00" y1="201.92" x2="423.80" y2="201.92" stroke="#8096c2" stroke-width="0.8"/>
<line x1="403.50" y1="214.13" x2="403.50" y2="220.55" stroke="#d27487" stroke-width="1.15"/>
<line x1="402.60" y1="214.13" x2="404.40" y2="214.13" stroke="#d27487" stroke-width="0.8"/>
<line x1="402.60" y1="220.55" x2="404.40" y2="220.55" stroke="#d27487" stroke-width="0.8"/>
<line x1="413.20" y1="210.61" x2="413.20" y2="217.65" stroke="#d27487" stroke-width="1.15"/>
<line x1="412.30" y1="210.61" x2="414.10" y2="210.61" stroke="#d27487" stroke-width="0.8"/>
<line x1="412.30" y1="217.65" x2="414.10" y2="217.65" stroke="#d27487" stroke-width="0.8"/>
<line x1="422.90" y1="217.65" x2="422.90" y2="220.55" stroke="#d27487" stroke-width="1.15"/>
<line x1="422.00" y1="217.65" x2="423.80" y2="217.65" stroke="#d27487" stroke-width="0.8"/>
<line x1="422.00" y1="220.55" x2="423.80" y2="220.55" stroke="#d27487" stroke-width="0.8"/>
<polyline points="374.40,228.00 384.10,227.79 393.80,224.48 403.50,209.78 413.20,196.95 422.90,193.84" fill="none" stroke="#3a5a98" stroke-width="1.0" stroke-linejoin="round" stroke-dasharray="2.6,1.6"/>
<polyline points="374.40,228.00 384.10,227.79 393.80,224.90 403.50,217.65 413.20,214.13 422.90,218.69" fill="none" stroke="#b01f45" stroke-width="1.0" stroke-linejoin="round"/>
<rect x="373.70" y="227.30" width="1.40" height="1.40" fill="#3a5a98"/>
<rect x="383.40" y="227.09" width="1.40" height="1.40" fill="#3a5a98"/>
<rect x="393.10" y="223.78" width="1.40" height="1.40" fill="#3a5a98"/>
<rect x="402.80" y="209.08" width="1.40" height="1.40" fill="#3a5a98"/>
<rect x="412.50" y="196.25" width="1.40" height="1.40" fill="#3a5a98"/>
<rect x="422.20" y="193.15" width="1.40" height="1.40" fill="#3a5a98"/>
<rect x="373.60" y="227.20" width="1.60" height="1.60" fill="#b01f45"/>
<rect x="383.30" y="226.99" width="1.60" height="1.60" fill="#b01f45"/>
<rect x="393.00" y="224.09" width="1.60" height="1.60" fill="#b01f45"/>
<rect x="402.70" y="216.85" width="1.60" height="1.60" fill="#b01f45"/>
<rect x="412.40" y="213.33" width="1.60" height="1.60" fill="#b01f45"/>
<rect x="422.10" y="217.88" width="1.60" height="1.60" fill="#b01f45"/>
<line x1="371.50" y1="183.30" x2="371.50" y2="230.00" stroke="#111" stroke-width="1.2"/>
<line x1="370.90" y1="229.50" x2="426.00" y2="229.50" stroke="#111" stroke-width="1.2"/>
<line x1="369.00" y1="228.00" x2="371.50" y2="228.00" stroke="#111" stroke-width="0.9"/>
<text transform="translate(365.50,230.35)" font-size="6.0" text-anchor="end" fill="#222" font-weight="normal" stroke="#222" stroke-width="0.12">0</text>
<line x1="369.00" y1="207.30" x2="371.50" y2="207.30" stroke="#111" stroke-width="0.9"/>
<text transform="translate(365.50,209.65) scale(1.1,1)" font-size="6.0" text-anchor="end" fill="#222" font-weight="normal" stroke="#222" stroke-width="0.12">1E+6</text>
<line x1="369.00" y1="186.60" x2="371.50" y2="186.60" stroke="#111" stroke-width="0.9"/>
<text transform="translate(365.50,188.95) scale(1.1,1)" font-size="6.0" text-anchor="end" fill="#222" font-weight="normal" stroke="#222" stroke-width="0.12">2E+6</text>
<line x1="370.00" y1="217.65" x2="371.50" y2="217.65" stroke="#111" stroke-width="0.7"/>
<line x1="370.00" y1="196.95" x2="371.50" y2="196.95" stroke="#111" stroke-width="0.7"/>
<line x1="374.40" y1="229.50" x2="374.40" y2="232.00" stroke="#111" stroke-width="0.9"/>
<text transform="translate(374.40,240.90)" font-size="5.9" text-anchor="middle" fill="#222" font-weight="normal" stroke="#222" stroke-width="0.12">1</text>
<line x1="384.10" y1="229.50" x2="384.10" y2="232.00" stroke="#111" stroke-width="0.9"/>
<text transform="translate(384.10,240.90)" font-size="5.9" text-anchor="middle" fill="#222" font-weight="normal" stroke="#222" stroke-width="0.12">2</text>
<line x1="393.80" y1="229.50" x2="393.80" y2="232.00" stroke="#111" stroke-width="0.9"/>
<text transform="translate(393.80,240.90)" font-size="5.9" text-anchor="middle" fill="#222" font-weight="normal" stroke="#222" stroke-width="0.12">3</text>
<line x1="403.50" y1="229.50" x2="403.50" y2="232.00" stroke="#111" stroke-width="0.9"/>
<text transform="translate(403.50,240.90)" font-size="5.9" text-anchor="middle" fill="#222" font-weight="normal" stroke="#222" stroke-width="0.12">4</text>
<line x1="413.20" y1="229.50" x2="413.20" y2="232.00" stroke="#111" stroke-width="0.9"/>
<text transform="translate(413.20,240.90)" font-size="5.9" text-anchor="middle" fill="#222" font-weight="normal" stroke="#222" stroke-width="0.12">5</text>
<line x1="422.90" y1="229.50" x2="422.90" y2="232.00" stroke="#111" stroke-width="0.9"/>
<text transform="translate(422.90,240.90)" font-size="5.9" text-anchor="middle" fill="#222" font-weight="normal" stroke="#222" stroke-width="0.12">6</text>
<text transform="translate(379.00,194.60) scale(0.88,1)" font-size="6.0" text-anchor="start" fill="#222" font-weight="normal" stroke="#222" stroke-width="0.12">Slc4a1</text>
<line x1="459.20" y1="223.53" x2="459.20" y2="229.48" stroke="#8096c2" stroke-width="1.15"/>
<line x1="458.30" y1="223.53" x2="460.10" y2="223.53" stroke="#8096c2" stroke-width="0.8"/>
<line x1="458.30" y1="229.48" x2="460.10" y2="229.48" stroke="#8096c2" stroke-width="0.8"/>
<line x1="468.74" y1="219.07" x2="468.74" y2="224.31" stroke="#8096c2" stroke-width="1.15"/>
<line x1="467.84" y1="219.07" x2="469.64" y2="219.07" stroke="#8096c2" stroke-width="0.8"/>
<line x1="467.84" y1="224.31" x2="469.64" y2="224.31" stroke="#8096c2" stroke-width="0.8"/>
<line x1="478.28" y1="209.60" x2="478.28" y2="229.70" stroke="#8096c2" stroke-width="1.15"/>
<line x1="477.38" y1="209.60" x2="479.18" y2="209.60" stroke="#8096c2" stroke-width="0.8"/>
<line x1="487.82" y1="211.32" x2="487.82" y2="225.18" stroke="#8096c2" stroke-width="1.15"/>
<line x1="486.92" y1="211.32" x2="488.72" y2="211.32" stroke="#8096c2" stroke-width="0.8"/>
<line x1="486.92" y1="225.18" x2="488.72" y2="225.18" stroke="#8096c2" stroke-width="0.8"/>
<line x1="497.36" y1="219.72" x2="497.36" y2="226.90" stroke="#8096c2" stroke-width="1.15"/>
<line x1="496.46" y1="219.72" x2="498.26" y2="219.72" stroke="#8096c2" stroke-width="0.8"/>
<line x1="496.46" y1="226.90" x2="498.26" y2="226.90" stroke="#8096c2" stroke-width="0.8"/>
<line x1="506.90" y1="224.31" x2="506.90" y2="229.48" stroke="#8096c2" stroke-width="1.15"/>
<line x1="506.00" y1="224.31" x2="507.80" y2="224.31" stroke="#8096c2" stroke-width="0.8"/>
<line x1="506.00" y1="229.48" x2="507.80" y2="229.48" stroke="#8096c2" stroke-width="0.8"/>
<line x1="459.20" y1="191.43" x2="459.20" y2="215.70" stroke="#d27487" stroke-width="1.15"/>
<line x1="458.30" y1="191.43" x2="460.10" y2="191.43" stroke="#d27487" stroke-width="0.8"/>
<line x1="458.30" y1="215.70" x2="460.10" y2="215.70" stroke="#d27487" stroke-width="0.8"/>
<line x1="468.74" y1="194.88" x2="468.74" y2="198.40" stroke="#d27487" stroke-width="1.15"/>
<line x1="467.84" y1="194.88" x2="469.64" y2="194.88" stroke="#d27487" stroke-width="0.8"/>
<line x1="467.84" y1="198.40" x2="469.64" y2="198.40" stroke="#d27487" stroke-width="0.8"/>
<line x1="478.28" y1="184.97" x2="478.28" y2="202.70" stroke="#d27487" stroke-width="1.15"/>
<line x1="477.38" y1="184.97" x2="479.18" y2="184.97" stroke="#d27487" stroke-width="0.8"/>
<line x1="477.38" y1="202.70" x2="479.18" y2="202.70" stroke="#d27487" stroke-width="0.8"/>
<line x1="487.82" y1="208.73" x2="487.82" y2="216.49" stroke="#d27487" stroke-width="1.15"/>
<line x1="486.92" y1="208.73" x2="488.72" y2="208.73" stroke="#d27487" stroke-width="0.8"/>
<line x1="486.92" y1="216.49" x2="488.72" y2="216.49" stroke="#d27487" stroke-width="0.8"/>
<line x1="497.36" y1="213.90" x2="497.36" y2="222.59" stroke="#d27487" stroke-width="1.15"/>
<line x1="496.46" y1="213.90" x2="498.26" y2="213.90" stroke="#d27487" stroke-width="0.8"/>
<line x1="496.46" y1="222.59" x2="498.26" y2="222.59" stroke="#d27487" stroke-width="0.8"/>
<line x1="506.90" y1="221.37" x2="506.90" y2="224.03" stroke="#d27487" stroke-width="1.15"/>
<line x1="506.00" y1="221.37" x2="507.80" y2="221.37" stroke="#d27487" stroke-width="0.8"/>
<line x1="506.00" y1="224.03" x2="507.80" y2="224.03" stroke="#d27487" stroke-width="0.8"/>
<polyline points="459.20,226.11 468.74,221.44 478.28,218.21 487.82,217.49 497.36,222.16 506.90,226.11" fill="none" stroke="#3a5a98" stroke-width="1.0" stroke-linejoin="round" stroke-dasharray="2.6,1.6"/>
<polyline points="459.20,203.13 468.74,196.67 478.28,193.80 487.82,212.83 497.36,218.21 506.90,222.52" fill="none" stroke="#b01f45" stroke-width="1.0" stroke-linejoin="round"/>
<rect x="458.50" y="225.41" width="1.40" height="1.40" fill="#3a5a98"/>
<rect x="468.04" y="220.74" width="1.40" height="1.40" fill="#3a5a98"/>
<rect x="477.58" y="217.51" width="1.40" height="1.40" fill="#3a5a98"/>
<rect x="487.12" y="216.79" width="1.40" height="1.40" fill="#3a5a98"/>
<rect x="496.66" y="221.46" width="1.40" height="1.40" fill="#3a5a98"/>
<rect x="506.20" y="225.41" width="1.40" height="1.40" fill="#3a5a98"/>
<rect x="458.40" y="202.33" width="1.60" height="1.60" fill="#b01f45"/>
<rect x="467.94" y="195.87" width="1.60" height="1.60" fill="#b01f45"/>
<rect x="477.48" y="193.00" width="1.60" height="1.60" fill="#b01f45"/>
<rect x="487.02" y="212.03" width="1.60" height="1.60" fill="#b01f45"/>
<rect x="496.56" y="217.41" width="1.60" height="1.60" fill="#b01f45"/>
<rect x="506.10" y="221.72" width="1.60" height="1.60" fill="#b01f45"/>
<line x1="456.50" y1="183.30" x2="456.50" y2="230.20" stroke="#111" stroke-width="1.2"/>
<line x1="455.90" y1="229.70" x2="509.80" y2="229.70" stroke="#111" stroke-width="1.2"/>
<line x1="454.00" y1="229.70" x2="456.50" y2="229.70" stroke="#111" stroke-width="0.9"/>
<text transform="translate(450.50,232.05)" font-size="6.0" text-anchor="end" fill="#222" font-weight="normal" stroke="#222" stroke-width="0.12">0</text>
<line x1="454.00" y1="215.34" x2="456.50" y2="215.34" stroke="#111" stroke-width="0.9"/>
<text transform="translate(450.50,217.69) scale(1.1,1)" font-size="6.0" text-anchor="end" fill="#222" font-weight="normal" stroke="#222" stroke-width="0.12">2E+4</text>
<line x1="454.00" y1="200.98" x2="456.50" y2="200.98" stroke="#111" stroke-width="0.9"/>
<text transform="translate(450.50,203.33) scale(1.1,1)" font-size="6.0" text-anchor="end" fill="#222" font-weight="normal" stroke="#222" stroke-width="0.12">4E+4</text>
<line x1="454.00" y1="186.62" x2="456.50" y2="186.62" stroke="#111" stroke-width="0.9"/>
<text transform="translate(450.50,188.97) scale(1.1,1)" font-size="6.0" text-anchor="end" fill="#222" font-weight="normal" stroke="#222" stroke-width="0.12">6E+4</text>
<line x1="455.00" y1="222.52" x2="456.50" y2="222.52" stroke="#111" stroke-width="0.7"/>
<line x1="455.00" y1="208.16" x2="456.50" y2="208.16" stroke="#111" stroke-width="0.7"/>
<line x1="455.00" y1="193.80" x2="456.50" y2="193.80" stroke="#111" stroke-width="0.7"/>
<line x1="459.20" y1="229.70" x2="459.20" y2="232.20" stroke="#111" stroke-width="0.9"/>
<text transform="translate(459.20,241.10)" font-size="5.9" text-anchor="middle" fill="#222" font-weight="normal" stroke="#222" stroke-width="0.12">1</text>
<line x1="468.74" y1="229.70" x2="468.74" y2="232.20" stroke="#111" stroke-width="0.9"/>
<text transform="translate(468.74,241.10)" font-size="5.9" text-anchor="middle" fill="#222" font-weight="normal" stroke="#222" stroke-width="0.12">2</text>
<line x1="478.28" y1="229.70" x2="478.28" y2="232.20" stroke="#111" stroke-width="0.9"/>
<text transform="translate(478.28,241.10)" font-size="5.9" text-anchor="middle" fill="#222" font-weight="normal" stroke="#222" stroke-width="0.12">3</text>
<line x1="487.82" y1="229.70" x2="487.82" y2="232.20" stroke="#111" stroke-width="0.9"/>
<text transform="translate(487.82,241.10)" font-size="5.9" text-anchor="middle" fill="#222" font-weight="normal" stroke="#222" stroke-width="0.12">4</text>
<line x1="497.36" y1="229.70" x2="497.36" y2="232.20" stroke="#111" stroke-width="0.9"/>
<text transform="translate(497.36,241.10)" font-size="5.9" text-anchor="middle" fill="#222" font-weight="normal" stroke="#222" stroke-width="0.12">5</text>
<line x1="506.90" y1="229.70" x2="506.90" y2="232.20" stroke="#111" stroke-width="0.9"/>
<text transform="translate(506.90,241.10)" font-size="5.9" text-anchor="middle" fill="#222" font-weight="normal" stroke="#222" stroke-width="0.12">6</text>
<text transform="translate(489.50,195.60) scale(0.88,1)" font-size="6.0" text-anchor="start" fill="#222" font-weight="normal" stroke="#222" stroke-width="0.12">Tal1</text>
<line x1="202.50" y1="279.16" x2="202.50" y2="291.34" stroke="#8096c2" stroke-width="1.15"/>
<line x1="201.60" y1="279.16" x2="203.40" y2="279.16" stroke="#8096c2" stroke-width="0.8"/>
<line x1="201.60" y1="291.34" x2="203.40" y2="291.34" stroke="#8096c2" stroke-width="0.8"/>
<line x1="212.36" y1="279.16" x2="212.36" y2="285.25" stroke="#8096c2" stroke-width="1.15"/>
<line x1="211.46" y1="279.16" x2="213.26" y2="279.16" stroke="#8096c2" stroke-width="0.8"/>
<line x1="211.46" y1="285.25" x2="213.26" y2="285.25" stroke="#8096c2" stroke-width="0.8"/>
<line x1="222.22" y1="274.03" x2="222.22" y2="293.01" stroke="#8096c2" stroke-width="1.15"/>
<line x1="221.32" y1="274.03" x2="223.12" y2="274.03" stroke="#8096c2" stroke-width="0.8"/>
<line x1="221.32" y1="293.01" x2="223.12" y2="293.01" stroke="#8096c2" stroke-width="0.8"/>
<line x1="232.08" y1="293.28" x2="232.08" y2="298.27" stroke="#8096c2" stroke-width="1.15"/>
<line x1="231.18" y1="293.28" x2="232.98" y2="293.28" stroke="#8096c2" stroke-width="0.8"/>
<line x1="231.18" y1="298.27" x2="232.98" y2="298.27" stroke="#8096c2" stroke-width="0.8"/>
<line x1="202.50" y1="253.95" x2="202.50" y2="289.41" stroke="#d27487" stroke-width="1.15"/>
<line x1="201.60" y1="253.95" x2="203.40" y2="253.95" stroke="#d27487" stroke-width="0.8"/>
<line x1="201.60" y1="289.41" x2="203.40" y2="289.41" stroke="#d27487" stroke-width="0.8"/>
<line x1="212.36" y1="272.79" x2="212.36" y2="296.47" stroke="#d27487" stroke-width="1.15"/>
<line x1="211.46" y1="272.79" x2="213.26" y2="272.79" stroke="#d27487" stroke-width="0.8"/>
<line x1="211.46" y1="296.47" x2="213.26" y2="296.47" stroke="#d27487" stroke-width="0.8"/>
<line x1="222.22" y1="292.18" x2="222.22" y2="298.41" stroke="#d27487" stroke-width="1.15"/>
<line x1="221.32" y1="292.18" x2="223.12" y2="292.18" stroke="#d27487" stroke-width="0.8"/>
<line x1="221.32" y1="298.41" x2="223.12" y2="298.41" stroke="#d27487" stroke-width="0.8"/>
<polyline points="202.50,285.25 212.36,281.79 222.22,283.17 232.08,295.64" fill="none" stroke="#3a5a98" stroke-width="1.0" stroke-linejoin="round" stroke-dasharray="2.6,1.6"/>
<polyline points="202.50,272.09 212.36,284.56 222.22,294.95 232.08,298.41 241.94,298.68 251.80,298.68" fill="none" stroke="#b01f45" stroke-width="1.0" stroke-linejoin="round"/>
<rect x="201.80" y="284.55" width="1.40" height="1.40" fill="#3a5a98"/>
<rect x="211.66" y="281.09" width="1.40" height="1.40" fill="#3a5a98"/>
<rect x="221.52" y="282.47" width="1.40" height="1.40" fill="#3a5a98"/>
<rect x="231.38" y="294.94" width="1.40" height="1.40" fill="#3a5a98"/>
<rect x="201.70" y="271.29" width="1.60" height="1.60" fill="#b01f45"/>
<rect x="211.56" y="283.76" width="1.60" height="1.60" fill="#b01f45"/>
<rect x="221.42" y="294.15" width="1.60" height="1.60" fill="#b01f45"/>
<rect x="231.28" y="297.61" width="1.60" height="1.60" fill="#b01f45"/>
<rect x="241.14" y="297.88" width="1.60" height="1.60" fill="#b01f45"/>
<rect x="251.00" y="297.88" width="1.60" height="1.60" fill="#b01f45"/>
<line x1="200.00" y1="254.00" x2="200.00" y2="300.80" stroke="#111" stroke-width="1.2"/>
<line x1="199.40" y1="300.30" x2="254.50" y2="300.30" stroke="#111" stroke-width="1.2"/>
<line x1="197.50" y1="299.10" x2="200.00" y2="299.10" stroke="#111" stroke-width="0.9"/>
<text transform="translate(194.00,301.45)" font-size="6.0" text-anchor="end" fill="#222" font-weight="normal" stroke="#222" stroke-width="0.12">0</text>
<line x1="197.50" y1="285.25" x2="200.00" y2="285.25" stroke="#111" stroke-width="0.9"/>
<text transform="translate(194.00,287.60) scale(1.1,1)" font-size="6.0" text-anchor="end" fill="#222" font-weight="normal" stroke="#222" stroke-width="0.12">1E+4</text>
<line x1="197.50" y1="271.40" x2="200.00" y2="271.40" stroke="#111" stroke-width="0.9"/>
<text transform="translate(194.00,273.75) scale(1.1,1)" font-size="6.0" text-anchor="end" fill="#222" font-weight="normal" stroke="#222" stroke-width="0.12">2E+4</text>
<line x1="197.50" y1="257.55" x2="200.00" y2="257.55" stroke="#111" stroke-width="0.9"/>
<text transform="translate(194.00,259.90) scale(1.1,1)" font-size="6.0" text-anchor="end" fill="#222" font-weight="normal" stroke="#222" stroke-width="0.12">3E+4</text>
<line x1="198.50" y1="292.18" x2="200.00" y2="292.18" stroke="#111" stroke-width="0.7"/>
<line x1="198.50" y1="278.33" x2="200.00" y2="278.33" stroke="#111" stroke-width="0.7"/>
<line x1="198.50" y1="264.48" x2="200.00" y2="264.48" stroke="#111" stroke-width="0.7"/>
<line x1="202.50" y1="300.30" x2="202.50" y2="302.80" stroke="#111" stroke-width="0.9"/>
<text transform="translate(202.50,311.70)" font-size="5.9" text-anchor="middle" fill="#222" font-weight="normal" stroke="#222" stroke-width="0.12">1</text>
<line x1="212.36" y1="300.30" x2="212.36" y2="302.80" stroke="#111" stroke-width="0.9"/>
<text transform="translate(212.36,311.70)" font-size="5.9" text-anchor="middle" fill="#222" font-weight="normal" stroke="#222" stroke-width="0.12">2</text>
<line x1="222.22" y1="300.30" x2="222.22" y2="302.80" stroke="#111" stroke-width="0.9"/>
<text transform="translate(222.22,311.70)" font-size="5.9" text-anchor="middle" fill="#222" font-weight="normal" stroke="#222" stroke-width="0.12">3</text>
<line x1="232.08" y1="300.30" x2="232.08" y2="302.80" stroke="#111" stroke-width="0.9"/>
<text transform="translate(232.08,311.70)" font-size="5.9" text-anchor="middle" fill="#222" font-weight="normal" stroke="#222" stroke-width="0.12">4</text>
<line x1="241.94" y1="300.30" x2="241.94" y2="302.80" stroke="#111" stroke-width="0.9"/>
<text transform="translate(241.94,311.70)" font-size="5.9" text-anchor="middle" fill="#222" font-weight="normal" stroke="#222" stroke-width="0.12">5</text>
<line x1="251.80" y1="300.30" x2="251.80" y2="302.80" stroke="#111" stroke-width="0.9"/>
<text transform="translate(251.80,311.70)" font-size="5.9" text-anchor="middle" fill="#222" font-weight="normal" stroke="#222" stroke-width="0.12">6</text>
<text transform="translate(229.70,259.90) scale(0.88,1)" font-size="6.0" text-anchor="start" fill="#222" font-weight="normal" stroke="#222" stroke-width="0.12">Kit</text>
<line x1="289.20" y1="259.23" x2="289.20" y2="296.48" stroke="#8096c2" stroke-width="1.15"/>
<line x1="288.30" y1="259.23" x2="290.10" y2="259.23" stroke="#8096c2" stroke-width="0.8"/>
<line x1="288.30" y1="296.48" x2="290.10" y2="296.48" stroke="#8096c2" stroke-width="0.8"/>
<line x1="299.15" y1="253.66" x2="299.15" y2="295.58" stroke="#8096c2" stroke-width="1.15"/>
<line x1="298.25" y1="253.66" x2="300.05" y2="253.66" stroke="#8096c2" stroke-width="0.8"/>
<line x1="298.25" y1="295.58" x2="300.05" y2="295.58" stroke="#8096c2" stroke-width="0.8"/>
<line x1="309.10" y1="255.25" x2="309.10" y2="298.18" stroke="#8096c2" stroke-width="1.15"/>
<line x1="308.20" y1="255.25" x2="310.00" y2="255.25" stroke="#8096c2" stroke-width="0.8"/>
<line x1="308.20" y1="298.18" x2="310.00" y2="298.18" stroke="#8096c2" stroke-width="0.8"/>
<line x1="319.05" y1="257.90" x2="319.05" y2="297.28" stroke="#8096c2" stroke-width="1.15"/>
<line x1="318.15" y1="257.90" x2="319.95" y2="257.90" stroke="#8096c2" stroke-width="0.8"/>
<line x1="318.15" y1="297.28" x2="319.95" y2="297.28" stroke="#8096c2" stroke-width="0.8"/>
<line x1="329.00" y1="265.00" x2="329.00" y2="295.58" stroke="#8096c2" stroke-width="1.15"/>
<line x1="328.10" y1="265.00" x2="329.90" y2="265.00" stroke="#8096c2" stroke-width="0.8"/>
<line x1="328.10" y1="295.58" x2="329.90" y2="295.58" stroke="#8096c2" stroke-width="0.8"/>
<line x1="338.95" y1="280.48" x2="338.95" y2="298.18" stroke="#8096c2" stroke-width="1.15"/>
<line x1="338.05" y1="280.48" x2="339.85" y2="280.48" stroke="#8096c2" stroke-width="0.8"/>
<line x1="338.05" y1="298.18" x2="339.85" y2="298.18" stroke="#8096c2" stroke-width="0.8"/>
<line x1="289.20" y1="296.06" x2="289.20" y2="298.71" stroke="#d27487" stroke-width="1.15"/>
<line x1="288.30" y1="296.06" x2="290.10" y2="296.06" stroke="#d27487" stroke-width="0.8"/>
<line x1="288.30" y1="298.71" x2="290.10" y2="298.71" stroke="#d27487" stroke-width="0.8"/>
<line x1="299.15" y1="293.94" x2="299.15" y2="297.12" stroke="#d27487" stroke-width="1.15"/>
<line x1="298.25" y1="293.94" x2="300.05" y2="293.94" stroke="#d27487" stroke-width="0.8"/>
<line x1="298.25" y1="297.12" x2="300.05" y2="297.12" stroke="#d27487" stroke-width="0.8"/>
<line x1="309.10" y1="292.62" x2="309.10" y2="295.80" stroke="#d27487" stroke-width="1.15"/>
<line x1="308.20" y1="292.62" x2="310.00" y2="292.62" stroke="#d27487" stroke-width="0.8"/>
<line x1="308.20" y1="295.80" x2="310.00" y2="295.80" stroke="#d27487" stroke-width="0.8"/>
<line x1="319.05" y1="294.74" x2="319.05" y2="297.92" stroke="#d27487" stroke-width="1.15"/>
<line x1="318.15" y1="294.74" x2="319.95" y2="294.74" stroke="#d27487" stroke-width="0.8"/>
<line x1="318.15" y1="297.92" x2="319.95" y2="297.92" stroke="#d27487" stroke-width="0.8"/>
<line x1="329.00" y1="295.26" x2="329.00" y2="298.44" stroke="#d27487" stroke-width="1.15"/>
<line x1="328.10" y1="295.26" x2="329.90" y2="295.26" stroke="#d27487" stroke-width="0.8"/>
<line x1="328.10" y1="298.44" x2="329.90" y2="298.44" stroke="#d27487" stroke-width="0.8"/>
<line x1="338.95" y1="297.38" x2="338.95" y2="299.50" stroke="#d27487" stroke-width="1.15"/>
<line x1="338.05" y1="297.38" x2="339.85" y2="297.38" stroke="#d27487" stroke-width="0.8"/>
<line x1="338.05" y1="299.50" x2="339.85" y2="299.50" stroke="#d27487" stroke-width="0.8"/>
<polyline points="289.20,277.51 299.15,273.27 309.10,276.98 319.05,276.98 329.00,280.16 338.95,289.70" fill="none" stroke="#3a5a98" stroke-width="1.0" stroke-linejoin="round" stroke-dasharray="2.6,1.6"/>
<polyline points="289.20,297.38 299.15,295.53 309.10,294.20 319.05,296.32 329.00,296.86 338.95,298.44" fill="none" stroke="#b01f45" stroke-width="1.0" stroke-linejoin="round"/>
<rect x="288.50" y="276.81" width="1.40" height="1.40" fill="#3a5a98"/>
<rect x="298.45" y="272.57" width="1.40" height="1.40" fill="#3a5a98"/>
<rect x="308.40" y="276.28" width="1.40" height="1.40" fill="#3a5a98"/>
<rect x="318.35" y="276.28" width="1.40" height="1.40" fill="#3a5a98"/>
<rect x="328.30" y="279.46" width="1.40" height="1.40" fill="#3a5a98"/>
<rect x="338.25" y="289.00" width="1.40" height="1.40" fill="#3a5a98"/>
<rect x="288.40" y="296.58" width="1.60" height="1.60" fill="#b01f45"/>
<rect x="298.35" y="294.73" width="1.60" height="1.60" fill="#b01f45"/>
<rect x="308.30" y="293.40" width="1.60" height="1.60" fill="#b01f45"/>
<rect x="318.25" y="295.52" width="1.60" height="1.60" fill="#b01f45"/>
<rect x="328.20" y="296.06" width="1.60" height="1.60" fill="#b01f45"/>
<rect x="338.15" y="297.64" width="1.60" height="1.60" fill="#b01f45"/>
<line x1="286.50" y1="252.80" x2="286.50" y2="300.80" stroke="#111" stroke-width="1.2"/>
<line x1="285.90" y1="300.30" x2="341.50" y2="300.30" stroke="#111" stroke-width="1.2"/>
<line x1="284.00" y1="300.30" x2="286.50" y2="300.30" stroke="#111" stroke-width="0.9"/>
<text transform="translate(280.50,302.65)" font-size="6.0" text-anchor="end" fill="#222" font-weight="normal" stroke="#222" stroke-width="0.12">0</text>
<line x1="284.00" y1="289.70" x2="286.50" y2="289.70" stroke="#111" stroke-width="0.9"/>
<text transform="translate(280.50,292.05) scale(1.1,1)" font-size="6.0" text-anchor="end" fill="#222" font-weight="normal" stroke="#222" stroke-width="0.12">2E+4</text>
<line x1="284.00" y1="279.10" x2="286.50" y2="279.10" stroke="#111" stroke-width="0.9"/>
<text transform="translate(280.50,281.45) scale(1.1,1)" font-size="6.0" text-anchor="end" fill="#222" font-weight="normal" stroke="#222" stroke-width="0.12">4E+4</text>
<line x1="284.00" y1="268.50" x2="286.50" y2="268.50" stroke="#111" stroke-width="0.9"/>
<text transform="translate(280.50,270.85) scale(1.1,1)" font-size="6.0" text-anchor="end" fill="#222" font-weight="normal" stroke="#222" stroke-width="0.12">6E+4</text>
<line x1="284.00" y1="257.90" x2="286.50" y2="257.90" stroke="#111" stroke-width="0.9"/>
<text transform="translate(280.50,260.25) scale(1.1,1)" font-size="6.0" text-anchor="end" fill="#222" font-weight="normal" stroke="#222" stroke-width="0.12">8E+4</text>
<line x1="285.00" y1="295.00" x2="286.50" y2="295.00" stroke="#111" stroke-width="0.7"/>
<line x1="285.00" y1="284.40" x2="286.50" y2="284.40" stroke="#111" stroke-width="0.7"/>
<line x1="285.00" y1="273.80" x2="286.50" y2="273.80" stroke="#111" stroke-width="0.7"/>
<line x1="285.00" y1="263.20" x2="286.50" y2="263.20" stroke="#111" stroke-width="0.7"/>
<line x1="289.20" y1="300.30" x2="289.20" y2="302.80" stroke="#111" stroke-width="0.9"/>
<text transform="translate(289.20,311.70)" font-size="5.9" text-anchor="middle" fill="#222" font-weight="normal" stroke="#222" stroke-width="0.12">1</text>
<line x1="299.15" y1="300.30" x2="299.15" y2="302.80" stroke="#111" stroke-width="0.9"/>
<text transform="translate(299.15,311.70)" font-size="5.9" text-anchor="middle" fill="#222" font-weight="normal" stroke="#222" stroke-width="0.12">2</text>
<line x1="309.10" y1="300.30" x2="309.10" y2="302.80" stroke="#111" stroke-width="0.9"/>
<text transform="translate(309.10,311.70)" font-size="5.9" text-anchor="middle" fill="#222" font-weight="normal" stroke="#222" stroke-width="0.12">3</text>
<line x1="319.05" y1="300.30" x2="319.05" y2="302.80" stroke="#111" stroke-width="0.9"/>
<text transform="translate(319.05,311.70)" font-size="5.9" text-anchor="middle" fill="#222" font-weight="normal" stroke="#222" stroke-width="0.12">4</text>
<line x1="329.00" y1="300.30" x2="329.00" y2="302.80" stroke="#111" stroke-width="0.9"/>
<text transform="translate(329.00,311.70)" font-size="5.9" text-anchor="middle" fill="#222" font-weight="normal" stroke="#222" stroke-width="0.12">5</text>
<line x1="338.95" y1="300.30" x2="338.95" y2="302.80" stroke="#111" stroke-width="0.9"/>
<text transform="translate(338.95,311.70)" font-size="5.9" text-anchor="middle" fill="#222" font-weight="normal" stroke="#222" stroke-width="0.12">6</text>
<text transform="translate(329.80,259.90) scale(0.88,1)" font-size="6.0" text-anchor="start" fill="#222" font-weight="normal" stroke="#222" stroke-width="0.12">Klf1</text>
<line x1="374.00" y1="290.93" x2="374.00" y2="297.85" stroke="#8096c2" stroke-width="1.15"/>
<line x1="373.10" y1="290.93" x2="374.90" y2="290.93" stroke="#8096c2" stroke-width="0.8"/>
<line x1="373.10" y1="297.85" x2="374.90" y2="297.85" stroke="#8096c2" stroke-width="0.8"/>
<line x1="383.58" y1="290.38" x2="383.58" y2="298.96" stroke="#8096c2" stroke-width="1.15"/>
<line x1="382.68" y1="290.38" x2="384.48" y2="290.38" stroke="#8096c2" stroke-width="0.8"/>
<line x1="382.68" y1="298.96" x2="384.48" y2="298.96" stroke="#8096c2" stroke-width="0.8"/>
<line x1="393.16" y1="290.38" x2="393.16" y2="298.40" stroke="#8096c2" stroke-width="1.15"/>
<line x1="392.26" y1="290.38" x2="394.06" y2="290.38" stroke="#8096c2" stroke-width="0.8"/>
<line x1="392.26" y1="298.40" x2="394.06" y2="298.40" stroke="#8096c2" stroke-width="0.8"/>
<line x1="402.74" y1="292.61" x2="402.74" y2="298.07" stroke="#8096c2" stroke-width="1.15"/>
<line x1="401.84" y1="292.61" x2="403.64" y2="292.61" stroke="#8096c2" stroke-width="0.8"/>
<line x1="401.84" y1="298.07" x2="403.64" y2="298.07" stroke="#8096c2" stroke-width="0.8"/>
<line x1="412.32" y1="294.73" x2="412.32" y2="298.40" stroke="#8096c2" stroke-width="1.15"/>
<line x1="411.42" y1="294.73" x2="413.22" y2="294.73" stroke="#8096c2" stroke-width="0.8"/>
<line x1="411.42" y1="298.40" x2="413.22" y2="298.40" stroke="#8096c2" stroke-width="0.8"/>
<line x1="421.90" y1="296.95" x2="421.90" y2="299.52" stroke="#8096c2" stroke-width="1.15"/>
<line x1="421.00" y1="296.95" x2="422.80" y2="296.95" stroke="#8096c2" stroke-width="0.8"/>
<line x1="421.00" y1="299.52" x2="422.80" y2="299.52" stroke="#8096c2" stroke-width="0.8"/>
<line x1="374.00" y1="264.40" x2="374.00" y2="279.45" stroke="#d27487" stroke-width="1.15"/>
<line x1="373.10" y1="264.40" x2="374.90" y2="264.40" stroke="#d27487" stroke-width="0.8"/>
<line x1="373.10" y1="279.45" x2="374.90" y2="279.45" stroke="#d27487" stroke-width="0.8"/>
<line x1="383.58" y1="264.40" x2="383.58" y2="272.20" stroke="#d27487" stroke-width="1.15"/>
<line x1="382.68" y1="264.40" x2="384.48" y2="264.40" stroke="#d27487" stroke-width="0.8"/>
<line x1="382.68" y1="272.20" x2="384.48" y2="272.20" stroke="#d27487" stroke-width="0.8"/>
<line x1="393.16" y1="255.70" x2="393.16" y2="280.01" stroke="#d27487" stroke-width="1.15"/>
<line x1="392.26" y1="255.70" x2="394.06" y2="255.70" stroke="#d27487" stroke-width="0.8"/>
<line x1="392.26" y1="280.01" x2="394.06" y2="280.01" stroke="#d27487" stroke-width="0.8"/>
<line x1="402.74" y1="272.20" x2="402.74" y2="286.92" stroke="#d27487" stroke-width="1.15"/>
<line x1="401.84" y1="272.20" x2="403.64" y2="272.20" stroke="#d27487" stroke-width="0.8"/>
<line x1="401.84" y1="286.92" x2="403.64" y2="286.92" stroke="#d27487" stroke-width="0.8"/>
<line x1="412.32" y1="275.32" x2="412.32" y2="288.70" stroke="#d27487" stroke-width="1.15"/>
<line x1="411.42" y1="275.32" x2="413.22" y2="275.32" stroke="#d27487" stroke-width="0.8"/>
<line x1="411.42" y1="288.70" x2="413.22" y2="288.70" stroke="#d27487" stroke-width="0.8"/>
<line x1="421.90" y1="281.57" x2="421.90" y2="291.16" stroke="#d27487" stroke-width="1.15"/>
<line x1="421.00" y1="281.57" x2="422.80" y2="281.57" stroke="#d27487" stroke-width="0.8"/>
<line x1="421.00" y1="291.16" x2="422.80" y2="291.16" stroke="#d27487" stroke-width="0.8"/>
<polyline points="374.00,294.17 383.58,294.73 393.16,294.17 402.74,294.95 412.32,296.62 421.90,298.07" fill="none" stroke="#3a5a98" stroke-width="1.0" stroke-linejoin="round" stroke-dasharray="2.6,1.6"/>
<polyline points="374.00,272.09 383.58,268.30 393.16,268.30 402.74,279.12 412.32,281.35 421.90,286.36" fill="none" stroke="#b01f45" stroke-width="1.0" stroke-linejoin="round"/>
<rect x="373.30" y="293.47" width="1.40" height="1.40" fill="#3a5a98"/>
<rect x="382.88" y="294.03" width="1.40" height="1.40" fill="#3a5a98"/>
<rect x="392.46" y="293.47" width="1.40" height="1.40" fill="#3a5a98"/>
<rect x="402.04" y="294.25" width="1.40" height="1.40" fill="#3a5a98"/>
<rect x="411.62" y="295.92" width="1.40" height="1.40" fill="#3a5a98"/>
<rect x="421.20" y="297.37" width="1.40" height="1.40" fill="#3a5a98"/>
<rect x="373.20" y="271.29" width="1.60" height="1.60" fill="#b01f45"/>
<rect x="382.78" y="267.50" width="1.60" height="1.60" fill="#b01f45"/>
<rect x="392.36" y="267.50" width="1.60" height="1.60" fill="#b01f45"/>
<rect x="401.94" y="278.31" width="1.60" height="1.60" fill="#b01f45"/>
<rect x="411.52" y="280.55" width="1.60" height="1.60" fill="#b01f45"/>
<rect x="421.10" y="285.56" width="1.60" height="1.60" fill="#b01f45"/>
<line x1="371.50" y1="252.80" x2="371.50" y2="300.80" stroke="#111" stroke-width="1.2"/>
<line x1="370.90" y1="300.30" x2="424.50" y2="300.30" stroke="#111" stroke-width="1.2"/>
<line x1="369.00" y1="300.30" x2="371.50" y2="300.30" stroke="#111" stroke-width="0.9"/>
<text transform="translate(365.50,302.65)" font-size="6.0" text-anchor="end" fill="#222" font-weight="normal" stroke="#222" stroke-width="0.12">0</text>
<line x1="369.00" y1="289.15" x2="371.50" y2="289.15" stroke="#111" stroke-width="0.9"/>
<text transform="translate(365.50,291.50) scale(1.1,1)" font-size="6.0" text-anchor="end" fill="#222" font-weight="normal" stroke="#222" stroke-width="0.12">1E+4</text>
<line x1="369.00" y1="278.00" x2="371.50" y2="278.00" stroke="#111" stroke-width="0.9"/>
<text transform="translate(365.50,280.35) scale(1.1,1)" font-size="6.0" text-anchor="end" fill="#222" font-weight="normal" stroke="#222" stroke-width="0.12">2E+4</text>
<line x1="369.00" y1="266.85" x2="371.50" y2="266.85" stroke="#111" stroke-width="0.9"/>
<text transform="translate(365.50,269.20) scale(1.1,1)" font-size="6.0" text-anchor="end" fill="#222" font-weight="normal" stroke="#222" stroke-width="0.12">3E+4</text>
<line x1="369.00" y1="255.70" x2="371.50" y2="255.70" stroke="#111" stroke-width="0.9"/>
<text transform="translate(365.50,258.05) scale(1.1,1)" font-size="6.0" text-anchor="end" fill="#222" font-weight="normal" stroke="#222" stroke-width="0.12">4E+4</text>
<line x1="374.00" y1="300.30" x2="374.00" y2="302.80" stroke="#111" stroke-width="0.9"/>
<text transform="translate(374.00,311.70)" font-size="5.9" text-anchor="middle" fill="#222" font-weight="normal" stroke="#222" stroke-width="0.12">1</text>
<line x1="383.58" y1="300.30" x2="383.58" y2="302.80" stroke="#111" stroke-width="0.9"/>
<text transform="translate(383.58,311.70)" font-size="5.9" text-anchor="middle" fill="#222" font-weight="normal" stroke="#222" stroke-width="0.12">2</text>
<line x1="393.16" y1="300.30" x2="393.16" y2="302.80" stroke="#111" stroke-width="0.9"/>
<text transform="translate(393.16,311.70)" font-size="5.9" text-anchor="middle" fill="#222" font-weight="normal" stroke="#222" stroke-width="0.12">3</text>
<line x1="402.74" y1="300.30" x2="402.74" y2="302.80" stroke="#111" stroke-width="0.9"/>
<text transform="translate(402.74,311.70)" font-size="5.9" text-anchor="middle" fill="#222" font-weight="normal" stroke="#222" stroke-width="0.12">4</text>
<line x1="412.32" y1="300.30" x2="412.32" y2="302.80" stroke="#111" stroke-width="0.9"/>
<text transform="translate(412.32,311.70)" font-size="5.9" text-anchor="middle" fill="#222" font-weight="normal" stroke="#222" stroke-width="0.12">5</text>
<line x1="421.90" y1="300.30" x2="421.90" y2="302.80" stroke="#111" stroke-width="0.9"/>
<text transform="translate(421.90,311.70)" font-size="5.9" text-anchor="middle" fill="#222" font-weight="normal" stroke="#222" stroke-width="0.12">6</text>
<text transform="translate(401.40,259.40) scale(0.88,1)" font-size="6.0" text-anchor="start" fill="#222" font-weight="normal" stroke="#222" stroke-width="0.12">Zfpm1</text>
<line x1="459.20" y1="258.48" x2="459.20" y2="283.37" stroke="#8096c2" stroke-width="1.15"/>
<line x1="458.30" y1="258.48" x2="460.10" y2="258.48" stroke="#8096c2" stroke-width="0.8"/>
<line x1="458.30" y1="283.37" x2="460.10" y2="283.37" stroke="#8096c2" stroke-width="0.8"/>
<line x1="469.32" y1="253.99" x2="469.32" y2="278.27" stroke="#8096c2" stroke-width="1.15"/>
<line x1="468.42" y1="253.99" x2="470.22" y2="253.99" stroke="#8096c2" stroke-width="0.8"/>
<line x1="468.42" y1="278.27" x2="470.22" y2="278.27" stroke="#8096c2" stroke-width="0.8"/>
<line x1="479.44" y1="257.46" x2="479.44" y2="269.70" stroke="#8096c2" stroke-width="1.15"/>
<line x1="478.54" y1="257.46" x2="480.34" y2="257.46" stroke="#8096c2" stroke-width="0.8"/>
<line x1="478.54" y1="269.70" x2="480.34" y2="269.70" stroke="#8096c2" stroke-width="0.8"/>
<line x1="489.56" y1="252.16" x2="489.56" y2="278.47" stroke="#8096c2" stroke-width="1.15"/>
<line x1="488.66" y1="252.16" x2="490.46" y2="252.16" stroke="#8096c2" stroke-width="0.8"/>
<line x1="488.66" y1="278.47" x2="490.46" y2="278.47" stroke="#8096c2" stroke-width="0.8"/>
<line x1="499.68" y1="253.99" x2="499.68" y2="287.75" stroke="#8096c2" stroke-width="1.15"/>
<line x1="498.78" y1="253.99" x2="500.58" y2="253.99" stroke="#8096c2" stroke-width="0.8"/>
<line x1="498.78" y1="287.75" x2="500.58" y2="287.75" stroke="#8096c2" stroke-width="0.8"/>
<line x1="509.80" y1="267.15" x2="509.80" y2="288.67" stroke="#8096c2" stroke-width="1.15"/>
<line x1="508.90" y1="267.15" x2="510.70" y2="267.15" stroke="#8096c2" stroke-width="0.8"/>
<line x1="508.90" y1="288.67" x2="510.70" y2="288.67" stroke="#8096c2" stroke-width="0.8"/>
<line x1="459.20" y1="290.30" x2="459.20" y2="291.94" stroke="#d27487" stroke-width="1.15"/>
<line x1="458.30" y1="290.30" x2="460.10" y2="290.30" stroke="#d27487" stroke-width="0.8"/>
<line x1="458.30" y1="291.94" x2="460.10" y2="291.94" stroke="#d27487" stroke-width="0.8"/>
<line x1="469.32" y1="286.12" x2="469.32" y2="290.41" stroke="#d27487" stroke-width="1.15"/>
<line x1="468.42" y1="286.12" x2="470.22" y2="286.12" stroke="#d27487" stroke-width="0.8"/>
<line x1="468.42" y1="290.41" x2="470.22" y2="290.41" stroke="#d27487" stroke-width="0.8"/>
<line x1="479.44" y1="280.92" x2="479.44" y2="287.75" stroke="#d27487" stroke-width="1.15"/>
<line x1="478.54" y1="280.92" x2="480.34" y2="280.92" stroke="#d27487" stroke-width="0.8"/>
<line x1="478.54" y1="287.75" x2="480.34" y2="287.75" stroke="#d27487" stroke-width="0.8"/>
<line x1="489.56" y1="282.65" x2="489.56" y2="291.32" stroke="#d27487" stroke-width="1.15"/>
<line x1="488.66" y1="282.65" x2="490.46" y2="282.65" stroke="#d27487" stroke-width="0.8"/>
<line x1="488.66" y1="291.32" x2="490.46" y2="291.32" stroke="#d27487" stroke-width="0.8"/>
<line x1="499.68" y1="285.20" x2="499.68" y2="292.24" stroke="#d27487" stroke-width="1.15"/>
<line x1="498.78" y1="285.20" x2="500.58" y2="285.20" stroke="#d27487" stroke-width="0.8"/>
<line x1="498.78" y1="292.24" x2="500.58" y2="292.24" stroke="#d27487" stroke-width="0.8"/>
<line x1="509.80" y1="292.24" x2="509.80" y2="296.53" stroke="#d27487" stroke-width="1.15"/>
<line x1="508.90" y1="292.24" x2="510.70" y2="292.24" stroke="#d27487" stroke-width="0.8"/>
<line x1="508.90" y1="296.53" x2="510.70" y2="296.53" stroke="#d27487" stroke-width="0.8"/>
<polyline points="459.20,271.23 469.32,266.64 479.44,264.60 489.56,266.13 499.68,269.19 509.80,278.88" fill="none" stroke="#3a5a98" stroke-width="1.0" stroke-linejoin="round" stroke-dasharray="2.6,1.6"/>
<polyline points="459.20,291.12 469.32,287.24 479.44,283.47 489.56,286.22 499.68,287.55 509.80,293.16" fill="none" stroke="#b01f45" stroke-width="1.0" stroke-linejoin="round"/>
<rect x="458.50" y="270.53" width="1.40" height="1.40" fill="#3a5a98"/>
<rect x="468.62" y="265.94" width="1.40" height="1.40" fill="#3a5a98"/>
<rect x="478.74" y="263.90" width="1.40" height="1.40" fill="#3a5a98"/>
<rect x="488.86" y="265.43" width="1.40" height="1.40" fill="#3a5a98"/>
<rect x="498.98" y="268.49" width="1.40" height="1.40" fill="#3a5a98"/>
<rect x="509.10" y="278.18" width="1.40" height="1.40" fill="#3a5a98"/>
<rect x="458.40" y="290.32" width="1.60" height="1.60" fill="#b01f45"/>
<rect x="468.52" y="286.44" width="1.60" height="1.60" fill="#b01f45"/>
<rect x="478.64" y="282.67" width="1.60" height="1.60" fill="#b01f45"/>
<rect x="488.76" y="285.42" width="1.60" height="1.60" fill="#b01f45"/>
<rect x="498.88" y="286.75" width="1.60" height="1.60" fill="#b01f45"/>
<rect x="509.00" y="292.36" width="1.60" height="1.60" fill="#b01f45"/>
<line x1="456.50" y1="252.30" x2="456.50" y2="300.80" stroke="#111" stroke-width="1.2"/>
<line x1="455.90" y1="300.30" x2="512.40" y2="300.30" stroke="#111" stroke-width="1.2"/>
<line x1="454.00" y1="300.30" x2="456.50" y2="300.30" stroke="#111" stroke-width="0.9"/>
<text transform="translate(450.50,302.65)" font-size="6.0" text-anchor="end" fill="#222" font-weight="normal" stroke="#222" stroke-width="0.12">0</text>
<line x1="454.00" y1="290.10" x2="456.50" y2="290.10" stroke="#111" stroke-width="0.9"/>
<text transform="translate(450.50,292.45) scale(1.1,1)" font-size="6.0" text-anchor="end" fill="#222" font-weight="normal" stroke="#222" stroke-width="0.12">1E+6</text>
<line x1="454.00" y1="279.90" x2="456.50" y2="279.90" stroke="#111" stroke-width="0.9"/>
<text transform="translate(450.50,282.25) scale(1.1,1)" font-size="6.0" text-anchor="end" fill="#222" font-weight="normal" stroke="#222" stroke-width="0.12">2E+6</text>
<line x1="454.00" y1="269.70" x2="456.50" y2="269.70" stroke="#111" stroke-width="0.9"/>
<text transform="translate(450.50,272.05) scale(1.1,1)" font-size="6.0" text-anchor="end" fill="#222" font-weight="normal" stroke="#222" stroke-width="0.12">3E+6</text>
<line x1="454.00" y1="259.50" x2="456.50" y2="259.50" stroke="#111" stroke-width="0.9"/>
<text transform="translate(450.50,261.85) scale(1.1,1)" font-size="6.0" text-anchor="end" fill="#222" font-weight="normal" stroke="#222" stroke-width="0.12">4E+6</text>
<line x1="455.00" y1="295.20" x2="456.50" y2="295.20" stroke="#111" stroke-width="0.7"/>
<line x1="455.00" y1="285.00" x2="456.50" y2="285.00" stroke="#111" stroke-width="0.7"/>
<line x1="455.00" y1="274.80" x2="456.50" y2="274.80" stroke="#111" stroke-width="0.7"/>
<line x1="455.00" y1="264.60" x2="456.50" y2="264.60" stroke="#111" stroke-width="0.7"/>
<line x1="459.20" y1="300.30" x2="459.20" y2="302.80" stroke="#111" stroke-width="0.9"/>
<text transform="translate(459.20,311.70)" font-size="5.9" text-anchor="middle" fill="#222" font-weight="normal" stroke="#222" stroke-width="0.12">1</text>
<line x1="469.32" y1="300.30" x2="469.32" y2="302.80" stroke="#111" stroke-width="0.9"/>
<text transform="translate(469.32,311.70)" font-size="5.9" text-anchor="middle" fill="#222" font-weight="normal" stroke="#222" stroke-width="0.12">2</text>
<line x1="479.44" y1="300.30" x2="479.44" y2="302.80" stroke="#111" stroke-width="0.9"/>
<text transform="translate(479.44,311.70)" font-size="5.9" text-anchor="middle" fill="#222" font-weight="normal" stroke="#222" stroke-width="0.12">3</text>
<line x1="489.56" y1="300.30" x2="489.56" y2="302.80" stroke="#111" stroke-width="0.9"/>
<text transform="translate(489.56,311.70)" font-size="5.9" text-anchor="middle" fill="#222" font-weight="normal" stroke="#222" stroke-width="0.12">4</text>
<line x1="499.68" y1="300.30" x2="499.68" y2="302.80" stroke="#111" stroke-width="0.9"/>
<text transform="translate(499.68,311.70)" font-size="5.9" text-anchor="middle" fill="#222" font-weight="normal" stroke="#222" stroke-width="0.12">5</text>
<line x1="509.80" y1="300.30" x2="509.80" y2="302.80" stroke="#111" stroke-width="0.9"/>
<text transform="translate(509.80,311.70)" font-size="5.9" text-anchor="middle" fill="#222" font-weight="normal" stroke="#222" stroke-width="0.12">6</text>
<text transform="translate(490.40,260.30) scale(0.88,1)" font-size="6.0" text-anchor="start" fill="#222" font-weight="normal" stroke="#222" stroke-width="0.12">Tfrc</text>
<text transform="translate(345.50,323.00)" font-size="8.6" text-anchor="middle" fill="#222" font-weight="normal" textLength="51.8" lengthAdjust="spacingAndGlyphs" stroke="#222" stroke-width="0.16">Differentiation stage</text>
<text transform="translate(35.50,355.90) scale(0.97,1)" font-size="5.1" text-anchor="start" fill="#222" font-weight="normal" stroke="#222" stroke-width="0.12">Murine</text>
<text transform="translate(35.50,364.70) scale(0.97,1)" font-size="5.1" text-anchor="start" fill="#222" font-weight="normal" stroke="#222" stroke-width="0.12">Human</text>
<circle cx="61.90" cy="354.20" r="2.4" fill="#1f4a8f"/>
<rect x="59.70" y="360.40" width="4.40" height="4.40" fill="#1f4a8f"/>
<text transform="translate(66.60,355.90) scale(0.97,1)" font-size="5.1" text-anchor="start" fill="#222" font-weight="normal" stroke="#222" stroke-width="0.12">0H</text>
<text transform="translate(66.60,364.70) scale(0.97,1)" font-size="5.1" text-anchor="start" fill="#222" font-weight="normal" stroke="#222" stroke-width="0.12">Prog2</text>
<circle cx="92.30" cy="354.20" r="2.4" fill="#f1d3cb"/>
<rect x="90.10" y="360.40" width="4.40" height="4.40" fill="#f1d3cb"/>
<text transform="translate(97.00,355.90) scale(0.97,1)" font-size="5.1" text-anchor="start" fill="#222" font-weight="normal" stroke="#222" stroke-width="0.12">12H</text>
<text transform="translate(97.00,364.70) scale(0.97,1)" font-size="5.1" text-anchor="start" fill="#222" font-weight="normal" stroke="#222" stroke-width="0.12">ProE</text>
<circle cx="120.20" cy="354.20" r="2.4" fill="#e6ad9f"/>
<rect x="118.00" y="360.40" width="4.40" height="4.40" fill="#e6ad9f"/>
<text transform="translate(124.90,355.90) scale(0.97,1)" font-size="5.1" text-anchor="start" fill="#222" font-weight="normal" stroke="#222" stroke-width="0.12">24H</text>
<text transform="translate(124.90,364.70) scale(0.97,1)" font-size="5.1" text-anchor="start" fill="#222" font-weight="normal" stroke="#222" stroke-width="0.12">Baso1</text>
<circle cx="151.50" cy="354.20" r="2.4" fill="#d88a7e"/>
<rect x="149.30" y="360.40" width="4.40" height="4.40" fill="#d88a7e"/>
<text transform="translate(156.20,355.90) scale(0.97,1)" font-size="5.1" text-anchor="start" fill="#222" font-weight="normal" stroke="#222" stroke-width="0.12">36H</text>
<text transform="translate(156.20,364.70) scale(0.97,1)" font-size="5.1" text-anchor="start" fill="#222" font-weight="normal" stroke="#222" stroke-width="0.12">Baso2</text>
<circle cx="183.30" cy="354.20" r="2.4" fill="#c95b5b"/>
<rect x="181.10" y="360.40" width="4.40" height="4.40" fill="#c95b5b"/>
<text transform="translate(188.00,355.90) scale(0.97,1)" font-size="5.1" text-anchor="start" fill="#222" font-weight="normal" stroke="#222" stroke-width="0.12">48H</text>
<text transform="translate(188.00,364.70) scale(0.97,1)" font-size="5.1" text-anchor="start" fill="#222" font-weight="normal" stroke="#222" stroke-width="0.12">Poly</text>
<circle cx="210.20" cy="354.20" r="2.4" fill="#b5102e"/>
<rect x="208.00" y="360.40" width="4.40" height="4.40" fill="#b5102e"/>
<text transform="translate(214.90,355.90) scale(0.97,1)" font-size="5.1" text-anchor="start" fill="#222" font-weight="normal" stroke="#222" stroke-width="0.12">60H</text>
<text transform="translate(214.90,364.70) scale(0.97,1)" font-size="5.1" text-anchor="start" fill="#222" font-weight="normal" stroke="#222" stroke-width="0.12">Ortho</text>
<line x1="48.09" y1="374.50" x2="48.09" y2="510.70" stroke="#555" stroke-width="1.2"/>
<line x1="60.98" y1="374.50" x2="60.98" y2="510.70" stroke="#555" stroke-width="1.2"/>
<line x1="73.87" y1="374.50" x2="73.87" y2="510.70" stroke="#555" stroke-width="1.2"/>
<line x1="86.76" y1="374.50" x2="86.76" y2="510.70" stroke="#555" stroke-width="1.2"/>
<line x1="99.65" y1="374.50" x2="99.65" y2="510.70" stroke="#555" stroke-width="1.2"/>
<line x1="112.54" y1="374.50" x2="112.54" y2="510.70" stroke="#555" stroke-width="1.2"/>
<line x1="125.43" y1="374.50" x2="125.43" y2="510.70" stroke="#555" stroke-width="1.2"/>
<line x1="138.32" y1="374.50" x2="138.32" y2="510.70" stroke="#555" stroke-width="1.2"/>
<line x1="151.21" y1="374.50" x2="151.21" y2="510.70" stroke="#555" stroke-width="1.2"/>
<line x1="164.10" y1="374.50" x2="164.10" y2="510.70" stroke="#555" stroke-width="1.2"/>
<line x1="176.99" y1="374.50" x2="176.99" y2="510.70" stroke="#555" stroke-width="1.2"/>
<line x1="189.88" y1="374.50" x2="189.88" y2="510.70" stroke="#555" stroke-width="1.2"/>
<line x1="202.77" y1="374.50" x2="202.77" y2="510.70" stroke="#555" stroke-width="1.2"/>
<line x1="215.66" y1="374.50" x2="215.66" y2="510.70" stroke="#555" stroke-width="1.2"/>
<line x1="35.20" y1="510.70" x2="35.20" y2="513.20" stroke="#111" stroke-width="0.9"/>
<line x1="48.09" y1="510.70" x2="48.09" y2="513.20" stroke="#111" stroke-width="0.9"/>
<line x1="60.98" y1="510.70" x2="60.98" y2="513.20" stroke="#111" stroke-width="0.9"/>
<line x1="73.87" y1="510.70" x2="73.87" y2="513.20" stroke="#111" stroke-width="0.9"/>
<line x1="86.76" y1="510.70" x2="86.76" y2="513.20" stroke="#111" stroke-width="0.9"/>
<line x1="99.65" y1="510.70" x2="99.65" y2="513.20" stroke="#111" stroke-width="0.9"/>
<line x1="112.54" y1="510.70" x2="112.54" y2="513.20" stroke="#111" stroke-width="0.9"/>
<line x1="125.43" y1="510.70" x2="125.43" y2="513.20" stroke="#111" stroke-width="0.9"/>
<line x1="138.32" y1="510.70" x2="138.32" y2="513.20" stroke="#111" stroke-width="0.9"/>
<line x1="151.21" y1="510.70" x2="151.21" y2="513.20" stroke="#111" stroke-width="0.9"/>
<line x1="164.10" y1="510.70" x2="164.10" y2="513.20" stroke="#111" stroke-width="0.9"/>
<line x1="176.99" y1="510.70" x2="176.99" y2="513.20" stroke="#111" stroke-width="0.9"/>
<line x1="189.88" y1="510.70" x2="189.88" y2="513.20" stroke="#111" stroke-width="0.9"/>
<line x1="202.77" y1="510.70" x2="202.77" y2="513.20" stroke="#111" stroke-width="0.9"/>
<line x1="215.66" y1="510.70" x2="215.66" y2="513.20" stroke="#111" stroke-width="0.9"/>
<line x1="228.55" y1="510.70" x2="228.55" y2="513.20" stroke="#111" stroke-width="0.9"/>
<line x1="228.60" y1="374.50" x2="228.60" y2="510.70" stroke="#111" stroke-width="1.3"/>
<line x1="32.00" y1="374.50" x2="228.60" y2="374.50" stroke="#111" stroke-width="1.4"/>
<line x1="35.20" y1="374.50" x2="35.20" y2="511.20" stroke="#111" stroke-width="1.5"/>
<line x1="34.60" y1="510.70" x2="228.75" y2="510.70" stroke="#111" stroke-width="1.4"/>
<line x1="32.40" y1="509.90" x2="35.20" y2="509.90" stroke="#111" stroke-width="0.9"/>
<text transform="translate(29.30,512.25)" font-size="6.0" text-anchor="end" fill="#222" font-weight="normal" stroke="#222" stroke-width="0.12">7</text>
<line x1="33.60" y1="498.60" x2="35.20" y2="498.60" stroke="#111" stroke-width="0.7"/>
<line x1="32.40" y1="487.30" x2="35.20" y2="487.30" stroke="#111" stroke-width="0.9"/>
<text transform="translate(29.30,489.65)" font-size="6.0" text-anchor="end" fill="#222" font-weight="normal" stroke="#222" stroke-width="0.12">9</text>
<line x1="33.60" y1="476.00" x2="35.20" y2="476.00" stroke="#111" stroke-width="0.7"/>
<line x1="32.40" y1="464.70" x2="35.20" y2="464.70" stroke="#111" stroke-width="0.9"/>
<text transform="translate(29.30,467.05)" font-size="6.0" text-anchor="end" fill="#222" font-weight="normal" stroke="#222" stroke-width="0.12">11</text>
<line x1="33.60" y1="453.40" x2="35.20" y2="453.40" stroke="#111" stroke-width="0.7"/>
<line x1="32.40" y1="442.10" x2="35.20" y2="442.10" stroke="#111" stroke-width="0.9"/>
<text transform="translate(29.30,444.45)" font-size="6.0" text-anchor="end" fill="#222" font-weight="normal" stroke="#222" stroke-width="0.12">13</text>
<line x1="33.60" y1="430.80" x2="35.20" y2="430.80" stroke="#111" stroke-width="0.7"/>
<line x1="32.40" y1="419.50" x2="35.20" y2="419.50" stroke="#111" stroke-width="0.9"/>
<text transform="translate(29.30,421.85)" font-size="6.0" text-anchor="end" fill="#222" font-weight="normal" stroke="#222" stroke-width="0.12">15</text>
<line x1="33.60" y1="408.20" x2="35.20" y2="408.20" stroke="#111" stroke-width="0.7"/>
<line x1="32.40" y1="396.90" x2="35.20" y2="396.90" stroke="#111" stroke-width="0.9"/>
<text transform="translate(29.30,399.25)" font-size="6.0" text-anchor="end" fill="#222" font-weight="normal" stroke="#222" stroke-width="0.12">17</text>
<line x1="33.60" y1="385.60" x2="35.20" y2="385.60" stroke="#111" stroke-width="0.7"/>
<line x1="32.40" y1="374.30" x2="35.20" y2="374.30" stroke="#111" stroke-width="0.9"/>
<text transform="translate(29.30,376.65)" font-size="6.0" text-anchor="end" fill="#222" font-weight="normal" stroke="#222" stroke-width="0.12">19</text>
<text transform="translate(14.3,442.5) rotate(-90)" font-size="8.0" text-anchor="middle" fill="#222" stroke="#222" stroke-width="0.1" textLength="72" lengthAdjust="spacingAndGlyphs">Log<tspan font-size="5" dy="1.6">2</tspan><tspan dy="-1.6"> (protein copy number)</tspan></text>
<text transform="translate(44.89,519.20) rotate(-45) scale(0.95,1)" font-size="6.8" text-anchor="end" fill="#222" font-weight="normal" stroke="#222" stroke-width="0.12">GATA2</text>
<text transform="translate(57.78,519.20) rotate(-45) scale(0.95,1)" font-size="6.8" text-anchor="end" fill="#222" font-weight="normal" stroke="#222" stroke-width="0.12">GATA1</text>
<text transform="translate(70.67,519.20) rotate(-45) scale(0.95,1)" font-size="6.8" text-anchor="end" fill="#222" font-weight="normal" stroke="#222" stroke-width="0.12">ZFPM1</text>
<text transform="translate(83.56,519.20) rotate(-45) scale(0.95,1)" font-size="6.8" text-anchor="end" fill="#222" font-weight="normal" stroke="#222" stroke-width="0.12">LDB1</text>
<text transform="translate(96.45,519.20) rotate(-45) scale(0.95,1)" font-size="6.8" text-anchor="end" fill="#222" font-weight="normal" stroke="#222" stroke-width="0.12">TAL1</text>
<text transform="translate(109.34,519.20) rotate(-45) scale(0.95,1)" font-size="6.8" text-anchor="end" fill="#222" font-weight="normal" stroke="#222" stroke-width="0.12">LMO2</text>
<text transform="translate(122.23,519.20) rotate(-45) scale(0.95,1)" font-size="6.8" text-anchor="end" fill="#222" font-weight="normal" stroke="#222" stroke-width="0.12">TCF3</text>
<text transform="translate(135.12,519.20) rotate(-45) scale(0.95,1)" font-size="6.8" text-anchor="end" fill="#222" font-weight="normal" stroke="#222" stroke-width="0.12">CBFA2T3</text>
<text transform="translate(148.01,519.20) rotate(-45) scale(0.95,1)" font-size="6.8" text-anchor="end" fill="#222" font-weight="normal" stroke="#222" stroke-width="0.12">NFE2</text>
<text transform="translate(160.90,519.20) rotate(-45) scale(0.95,1)" font-size="6.8" text-anchor="end" fill="#222" font-weight="normal" stroke="#222" stroke-width="0.12">GFI1B</text>
<text transform="translate(173.79,519.20) rotate(-45) scale(0.95,1)" font-size="6.8" text-anchor="end" fill="#222" font-weight="normal" stroke="#222" stroke-width="0.12">KLF1</text>
<text transform="translate(186.68,519.20) rotate(-45) scale(0.95,1)" font-size="6.8" text-anchor="end" fill="#222" font-weight="normal" stroke="#222" stroke-width="0.12">KLF13</text>
<text transform="translate(199.57,519.20) rotate(-45) scale(0.95,1)" font-size="6.8" text-anchor="end" fill="#222" font-weight="normal" stroke="#222" stroke-width="0.12">NR3C1</text>
<text transform="translate(212.46,519.20) rotate(-45) scale(0.95,1)" font-size="6.8" text-anchor="end" fill="#222" font-weight="normal" stroke="#222" stroke-width="0.12">STAT5A</text>
<text transform="translate(225.35,519.20) rotate(-45) scale(0.95,1)" font-size="6.8" text-anchor="end" fill="#222" font-weight="normal" stroke="#222" stroke-width="0.12">STAT5B</text>
<line x1="39.20" y1="379.00" x2="39.20" y2="385.50" stroke="#777" stroke-width="0.9"/>
<polygon points="37.90,384.8 40.50,384.8 39.20,388" fill="#111"/>
<line x1="43.80" y1="379.00" x2="43.80" y2="385.50" stroke="#777" stroke-width="0.9"/>
<polygon points="42.50,384.8 45.10,384.8 43.80,388" fill="#111"/>
<line x1="52.09" y1="379.00" x2="52.09" y2="385.50" stroke="#777" stroke-width="0.9"/>
<polygon points="50.79,384.8 53.39,384.8 52.09,388" fill="#111"/>
<line x1="56.69" y1="379.00" x2="56.69" y2="385.50" stroke="#777" stroke-width="0.9"/>
<polygon points="55.39,384.8 57.99,384.8 56.69,388" fill="#111"/>
<line x1="64.98" y1="379.00" x2="64.98" y2="385.50" stroke="#777" stroke-width="0.9"/>
<polygon points="63.68,384.8 66.28,384.8 64.98,388" fill="#111"/>
<line x1="69.58" y1="379.00" x2="69.58" y2="385.50" stroke="#777" stroke-width="0.9"/>
<polygon points="68.28,384.8 70.88,384.8 69.58,388" fill="#111"/>
<line x1="77.87" y1="379.00" x2="77.87" y2="385.50" stroke="#777" stroke-width="0.9"/>
<polygon points="76.57,384.8 79.17,384.8 77.87,388" fill="#111"/>
<line x1="82.47" y1="379.00" x2="82.47" y2="385.50" stroke="#777" stroke-width="0.9"/>
<polygon points="81.17,384.8 83.77,384.8 82.47,388" fill="#111"/>
<line x1="90.26" y1="379.00" x2="90.26" y2="385.50" stroke="#777" stroke-width="0.9"/>
<polygon points="88.96,384.8 91.56,384.8 90.26,388" fill="#111"/>
<line x1="94.56" y1="382.00" x2="94.56" y2="388.50" stroke="#222" stroke-width="0.9"/>
<polygon points="93.26,382.5 95.86,382.5 94.56,379" fill="#111"/>
<line x1="97.36" y1="379.00" x2="97.36" y2="385.50" stroke="#777" stroke-width="0.9"/>
<polygon points="96.06,384.8 98.66,384.8 97.36,388" fill="#111"/>
<line x1="103.65" y1="379.00" x2="103.65" y2="385.50" stroke="#777" stroke-width="0.9"/>
<polygon points="102.35,384.8 104.95,384.8 103.65,388" fill="#111"/>
<line x1="108.25" y1="379.00" x2="108.25" y2="385.50" stroke="#777" stroke-width="0.9"/>
<polygon points="106.95,384.8 109.55,384.8 108.25,388" fill="#111"/>
<line x1="116.54" y1="379.00" x2="116.54" y2="385.50" stroke="#777" stroke-width="0.9"/>
<polygon points="115.24,384.8 117.84,384.8 116.54,388" fill="#111"/>
<line x1="121.14" y1="379.00" x2="121.14" y2="385.50" stroke="#777" stroke-width="0.9"/>
<polygon points="119.84,384.8 122.44,384.8 121.14,388" fill="#111"/>
<line x1="129.43" y1="379.00" x2="129.43" y2="385.50" stroke="#777" stroke-width="0.9"/>
<polygon points="128.13,384.8 130.73,384.8 129.43,388" fill="#111"/>
<line x1="134.03" y1="379.00" x2="134.03" y2="385.50" stroke="#777" stroke-width="0.9"/>
<polygon points="132.73,384.8 135.33,384.8 134.03,388" fill="#111"/>
<line x1="141.12" y1="384.20" x2="143.52" y2="384.20" stroke="#333" stroke-width="0.9"/>
<line x1="145.72" y1="384.20" x2="148.12" y2="384.20" stroke="#333" stroke-width="0.9"/>
<line x1="155.21" y1="379.00" x2="155.21" y2="385.50" stroke="#777" stroke-width="0.9"/>
<polygon points="153.91,384.8 156.51,384.8 155.21,388" fill="#111"/>
<line x1="159.81" y1="382.00" x2="159.81" y2="388.50" stroke="#222" stroke-width="0.9"/>
<polygon points="158.51,382.5 161.11,382.5 159.81,379" fill="#111"/>
<line x1="168.10" y1="382.00" x2="168.10" y2="388.50" stroke="#222" stroke-width="0.9"/>
<polygon points="166.80,382.5 169.40,382.5 168.10,379" fill="#111"/>
<line x1="171.50" y1="384.20" x2="173.90" y2="384.20" stroke="#333" stroke-width="0.9"/>
<line x1="180.99" y1="379.00" x2="180.99" y2="385.50" stroke="#777" stroke-width="0.9"/>
<polygon points="179.69,384.8 182.29,384.8 180.99,388" fill="#111"/>
<line x1="185.59" y1="382.00" x2="185.59" y2="388.50" stroke="#222" stroke-width="0.9"/>
<polygon points="184.29,382.5 186.89,382.5 185.59,379" fill="#111"/>
<line x1="193.88" y1="379.00" x2="193.88" y2="385.50" stroke="#777" stroke-width="0.9"/>
<polygon points="192.58,384.8 195.18,384.8 193.88,388" fill="#111"/>
<line x1="198.48" y1="379.00" x2="198.48" y2="385.50" stroke="#777" stroke-width="0.9"/>
<polygon points="197.18,384.8 199.78,384.8 198.48,388" fill="#111"/>
<line x1="206.77" y1="379.00" x2="206.77" y2="385.50" stroke="#777" stroke-width="0.9"/>
<polygon points="205.47,384.8 208.07,384.8 206.77,388" fill="#111"/>
<line x1="211.37" y1="379.00" x2="211.37" y2="385.50" stroke="#777" stroke-width="0.9"/>
<polygon points="210.07,384.8 212.67,384.8 211.37,388" fill="#111"/>
<line x1="219.66" y1="379.00" x2="219.66" y2="385.50" stroke="#777" stroke-width="0.9"/>
<polygon points="218.36,384.8 220.96,384.8 219.66,388" fill="#111"/>
<line x1="224.26" y1="379.00" x2="224.26" y2="385.50" stroke="#777" stroke-width="0.9"/>
<polygon points="222.96,384.8 225.56,384.8 224.26,388" fill="#111"/>
<circle cx="39.20" cy="455.60" r="2.3" fill="#1f4a8f" fill-opacity="0.92"/>
<rect x="41.60" y="443.80" width="4.20" height="4.20" fill="#1f4a8f"/>
<circle cx="52.09" cy="403.60" r="2.3" fill="#1f4a8f" fill-opacity="0.92"/>
<circle cx="52.09" cy="399.90" r="2.3" fill="#e6ad9f" fill-opacity="0.92"/>
<circle cx="52.09" cy="412.40" r="2.3" fill="#d88a7e" fill-opacity="0.92"/>
<circle cx="52.09" cy="414.40" r="2.3" fill="#c95b5b" fill-opacity="0.92"/>
<circle cx="52.09" cy="426.50" r="2.3" fill="#b5102e" fill-opacity="0.92"/>
<rect x="54.49" y="410.70" width="4.20" height="4.20" fill="#1f4a8f"/>
<rect x="54.49" y="406.30" width="4.20" height="4.20" fill="#f1d3cb"/>
<rect x="54.49" y="414.30" width="4.20" height="4.20" fill="#d88a7e"/>
<rect x="54.49" y="419.30" width="4.20" height="4.20" fill="#c95b5b"/>
<rect x="54.49" y="425.80" width="4.20" height="4.20" fill="#b5102e"/>
<circle cx="64.98" cy="424.50" r="2.3" fill="#1f4a8f" fill-opacity="0.92"/>
<circle cx="64.98" cy="421.80" r="2.3" fill="#e6ad9f" fill-opacity="0.92"/>
<circle cx="64.98" cy="429.20" r="2.3" fill="#d88a7e" fill-opacity="0.92"/>
<circle cx="64.98" cy="432.00" r="2.3" fill="#c95b5b" fill-opacity="0.92"/>
<circle cx="64.98" cy="437.00" r="2.3" fill="#b5102e" fill-opacity="0.92"/>
<rect x="67.38" y="450.10" width="4.20" height="4.20" fill="#f1d3cb"/>
<rect x="67.38" y="452.10" width="4.20" height="4.20" fill="#f1d3cb"/>
<rect x="67.38" y="454.50" width="4.20" height="4.20" fill="#e6ad9f"/>
<rect x="67.38" y="460.90" width="4.20" height="4.20" fill="#d88a7e"/>
<rect x="67.38" y="481.70" width="4.20" height="4.20" fill="#b5102e"/>
<circle cx="77.87" cy="429.00" r="2.3" fill="#1f4a8f" fill-opacity="0.92"/>
<circle cx="77.87" cy="421.80" r="2.3" fill="#f1d3cb" fill-opacity="0.92"/>
<circle cx="77.87" cy="431.90" r="2.3" fill="#e6ad9f" fill-opacity="0.92"/>
<circle cx="77.87" cy="438.00" r="2.3" fill="#d88a7e" fill-opacity="0.92"/>
<circle cx="77.87" cy="442.80" r="2.3" fill="#c95b5b" fill-opacity="0.92"/>
<circle cx="77.87" cy="446.80" r="2.3" fill="#b5102e" fill-opacity="0.92"/>
<rect x="80.27" y="430.90" width="4.20" height="4.20" fill="#1f4a8f"/>
<rect x="80.27" y="427.10" width="4.20" height="4.20" fill="#e6ad9f"/>
<rect x="80.27" y="433.90" width="4.20" height="4.20" fill="#d88a7e"/>
<rect x="80.27" y="440.30" width="4.20" height="4.20" fill="#c95b5b"/>
<rect x="80.27" y="461.80" width="4.20" height="4.20" fill="#b5102e"/>
<circle cx="90.76" cy="418.20" r="2.3" fill="#1f4a8f" fill-opacity="0.92"/>
<circle cx="90.76" cy="413.10" r="2.3" fill="#e6ad9f" fill-opacity="0.92"/>
<circle cx="90.76" cy="425.90" r="2.3" fill="#d88a7e" fill-opacity="0.92"/>
<circle cx="90.76" cy="432.60" r="2.3" fill="#c95b5b" fill-opacity="0.92"/>
<circle cx="90.76" cy="443.50" r="2.3" fill="#b5102e" fill-opacity="0.92"/>
<rect x="93.16" y="429.90" width="4.20" height="4.20" fill="#f1d3cb"/>
<rect x="93.16" y="436.20" width="4.20" height="4.20" fill="#e6ad9f"/>
<rect x="93.16" y="431.90" width="4.20" height="4.20" fill="#d88a7e"/>
<rect x="93.16" y="439.70" width="4.20" height="4.20" fill="#c95b5b"/>
<rect x="93.16" y="457.20" width="4.20" height="4.20" fill="#b5102e"/>
<circle cx="103.65" cy="419.80" r="2.3" fill="#1f4a8f" fill-opacity="0.92"/>
<circle cx="103.65" cy="421.10" r="2.3" fill="#f1d3cb" fill-opacity="0.92"/>
<circle cx="103.65" cy="425.20" r="2.3" fill="#e6ad9f" fill-opacity="0.92"/>
<circle cx="103.65" cy="439.40" r="2.3" fill="#d88a7e" fill-opacity="0.92"/>
<circle cx="103.65" cy="436.70" r="2.3" fill="#c95b5b" fill-opacity="0.92"/>
<circle cx="103.65" cy="445.90" r="2.3" fill="#b5102e" fill-opacity="0.92"/>
<rect x="106.05" y="434.50" width="4.20" height="4.20" fill="#1f4a8f"/>
<rect x="106.05" y="443.40" width="4.20" height="4.20" fill="#f1d3cb"/>
<rect x="106.05" y="438.00" width="4.20" height="4.20" fill="#e6ad9f"/>
<rect x="106.05" y="452.80" width="4.20" height="4.20" fill="#d88a7e"/>
<rect x="106.05" y="490.50" width="4.20" height="4.20" fill="#c95b5b"/>
<rect x="106.05" y="478.00" width="4.20" height="4.20" fill="#b5102e"/>
<circle cx="116.54" cy="431.90" r="2.3" fill="#1f4a8f" fill-opacity="0.92"/>
<circle cx="116.54" cy="429.20" r="2.3" fill="#f1d3cb" fill-opacity="0.92"/>
<circle cx="116.54" cy="437.40" r="2.3" fill="#e6ad9f" fill-opacity="0.92"/>
<circle cx="116.54" cy="449.50" r="2.3" fill="#d88a7e" fill-opacity="0.92"/>
<circle cx="116.54" cy="454.50" r="2.3" fill="#c95b5b" fill-opacity="0.92"/>
<circle cx="116.54" cy="464.70" r="2.3" fill="#b5102e" fill-opacity="0.92"/>
<rect x="118.94" y="430.90" width="4.20" height="4.20" fill="#e6ad9f"/>
<rect x="118.94" y="438.70" width="4.20" height="4.20" fill="#d88a7e"/>
<rect x="118.94" y="444.70" width="4.20" height="4.20" fill="#c95b5b"/>
<rect x="118.94" y="459.90" width="4.20" height="4.20" fill="#b5102e"/>
<circle cx="129.43" cy="424.90" r="2.3" fill="#1f4a8f" fill-opacity="0.92"/>
<circle cx="129.43" cy="434.30" r="2.3" fill="#f1d3cb" fill-opacity="0.92"/>
<circle cx="129.43" cy="440.10" r="2.3" fill="#e6ad9f" fill-opacity="0.92"/>
<circle cx="129.43" cy="452.20" r="2.3" fill="#d88a7e" fill-opacity="0.92"/>
<circle cx="129.43" cy="454.90" r="2.3" fill="#c95b5b" fill-opacity="0.92"/>
<circle cx="129.43" cy="460.70" r="2.3" fill="#b5102e" fill-opacity="0.92"/>
<rect x="131.83" y="460.20" width="4.20" height="4.20" fill="#1f4a8f"/>
<rect x="131.83" y="456.80" width="4.20" height="4.20" fill="#f1d3cb"/>
<rect x="131.83" y="483.80" width="4.20" height="4.20" fill="#e6ad9f"/>
<rect x="131.83" y="480.40" width="4.20" height="4.20" fill="#d88a7e"/>
<rect x="131.83" y="496.50" width="4.20" height="4.20" fill="#b5102e"/>
<circle cx="142.32" cy="458.90" r="2.3" fill="#e6ad9f" fill-opacity="0.92"/>
<circle cx="142.32" cy="451.50" r="2.3" fill="#d88a7e" fill-opacity="0.92"/>
<circle cx="142.32" cy="455.60" r="2.3" fill="#c95b5b" fill-opacity="0.92"/>
<circle cx="142.32" cy="462.60" r="2.3" fill="#b5102e" fill-opacity="0.92"/>
<rect x="144.72" y="433.90" width="4.20" height="4.20" fill="#f1d3cb"/>
<rect x="144.72" y="429.80" width="4.20" height="4.20" fill="#d88a7e"/>
<rect x="144.72" y="425.80" width="4.20" height="4.20" fill="#c95b5b"/>
<rect x="144.72" y="422.40" width="4.20" height="4.20" fill="#b5102e"/>
<circle cx="155.21" cy="417.10" r="2.3" fill="#1f4a8f" fill-opacity="0.92"/>
<circle cx="155.21" cy="414.40" r="2.3" fill="#f1d3cb" fill-opacity="0.92"/>
<circle cx="155.21" cy="419.80" r="2.3" fill="#e6ad9f" fill-opacity="0.92"/>
<circle cx="155.21" cy="443.50" r="2.3" fill="#d88a7e" fill-opacity="0.92"/>
<circle cx="155.21" cy="450.20" r="2.3" fill="#c95b5b" fill-opacity="0.92"/>
<circle cx="155.21" cy="447.50" r="2.3" fill="#b5102e" fill-opacity="0.92"/>
<rect x="157.61" y="429.90" width="4.20" height="4.20" fill="#b5102e"/>
<rect x="157.61" y="423.10" width="4.20" height="4.20" fill="#c95b5b"/>
<rect x="157.61" y="429.80" width="4.20" height="4.20" fill="#c95b5b"/>
<rect x="157.61" y="419.70" width="4.20" height="4.20" fill="#d88a7e"/>
<rect x="157.61" y="427.10" width="4.20" height="4.20" fill="#d88a7e"/>
<rect x="157.61" y="415.00" width="4.20" height="4.20" fill="#e6ad9f"/>
<rect x="157.61" y="425.10" width="4.20" height="4.20" fill="#1f4a8f"/>
<circle cx="168.10" cy="457.60" r="2.3" fill="#1f4a8f" fill-opacity="0.92"/>
<circle cx="168.10" cy="446.20" r="2.3" fill="#f1d3cb" fill-opacity="0.92"/>
<circle cx="168.10" cy="440.10" r="2.3" fill="#e6ad9f" fill-opacity="0.92"/>
<circle cx="168.10" cy="450.90" r="2.3" fill="#d88a7e" fill-opacity="0.92"/>
<circle cx="168.10" cy="454.20" r="2.3" fill="#c95b5b" fill-opacity="0.92"/>
<circle cx="168.10" cy="475.80" r="2.3" fill="#b5102e" fill-opacity="0.92"/>
<rect x="170.50" y="408.30" width="4.20" height="4.20" fill="#f1d3cb"/>
<rect x="170.50" y="411.00" width="4.20" height="4.20" fill="#e6ad9f"/>
<rect x="170.50" y="414.30" width="4.20" height="4.20" fill="#d88a7e"/>
<rect x="170.50" y="426.70" width="4.20" height="4.20" fill="#b5102e"/>
<circle cx="180.99" cy="428.10" r="2.3" fill="#1f4a8f" fill-opacity="0.92"/>
<circle cx="180.99" cy="422.50" r="2.3" fill="#f1d3cb" fill-opacity="0.92"/>
<circle cx="180.99" cy="424.50" r="2.3" fill="#e6ad9f" fill-opacity="0.92"/>
<circle cx="180.99" cy="443.50" r="2.3" fill="#d88a7e" fill-opacity="0.92"/>
<circle cx="180.99" cy="448.20" r="2.3" fill="#c95b5b" fill-opacity="0.92"/>
<circle cx="180.99" cy="465.30" r="2.3" fill="#b5102e" fill-opacity="0.92"/>
<rect x="183.39" y="452.80" width="4.20" height="4.20" fill="#f1d3cb"/>
<rect x="183.39" y="456.80" width="4.20" height="4.20" fill="#f1d3cb"/>
<rect x="183.39" y="450.80" width="4.20" height="4.20" fill="#e6ad9f"/>
<rect x="183.39" y="426.70" width="4.20" height="4.20" fill="#d88a7e"/>
<rect x="183.39" y="439.70" width="4.20" height="4.20" fill="#c95b5b"/>
<rect x="183.39" y="431.80" width="4.20" height="4.20" fill="#b5102e"/>
<circle cx="193.88" cy="448.20" r="2.3" fill="#1f4a8f" fill-opacity="0.92"/>
<circle cx="193.88" cy="451.50" r="2.3" fill="#f1d3cb" fill-opacity="0.92"/>
<circle cx="193.88" cy="460.30" r="2.3" fill="#e6ad9f" fill-opacity="0.92"/>
<circle cx="193.88" cy="466.30" r="2.3" fill="#d88a7e" fill-opacity="0.92"/>
<circle cx="193.88" cy="472.40" r="2.3" fill="#c95b5b" fill-opacity="0.92"/>
<circle cx="193.88" cy="493.00" r="2.3" fill="#b5102e" fill-opacity="0.92"/>
<rect x="196.28" y="466.90" width="4.20" height="4.20" fill="#1f4a8f"/>
<rect x="196.28" y="456.20" width="4.20" height="4.20" fill="#f1d3cb"/>
<rect x="196.28" y="464.20" width="4.20" height="4.20" fill="#e6ad9f"/>
<rect x="196.28" y="469.60" width="4.20" height="4.20" fill="#d88a7e"/>
<rect x="196.28" y="473.70" width="4.20" height="4.20" fill="#c95b5b"/>
<rect x="196.28" y="479.30" width="4.20" height="4.20" fill="#b5102e"/>
<circle cx="206.77" cy="398.90" r="2.3" fill="#1f4a8f" fill-opacity="0.92"/>
<circle cx="206.77" cy="404.30" r="2.3" fill="#f1d3cb" fill-opacity="0.92"/>
<circle cx="206.77" cy="409.70" r="2.3" fill="#e6ad9f" fill-opacity="0.92"/>
<circle cx="206.77" cy="422.50" r="2.3" fill="#d88a7e" fill-opacity="0.92"/>
<circle cx="206.77" cy="428.10" r="2.3" fill="#c95b5b" fill-opacity="0.92"/>
<circle cx="206.77" cy="435.70" r="2.3" fill="#b5102e" fill-opacity="0.92"/>
<rect x="209.17" y="390.50" width="4.20" height="4.20" fill="#1f4a8f"/>
<rect x="209.17" y="395.50" width="4.20" height="4.20" fill="#f1d3cb"/>
<rect x="209.17" y="400.90" width="4.20" height="4.20" fill="#e6ad9f"/>
<rect x="209.17" y="414.70" width="4.20" height="4.20" fill="#d88a7e"/>
<rect x="209.17" y="426.00" width="4.20" height="4.20" fill="#c95b5b"/>
<rect x="209.17" y="435.90" width="4.20" height="4.20" fill="#b5102e"/>
<circle cx="219.66" cy="436.30" r="2.3" fill="#1f4a8f" fill-opacity="0.92"/>
<circle cx="219.66" cy="442.10" r="2.3" fill="#f1d3cb" fill-opacity="0.92"/>
<circle cx="219.66" cy="450.20" r="2.3" fill="#e6ad9f" fill-opacity="0.92"/>
<circle cx="219.66" cy="459.60" r="2.3" fill="#d88a7e" fill-opacity="0.92"/>
<circle cx="219.66" cy="462.30" r="2.3" fill="#c95b5b" fill-opacity="0.92"/>
<circle cx="219.66" cy="470.40" r="2.3" fill="#b5102e" fill-opacity="0.92"/>
<rect x="222.06" y="433.90" width="4.20" height="4.20" fill="#1f4a8f"/>
<rect x="222.06" y="440.00" width="4.20" height="4.20" fill="#f1d3cb"/>
<rect x="222.06" y="444.70" width="4.20" height="4.20" fill="#e6ad9f"/>
<rect x="222.06" y="451.50" width="4.20" height="4.20" fill="#d88a7e"/>
<rect x="222.06" y="459.50" width="4.20" height="4.20" fill="#c95b5b"/>
<rect x="222.06" y="464.00" width="4.20" height="4.20" fill="#b5102e"/>
<polyline points="282.60,365.97 292.72,358.82 302.84,358.44 312.96,379.91 323.08,382.55 333.20,391.59" fill="none" stroke="#c42a4f" stroke-width="0.9" stroke-linejoin="round"/>
<circle cx="282.60" cy="365.97" r="0.95" fill="#c42a4f"/>
<circle cx="292.72" cy="358.82" r="0.95" fill="#c42a4f"/>
<circle cx="302.84" cy="358.44" r="0.95" fill="#c42a4f"/>
<circle cx="312.96" cy="379.91" r="0.95" fill="#c42a4f"/>
<circle cx="323.08" cy="382.55" r="0.95" fill="#c42a4f"/>
<circle cx="333.20" cy="391.59" r="0.95" fill="#c42a4f"/>
<polyline points="282.60,381.42 292.72,376.52 302.84,375.01 312.96,383.68 323.08,388.58 333.20,391.97" fill="none" stroke="#3b5fa6" stroke-width="0.9" stroke-linejoin="round"/>
<circle cx="282.60" cy="381.42" r="0.95" fill="#3b5fa6"/>
<circle cx="292.72" cy="376.52" r="0.95" fill="#3b5fa6"/>
<circle cx="302.84" cy="375.01" r="0.95" fill="#3b5fa6"/>
<circle cx="312.96" cy="383.68" r="0.95" fill="#3b5fa6"/>
<circle cx="323.08" cy="388.58" r="0.95" fill="#3b5fa6"/>
<circle cx="333.20" cy="391.97" r="0.95" fill="#3b5fa6"/>
<line x1="277.50" y1="351.50" x2="277.50" y2="400.00" stroke="#111" stroke-width="1.3"/>
<line x1="276.90" y1="399.50" x2="341.00" y2="399.50" stroke="#111" stroke-width="1.3"/>
<line x1="275.00" y1="399.50" x2="277.50" y2="399.50" stroke="#111" stroke-width="0.9"/>
<text transform="translate(271.50,401.85)" font-size="6.0" text-anchor="end" fill="#222" font-weight="normal" stroke="#222" stroke-width="0.12">0</text>
<line x1="275.00" y1="354.30" x2="277.50" y2="354.30" stroke="#111" stroke-width="0.9"/>
<text transform="translate(271.50,356.65) scale(1.1,1)" font-size="6.0" text-anchor="end" fill="#222" font-weight="normal" stroke="#222" stroke-width="0.12">1.2E+5</text>
<line x1="275.50" y1="391.97" x2="277.50" y2="391.97" stroke="#111" stroke-width="0.8"/>
<line x1="275.50" y1="384.43" x2="277.50" y2="384.43" stroke="#111" stroke-width="0.8"/>
<line x1="275.50" y1="376.90" x2="277.50" y2="376.90" stroke="#111" stroke-width="0.8"/>
<line x1="275.50" y1="369.36" x2="277.50" y2="369.36" stroke="#111" stroke-width="0.8"/>
<line x1="275.50" y1="361.83" x2="277.50" y2="361.83" stroke="#111" stroke-width="0.8"/>
<line x1="282.60" y1="399.50" x2="282.60" y2="402.00" stroke="#111" stroke-width="0.9"/>
<text transform="translate(282.60,410.80)" font-size="5.7" text-anchor="middle" fill="#222" font-weight="normal" stroke="#222" stroke-width="0.12">1</text>
<line x1="292.72" y1="399.50" x2="292.72" y2="402.00" stroke="#111" stroke-width="0.9"/>
<text transform="translate(292.72,410.80)" font-size="5.7" text-anchor="middle" fill="#222" font-weight="normal" stroke="#222" stroke-width="0.12">2</text>
<line x1="302.84" y1="399.50" x2="302.84" y2="402.00" stroke="#111" stroke-width="0.9"/>
<text transform="translate(302.84,410.80)" font-size="5.7" text-anchor="middle" fill="#222" font-weight="normal" stroke="#222" stroke-width="0.12">3</text>
<line x1="312.96" y1="399.50" x2="312.96" y2="402.00" stroke="#111" stroke-width="0.9"/>
<text transform="translate(312.96,410.80)" font-size="5.7" text-anchor="middle" fill="#222" font-weight="normal" stroke="#222" stroke-width="0.12">4</text>
<line x1="323.08" y1="399.50" x2="323.08" y2="402.00" stroke="#111" stroke-width="0.9"/>
<text transform="translate(323.08,410.80)" font-size="5.7" text-anchor="middle" fill="#222" font-weight="normal" stroke="#222" stroke-width="0.12">5</text>
<line x1="333.20" y1="399.50" x2="333.20" y2="402.00" stroke="#111" stroke-width="0.9"/>
<text transform="translate(333.20,410.80)" font-size="5.7" text-anchor="middle" fill="#222" font-weight="normal" stroke="#222" stroke-width="0.12">6</text>
<text transform="translate(259.30,383.40) rotate(-90)" font-size="6.9" text-anchor="middle" fill="#222" font-weight="normal" textLength="49" lengthAdjust="spacingAndGlyphs" stroke="#222" stroke-width="0.16">(Copy number/cell)</text>
<text transform="translate(269.20,383.50) rotate(-90)" font-size="7.9" text-anchor="middle" fill="#222" font-weight="normal" textLength="15.3" lengthAdjust="spacingAndGlyphs" stroke="#222" stroke-width="0.25">GATA1</text>
<polyline points="376.20,370.56 386.05,371.91 395.90,378.64 405.75,390.08 415.60,392.77 425.45,382.00" fill="none" stroke="#c42a4f" stroke-width="0.9" stroke-linejoin="round"/>
<circle cx="376.20" cy="370.56" r="0.95" fill="#c42a4f"/>
<circle cx="386.05" cy="371.91" r="0.95" fill="#c42a4f"/>
<circle cx="395.90" cy="378.64" r="0.95" fill="#c42a4f"/>
<circle cx="405.75" cy="390.08" r="0.95" fill="#c42a4f"/>
<circle cx="415.60" cy="392.77" r="0.95" fill="#c42a4f"/>
<circle cx="425.45" cy="382.00" r="0.95" fill="#c42a4f"/>
<polyline points="376.20,370.56 386.05,365.85 395.90,361.81 405.75,355.75 415.60,362.49 425.45,399.50" fill="none" stroke="#3b5fa6" stroke-width="0.9" stroke-linejoin="round"/>
<circle cx="376.20" cy="370.56" r="0.95" fill="#3b5fa6"/>
<circle cx="386.05" cy="365.85" r="0.95" fill="#3b5fa6"/>
<circle cx="395.90" cy="361.81" r="0.95" fill="#3b5fa6"/>
<circle cx="405.75" cy="355.75" r="0.95" fill="#3b5fa6"/>
<circle cx="415.60" cy="362.49" r="0.95" fill="#3b5fa6"/>
<circle cx="425.45" cy="399.50" r="0.95" fill="#3b5fa6"/>
<line x1="371.15" y1="349.60" x2="371.15" y2="400.00" stroke="#111" stroke-width="1.3"/>
<line x1="370.55" y1="399.50" x2="433.30" y2="399.50" stroke="#111" stroke-width="1.3"/>
<line x1="368.65" y1="399.50" x2="371.15" y2="399.50" stroke="#111" stroke-width="0.9"/>
<text transform="translate(365.15,401.85)" font-size="6.0" text-anchor="end" fill="#222" font-weight="normal" stroke="#222" stroke-width="0.12">0</text>
<line x1="368.65" y1="352.39" x2="371.15" y2="352.39" stroke="#111" stroke-width="0.9"/>
<text transform="translate(365.15,354.74)" font-size="6.0" text-anchor="end" fill="#222" font-weight="normal" stroke="#222" stroke-width="0.12">0.7</text>
<line x1="369.15" y1="392.77" x2="371.15" y2="392.77" stroke="#111" stroke-width="0.8"/>
<line x1="369.15" y1="386.04" x2="371.15" y2="386.04" stroke="#111" stroke-width="0.8"/>
<line x1="369.15" y1="379.31" x2="371.15" y2="379.31" stroke="#111" stroke-width="0.8"/>
<line x1="369.15" y1="372.58" x2="371.15" y2="372.58" stroke="#111" stroke-width="0.8"/>
<line x1="369.15" y1="365.85" x2="371.15" y2="365.85" stroke="#111" stroke-width="0.8"/>
<line x1="369.15" y1="359.12" x2="371.15" y2="359.12" stroke="#111" stroke-width="0.8"/>
<line x1="376.20" y1="399.50" x2="376.20" y2="402.00" stroke="#111" stroke-width="0.9"/>
<text transform="translate(376.20,410.80)" font-size="5.7" text-anchor="middle" fill="#222" font-weight="normal" stroke="#222" stroke-width="0.12">1</text>
<line x1="386.05" y1="399.50" x2="386.05" y2="402.00" stroke="#111" stroke-width="0.9"/>
<text transform="translate(386.05,410.80)" font-size="5.7" text-anchor="middle" fill="#222" font-weight="normal" stroke="#222" stroke-width="0.12">2</text>
<line x1="395.90" y1="399.50" x2="395.90" y2="402.00" stroke="#111" stroke-width="0.9"/>
<text transform="translate(395.90,410.80)" font-size="5.7" text-anchor="middle" fill="#222" font-weight="normal" stroke="#222" stroke-width="0.12">3</text>
<line x1="405.75" y1="399.50" x2="405.75" y2="402.00" stroke="#111" stroke-width="0.9"/>
<text transform="translate(405.75,410.80)" font-size="5.7" text-anchor="middle" fill="#222" font-weight="normal" stroke="#222" stroke-width="0.12">4</text>
<line x1="415.60" y1="399.50" x2="415.60" y2="402.00" stroke="#111" stroke-width="0.9"/>
<text transform="translate(415.60,410.80)" font-size="5.7" text-anchor="middle" fill="#222" font-weight="normal" stroke="#222" stroke-width="0.12">5</text>
<line x1="425.45" y1="399.50" x2="425.45" y2="402.00" stroke="#111" stroke-width="0.9"/>
<text transform="translate(425.45,410.80)" font-size="5.7" text-anchor="middle" fill="#222" font-weight="normal" stroke="#222" stroke-width="0.12">6</text>
<text transform="translate(363.60,376.00) rotate(-90)" font-size="7.8" text-anchor="middle" fill="#222" font-weight="normal" textLength="35.5" lengthAdjust="spacingAndGlyphs" stroke="#222" stroke-width="0.25">GFI1B/GATA1</text>
<polyline points="282.70,472.21 292.78,471.32 302.86,470.43 312.94,470.13 323.02,470.13 333.10,471.62" fill="none" stroke="#c42a4f" stroke-width="0.9" stroke-linejoin="round"/>
<circle cx="282.70" cy="472.21" r="0.95" fill="#c42a4f"/>
<circle cx="292.78" cy="471.32" r="0.95" fill="#c42a4f"/>
<circle cx="302.86" cy="470.43" r="0.95" fill="#c42a4f"/>
<circle cx="312.94" cy="470.13" r="0.95" fill="#c42a4f"/>
<circle cx="323.02" cy="470.13" r="0.95" fill="#c42a4f"/>
<circle cx="333.10" cy="471.62" r="0.95" fill="#c42a4f"/>
<polyline points="282.70,445.49 292.78,446.38 302.86,452.61 312.94,440.44 323.02,431.83 333.10,445.49" fill="none" stroke="#3b5fa6" stroke-width="0.9" stroke-linejoin="round"/>
<circle cx="282.70" cy="445.49" r="0.95" fill="#3b5fa6"/>
<circle cx="292.78" cy="446.38" r="0.95" fill="#3b5fa6"/>
<circle cx="302.86" cy="452.61" r="0.95" fill="#3b5fa6"/>
<circle cx="312.94" cy="440.44" r="0.95" fill="#3b5fa6"/>
<circle cx="323.02" cy="431.83" r="0.95" fill="#3b5fa6"/>
<circle cx="333.10" cy="445.49" r="0.95" fill="#3b5fa6"/>
<line x1="277.10" y1="422.70" x2="277.10" y2="473.60" stroke="#111" stroke-width="1.3"/>
<line x1="276.50" y1="473.10" x2="340.80" y2="473.10" stroke="#111" stroke-width="1.3"/>
<line x1="274.60" y1="473.10" x2="277.10" y2="473.10" stroke="#111" stroke-width="0.9"/>
<text transform="translate(271.10,475.45)" font-size="6.0" text-anchor="end" fill="#222" font-weight="normal" stroke="#222" stroke-width="0.12">0</text>
<line x1="274.60" y1="425.60" x2="277.10" y2="425.60" stroke="#111" stroke-width="0.9"/>
<text transform="translate(271.10,427.95)" font-size="6.0" text-anchor="end" fill="#222" font-weight="normal" stroke="#222" stroke-width="0.12">1.6</text>
<line x1="275.10" y1="467.16" x2="277.10" y2="467.16" stroke="#111" stroke-width="0.8"/>
<line x1="275.10" y1="461.22" x2="277.10" y2="461.22" stroke="#111" stroke-width="0.8"/>
<line x1="275.10" y1="455.29" x2="277.10" y2="455.29" stroke="#111" stroke-width="0.8"/>
<line x1="275.10" y1="449.35" x2="277.10" y2="449.35" stroke="#111" stroke-width="0.8"/>
<line x1="275.10" y1="443.41" x2="277.10" y2="443.41" stroke="#111" stroke-width="0.8"/>
<line x1="275.10" y1="437.47" x2="277.10" y2="437.47" stroke="#111" stroke-width="0.8"/>
<line x1="275.10" y1="431.53" x2="277.10" y2="431.53" stroke="#111" stroke-width="0.8"/>
<line x1="282.70" y1="473.10" x2="282.70" y2="475.60" stroke="#111" stroke-width="0.9"/>
<text transform="translate(282.70,484.40)" font-size="5.7" text-anchor="middle" fill="#222" font-weight="normal" stroke="#222" stroke-width="0.12">1</text>
<line x1="292.78" y1="473.10" x2="292.78" y2="475.60" stroke="#111" stroke-width="0.9"/>
<text transform="translate(292.78,484.40)" font-size="5.7" text-anchor="middle" fill="#222" font-weight="normal" stroke="#222" stroke-width="0.12">2</text>
<line x1="302.86" y1="473.10" x2="302.86" y2="475.60" stroke="#111" stroke-width="0.9"/>
<text transform="translate(302.86,484.40)" font-size="5.7" text-anchor="middle" fill="#222" font-weight="normal" stroke="#222" stroke-width="0.12">3</text>
<line x1="312.94" y1="473.10" x2="312.94" y2="475.60" stroke="#111" stroke-width="0.9"/>
<text transform="translate(312.94,484.40)" font-size="5.7" text-anchor="middle" fill="#222" font-weight="normal" stroke="#222" stroke-width="0.12">4</text>
<line x1="323.02" y1="473.10" x2="323.02" y2="475.60" stroke="#111" stroke-width="0.9"/>
<text transform="translate(323.02,484.40)" font-size="5.7" text-anchor="middle" fill="#222" font-weight="normal" stroke="#222" stroke-width="0.12">5</text>
<line x1="333.10" y1="473.10" x2="333.10" y2="475.60" stroke="#111" stroke-width="0.9"/>
<text transform="translate(333.10,484.40)" font-size="5.7" text-anchor="middle" fill="#222" font-weight="normal" stroke="#222" stroke-width="0.12">6</text>
<text transform="translate(269.80,449.70) rotate(-90)" font-size="7.8" text-anchor="middle" fill="#222" font-weight="normal" textLength="32.7" lengthAdjust="spacingAndGlyphs" stroke="#222" stroke-width="0.25">KLF1/GATA1</text>
<polyline points="376.30,445.26 386.30,443.90 396.30,441.53 406.30,443.56 416.30,450.01 426.30,449.00" fill="none" stroke="#c42a4f" stroke-width="0.9" stroke-linejoin="round"/>
<circle cx="376.30" cy="445.26" r="0.95" fill="#c42a4f"/>
<circle cx="386.30" cy="443.90" r="0.95" fill="#c42a4f"/>
<circle cx="396.30" cy="441.53" r="0.95" fill="#c42a4f"/>
<circle cx="406.30" cy="443.56" r="0.95" fill="#c42a4f"/>
<circle cx="416.30" cy="450.01" r="0.95" fill="#c42a4f"/>
<circle cx="426.30" cy="449.00" r="0.95" fill="#c42a4f"/>
<polyline points="376.30,469.03 386.30,461.56 396.30,457.82 406.30,446.62 416.30,453.07 426.30,463.25" fill="none" stroke="#3b5fa6" stroke-width="0.9" stroke-linejoin="round"/>
<circle cx="376.30" cy="469.03" r="0.95" fill="#3b5fa6"/>
<circle cx="386.30" cy="461.56" r="0.95" fill="#3b5fa6"/>
<circle cx="396.30" cy="457.82" r="0.95" fill="#3b5fa6"/>
<circle cx="406.30" cy="446.62" r="0.95" fill="#3b5fa6"/>
<circle cx="416.30" cy="453.07" r="0.95" fill="#3b5fa6"/>
<circle cx="426.30" cy="463.25" r="0.95" fill="#3b5fa6"/>
<line x1="370.60" y1="423.10" x2="370.60" y2="473.60" stroke="#111" stroke-width="1.3"/>
<line x1="370.00" y1="473.10" x2="433.80" y2="473.10" stroke="#111" stroke-width="1.3"/>
<line x1="368.10" y1="473.10" x2="370.60" y2="473.10" stroke="#111" stroke-width="0.9"/>
<text transform="translate(364.60,475.45)" font-size="6.0" text-anchor="end" fill="#222" font-weight="normal" stroke="#222" stroke-width="0.12">0</text>
<line x1="368.10" y1="425.57" x2="370.60" y2="425.57" stroke="#111" stroke-width="0.9"/>
<text transform="translate(364.60,427.92)" font-size="6.0" text-anchor="end" fill="#222" font-weight="normal" stroke="#222" stroke-width="0.12">0.7</text>
<line x1="368.60" y1="466.31" x2="370.60" y2="466.31" stroke="#111" stroke-width="0.8"/>
<line x1="368.60" y1="459.52" x2="370.60" y2="459.52" stroke="#111" stroke-width="0.8"/>
<line x1="368.60" y1="452.73" x2="370.60" y2="452.73" stroke="#111" stroke-width="0.8"/>
<line x1="368.60" y1="445.94" x2="370.60" y2="445.94" stroke="#111" stroke-width="0.8"/>
<line x1="368.60" y1="439.15" x2="370.60" y2="439.15" stroke="#111" stroke-width="0.8"/>
<line x1="368.60" y1="432.36" x2="370.60" y2="432.36" stroke="#111" stroke-width="0.8"/>
<line x1="376.30" y1="473.10" x2="376.30" y2="475.60" stroke="#111" stroke-width="0.9"/>
<text transform="translate(376.30,484.40)" font-size="5.7" text-anchor="middle" fill="#222" font-weight="normal" stroke="#222" stroke-width="0.12">1</text>
<line x1="386.30" y1="473.10" x2="386.30" y2="475.60" stroke="#111" stroke-width="0.9"/>
<text transform="translate(386.30,484.40)" font-size="5.7" text-anchor="middle" fill="#222" font-weight="normal" stroke="#222" stroke-width="0.12">2</text>
<line x1="396.30" y1="473.10" x2="396.30" y2="475.60" stroke="#111" stroke-width="0.9"/>
<text transform="translate(396.30,484.40)" font-size="5.7" text-anchor="middle" fill="#222" font-weight="normal" stroke="#222" stroke-width="0.12">3</text>
<line x1="406.30" y1="473.10" x2="406.30" y2="475.60" stroke="#111" stroke-width="0.9"/>
<text transform="translate(406.30,484.40)" font-size="5.7" text-anchor="middle" fill="#222" font-weight="normal" stroke="#222" stroke-width="0.12">4</text>
<line x1="416.30" y1="473.10" x2="416.30" y2="475.60" stroke="#111" stroke-width="0.9"/>
<text transform="translate(416.30,484.40)" font-size="5.7" text-anchor="middle" fill="#222" font-weight="normal" stroke="#222" stroke-width="0.12">5</text>
<line x1="426.30" y1="473.10" x2="426.30" y2="475.60" stroke="#111" stroke-width="0.9"/>
<text transform="translate(426.30,484.40)" font-size="5.7" text-anchor="middle" fill="#222" font-weight="normal" stroke="#222" stroke-width="0.12">6</text>
<text transform="translate(363.60,449.40) rotate(-90)" font-size="7.8" text-anchor="middle" fill="#222" font-weight="normal" textLength="30.4" lengthAdjust="spacingAndGlyphs" stroke="#222" stroke-width="0.25">TAL1/GATA1</text>
<line x1="277.70" y1="514.10" x2="277.70" y2="571.50" stroke="#111" stroke-width="1.3"/>
<line x1="277.10" y1="571.00" x2="338.70" y2="571.00" stroke="#111" stroke-width="1.3"/>
<line x1="274.80" y1="515.95" x2="277.70" y2="515.95" stroke="#111" stroke-width="0.9"/>
<text transform="translate(272.00,518.30)" font-size="6.0" text-anchor="end" fill="#222" font-weight="normal" stroke="#222" stroke-width="0.12">1.5</text>
<line x1="276.00" y1="523.50" x2="277.70" y2="523.50" stroke="#111" stroke-width="0.8"/>
<line x1="276.00" y1="531.05" x2="277.70" y2="531.05" stroke="#111" stroke-width="0.8"/>
<line x1="274.80" y1="538.60" x2="277.70" y2="538.60" stroke="#111" stroke-width="0.9"/>
<text transform="translate(272.00,540.95)" font-size="6.0" text-anchor="end" fill="#222" font-weight="normal" stroke="#222" stroke-width="0.12">0</text>
<line x1="276.00" y1="546.15" x2="277.70" y2="546.15" stroke="#111" stroke-width="0.8"/>
<line x1="276.00" y1="553.70" x2="277.70" y2="553.70" stroke="#111" stroke-width="0.8"/>
<line x1="276.00" y1="561.25" x2="277.70" y2="561.25" stroke="#111" stroke-width="0.8"/>
<line x1="274.80" y1="568.80" x2="277.70" y2="568.80" stroke="#111" stroke-width="0.9"/>
<text transform="translate(272.00,571.15)" font-size="6.0" text-anchor="end" fill="#222" font-weight="normal" stroke="#222" stroke-width="0.12">-2.0</text>
<line x1="279.90" y1="571.00" x2="279.90" y2="573.30" stroke="#111" stroke-width="0.9"/>
<line x1="286.80" y1="571.00" x2="286.80" y2="573.30" stroke="#111" stroke-width="0.9"/>
<line x1="293.70" y1="571.00" x2="293.70" y2="573.30" stroke="#111" stroke-width="0.9"/>
<line x1="300.70" y1="571.00" x2="300.70" y2="573.30" stroke="#111" stroke-width="0.9"/>
<line x1="307.60" y1="571.00" x2="307.60" y2="573.30" stroke="#111" stroke-width="0.9"/>
<line x1="315.40" y1="571.00" x2="315.40" y2="573.30" stroke="#111" stroke-width="0.9"/>
<line x1="322.30" y1="571.00" x2="322.30" y2="573.30" stroke="#111" stroke-width="0.9"/>
<line x1="329.20" y1="571.00" x2="329.20" y2="573.30" stroke="#111" stroke-width="0.9"/>
<line x1="336.20" y1="571.00" x2="336.20" y2="573.30" stroke="#111" stroke-width="0.9"/>
<polyline points="279.10,550.90 286.50,549.90 294.00,546.70 301.30,527.70 308.10,518.60" fill="none" stroke="#4a6cb0" stroke-width="0.9" stroke-linejoin="round"/>
<polyline points="315.10,517.10 322.50,545.40 329.90,542.30 336.90,549.20" fill="none" stroke="#c8305a" stroke-width="0.9" stroke-linejoin="round"/>
<line x1="278.20" y1="577.30" x2="304.20" y2="577.30" stroke="#4a6cb0" stroke-width="0.9"/>
<polygon points="303.50,575.80 306.70,577.30 303.50,578.80" fill="#4a6cb0"/>
<line x1="312.80" y1="577.30" x2="335.40" y2="577.30" stroke="#c8305a" stroke-width="0.9"/>
<polygon points="334.70,575.80 337.90,577.30 334.70,578.80" fill="#c8305a"/>
<text transform="translate(296.30,585.30) scale(0.9,1)" font-size="6.6" text-anchor="middle" fill="#222" font-weight="normal" stroke="#222" stroke-width="0.12">Human</text>
<text transform="translate(323.90,585.30) scale(0.9,1)" font-size="6.6" text-anchor="middle" fill="#222" font-weight="normal" stroke="#222" stroke-width="0.12">Murine</text>
<text transform="translate(266.00,598.00)" font-size="8.2" text-anchor="start" fill="#111" font-weight="normal" textLength="84" lengthAdjust="spacingAndGlyphs" stroke="#111" stroke-width="0.3">mRNA (cluster 25) : 318 mRNAs</text>
<text transform="translate(253.90,542.40) rotate(-90)" font-size="6.9" text-anchor="middle" fill="#222" font-weight="normal" textLength="62.4" lengthAdjust="spacingAndGlyphs" stroke="#222" stroke-width="0.16">Relative expression level</text>
<line x1="371.50" y1="512.50" x2="371.50" y2="571.50" stroke="#111" stroke-width="1.3"/>
<line x1="370.90" y1="571.00" x2="449.80" y2="571.00" stroke="#111" stroke-width="1.3"/>
<line x1="368.60" y1="515.04" x2="371.50" y2="515.04" stroke="#111" stroke-width="0.9"/>
<text transform="translate(365.30,517.39)" font-size="6.0" text-anchor="end" fill="#222" font-weight="normal" stroke="#222" stroke-width="0.12">1.5</text>
<line x1="369.80" y1="522.83" x2="371.50" y2="522.83" stroke="#111" stroke-width="0.8"/>
<line x1="369.80" y1="530.62" x2="371.50" y2="530.62" stroke="#111" stroke-width="0.8"/>
<line x1="368.60" y1="538.40" x2="371.50" y2="538.40" stroke="#111" stroke-width="0.9"/>
<text transform="translate(365.30,540.75)" font-size="6.0" text-anchor="end" fill="#222" font-weight="normal" stroke="#222" stroke-width="0.12">0</text>
<line x1="369.80" y1="546.18" x2="371.50" y2="546.18" stroke="#111" stroke-width="0.8"/>
<line x1="369.80" y1="553.97" x2="371.50" y2="553.97" stroke="#111" stroke-width="0.8"/>
<line x1="369.80" y1="561.75" x2="371.50" y2="561.75" stroke="#111" stroke-width="0.8"/>
<line x1="368.60" y1="569.54" x2="371.50" y2="569.54" stroke="#111" stroke-width="0.9"/>
<text transform="translate(365.30,571.89)" font-size="6.0" text-anchor="end" fill="#222" font-weight="normal" stroke="#222" stroke-width="0.12">-2.0</text>
<line x1="374.10" y1="571.00" x2="374.10" y2="573.30" stroke="#111" stroke-width="0.8"/>
<line x1="377.60" y1="571.00" x2="377.60" y2="573.30" stroke="#111" stroke-width="0.8"/>
<line x1="381.10" y1="571.00" x2="381.10" y2="573.30" stroke="#111" stroke-width="0.8"/>
<line x1="384.60" y1="571.00" x2="384.60" y2="573.30" stroke="#111" stroke-width="0.8"/>
<line x1="388.10" y1="571.00" x2="388.10" y2="573.30" stroke="#111" stroke-width="0.8"/>
<line x1="391.60" y1="571.00" x2="391.60" y2="573.30" stroke="#111" stroke-width="0.8"/>
<line x1="395.10" y1="571.00" x2="395.10" y2="573.30" stroke="#111" stroke-width="0.8"/>
<line x1="402.20" y1="571.00" x2="402.20" y2="573.30" stroke="#111" stroke-width="0.8"/>
<line x1="405.70" y1="571.00" x2="405.70" y2="573.30" stroke="#111" stroke-width="0.8"/>
<line x1="409.20" y1="571.00" x2="409.20" y2="573.30" stroke="#111" stroke-width="0.8"/>
<line x1="412.70" y1="571.00" x2="412.70" y2="573.30" stroke="#111" stroke-width="0.8"/>
<line x1="416.20" y1="571.00" x2="416.20" y2="573.30" stroke="#111" stroke-width="0.8"/>
<line x1="419.70" y1="571.00" x2="419.70" y2="573.30" stroke="#111" stroke-width="0.8"/>
<line x1="428.20" y1="571.00" x2="428.20" y2="573.30" stroke="#111" stroke-width="0.8"/>
<line x1="431.70" y1="571.00" x2="431.70" y2="573.30" stroke="#111" stroke-width="0.8"/>
<line x1="435.20" y1="571.00" x2="435.20" y2="573.30" stroke="#111" stroke-width="0.8"/>
<line x1="438.70" y1="571.00" x2="438.70" y2="573.30" stroke="#111" stroke-width="0.8"/>
<line x1="442.20" y1="571.00" x2="442.20" y2="573.30" stroke="#111" stroke-width="0.8"/>
<line x1="445.70" y1="571.00" x2="445.70" y2="573.30" stroke="#111" stroke-width="0.8"/>
<polyline points="374.50,527.00 377.50,523.30 381.30,530.00 385.00,536.80 388.80,547.00 392.50,549.50 395.50,554.30" fill="none" stroke="#4a6cb0" stroke-width="0.9" stroke-linejoin="round"/>
<polyline points="403.00,518.80 406.30,525.00 410.00,536.30 413.80,546.30 417.50,549.50 421.30,555.50" fill="none" stroke="#c8305a" stroke-width="0.9" stroke-linejoin="round"/>
<polyline points="428.80,523.00 432.00,522.00 435.50,537.00 439.50,548.80 443.00,548.80 447.00,553.00" fill="none" stroke="#f0a030" stroke-width="0.9" stroke-linejoin="round"/>
<line x1="374.50" y1="577.30" x2="391.90" y2="577.30" stroke="#4a6cb0" stroke-width="0.9"/>
<polygon points="391.20,575.80 394.40,577.30 391.20,578.80" fill="#4a6cb0"/>
<line x1="402.20" y1="577.30" x2="418.70" y2="577.30" stroke="#c8305a" stroke-width="0.9"/>
<polygon points="418.00,575.80 421.20,577.30 418.00,578.80" fill="#c8305a"/>
<line x1="427.00" y1="577.30" x2="443.80" y2="577.30" stroke="#f0a030" stroke-width="0.9"/>
<polygon points="443.10,575.80 446.30,577.30 443.10,578.80" fill="#f0a030"/>
<text transform="translate(384.30,585.30) scale(0.9,1)" font-size="6.6" text-anchor="middle" fill="#222" font-weight="normal" stroke="#222" stroke-width="0.12">Human</text>
<text transform="translate(412.00,585.30) scale(0.9,1)" font-size="6.6" text-anchor="middle" fill="#222" font-weight="normal" stroke="#222" stroke-width="0.12">Murine</text>
<text transform="translate(438.70,585.30) scale(0.9,1)" font-size="6.6" text-anchor="middle" fill="#222" font-weight="normal" stroke="#222" stroke-width="0.12">MEDEP</text>
<text transform="translate(361.30,598.00)" font-size="8.2" text-anchor="start" fill="#111" font-weight="normal" textLength="97.5" lengthAdjust="spacingAndGlyphs" stroke="#111" stroke-width="0.3">Corresponding proteins (140 proteins)</text>
<text transform="translate(348.80,541.30) rotate(-90)" font-size="6.9" text-anchor="middle" fill="#222" font-weight="normal" textLength="65" lengthAdjust="spacingAndGlyphs" stroke="#222" stroke-width="0.16">Z-score copy number/cell</text>
</svg></body></html>
